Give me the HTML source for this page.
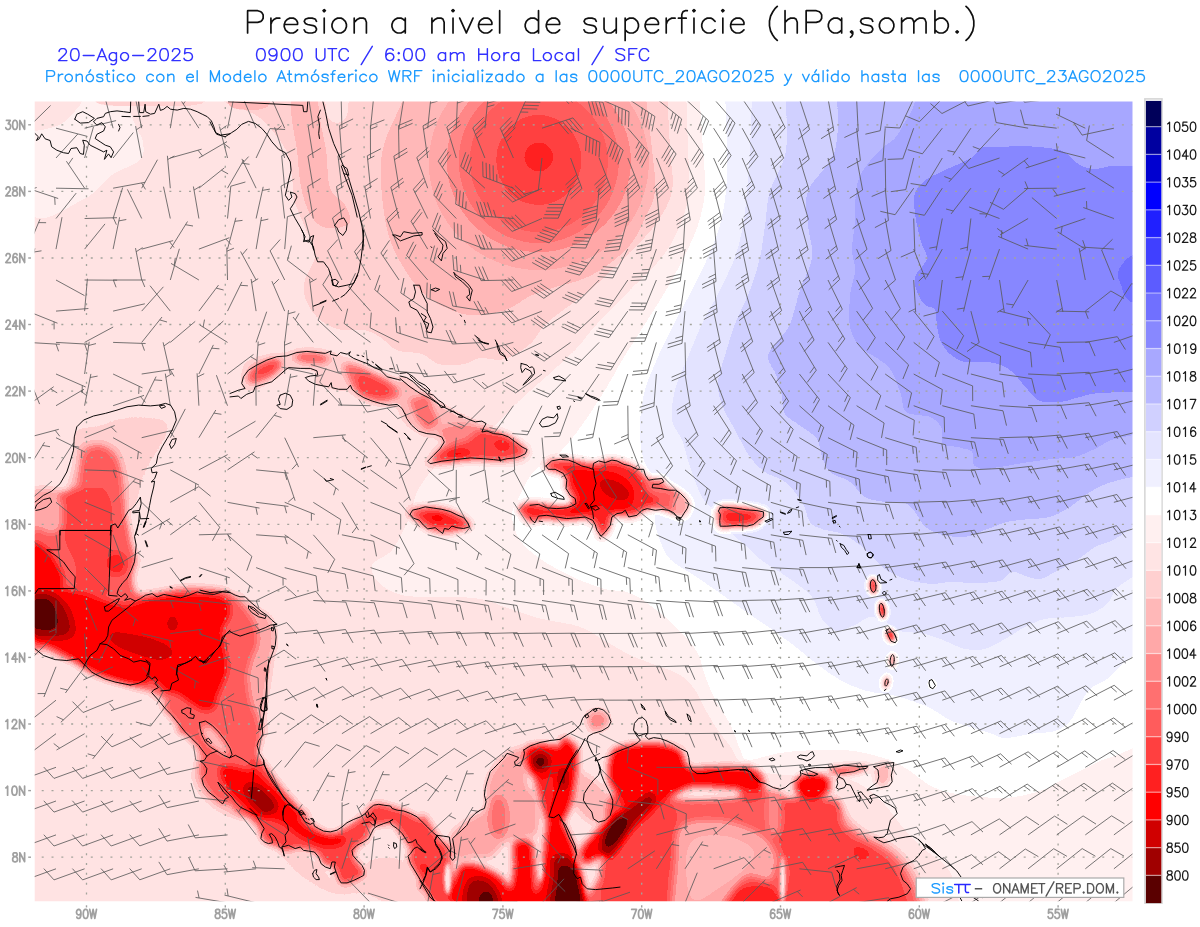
<!DOCTYPE html><html><head><meta charset="utf-8"><title>Presion a nivel de superficie</title><style>html,body{margin:0;padding:0;background:#fff;font-family:"Liberation Sans",sans-serif}svg{display:block}</style></head><body><svg width="1200" height="927" viewBox="0 0 1200 927"><defs><clipPath id="mapclip"><rect x="34.7" y="101.5" width="1097.8" height="799.7"/></clipPath><filter id="b3" color-interpolation-filters="sRGB" x="-20%" y="-20%" width="140%" height="140%"><feGaussianBlur stdDeviation="3"/></filter><filter id="b18" color-interpolation-filters="sRGB" x="-20%" y="-20%" width="140%" height="140%"><feGaussianBlur stdDeviation="1.8"/></filter><filter id="cmap" x="0" y="0" width="100%" height="100%" filterUnits="objectBoundingBox" color-interpolation-filters="sRGB"><feComponentTransfer><feFuncR type="discrete" tableValues="0.3529 0.6275 0.8157 1.0000 1.0000 1.0000 1.0000 1.0000 1.0000 1.0000 1.0000 1.0000 1.0000 1.0000 1.0000 0.9412 0.8941 0.8157 0.7216 0.6588 0.5333 0.4392 0.3608 0.2510 0.1255 0.0000 0.0000 0.0000 0.0000"/><feFuncG type="discrete" tableValues="0.0000 0.0000 0.0000 0.0000 0.1255 0.2510 0.3608 0.4392 0.5333 0.6588 0.7216 0.8157 0.8941 0.9412 1.0000 0.9412 0.8941 0.8157 0.7216 0.6588 0.5333 0.4392 0.3608 0.2510 0.1255 0.0000 0.0000 0.0000 0.0000"/><feFuncB type="discrete" tableValues="0.0000 0.0000 0.0000 0.0000 0.1255 0.2510 0.3608 0.4392 0.5333 0.6588 0.7216 0.8157 0.8941 0.9412 1.0000 1.0000 1.0000 1.0000 1.0000 1.0000 1.0000 1.0000 1.0000 1.0000 1.0000 1.0000 0.8157 0.6275 0.3529"/></feComponentTransfer></filter></defs><rect width="1200" height="927" fill="#fff"/><g clip-path="url(#mapclip)"><g filter="url(#cmap)"><rect x="32.7" y="99.5" width="1101.8" height="803.7" fill="#6e6e6e"/><path d="M686.0,90.0C686.3,100.0 687.5,133.2 688.0,150.0C688.5,166.8 690.3,178.5 689.0,191.0C687.7,203.5 684.5,214.0 680.0,225.0C675.5,236.0 670.3,246.2 662.0,257.0C653.7,267.8 640.8,278.8 630.0,290.0C619.2,301.2 606.2,314.0 597.0,324.0C587.8,334.0 583.2,341.5 575.0,350.0C566.8,358.5 557.2,366.7 548.0,375.0C538.8,383.3 528.8,391.7 520.0,400.0C511.2,408.3 503.3,417.5 495.0,425.0C486.7,432.5 479.2,438.8 470.0,445.0C460.8,451.2 448.7,454.5 440.0,462.0C431.3,469.5 423.3,480.3 418.0,490.0C412.7,499.7 412.3,510.0 408.0,520.0C403.7,530.0 398.0,542.5 392.0,550.0C386.0,557.5 374.0,559.3 372.0,565.0C370.0,570.7 374.5,578.8 380.0,584.0C385.5,589.2 394.7,593.8 405.0,596.0C415.3,598.2 429.5,596.5 442.0,597.0C454.5,597.5 468.7,597.0 480.0,599.0C491.3,601.0 499.7,605.7 510.0,609.0C520.3,612.3 530.3,616.0 542.0,619.0C553.7,622.0 569.5,623.3 580.0,627.0C590.5,630.7 596.7,636.3 605.0,641.0C613.3,645.7 621.7,651.0 630.0,655.0C638.3,659.0 646.7,661.7 655.0,665.0C663.3,668.3 673.3,670.8 680.0,675.0C686.7,679.2 690.8,684.3 695.0,690.0C699.2,695.7 701.3,702.5 705.0,709.0C708.7,715.5 712.8,722.8 717.0,729.0C721.2,735.2 726.2,740.5 730.0,746.0C733.8,751.5 735.0,757.7 740.0,762.0C745.0,766.3 750.0,769.7 760.0,772.0C770.0,774.3 785.0,774.7 800.0,776.0C815.0,777.3 836.7,776.0 850.0,780.0C863.3,784.0 870.8,791.7 880.0,800.0C889.2,808.3 897.5,821.7 905.0,830.0C912.5,838.3 917.5,843.0 925.0,850.0C932.5,857.0 943.8,860.8 950.0,872.0C956.2,883.2 960.0,909.5 962.0,917.0L1155.0,917.0 L1155.0,80.0 L686.0,80.0 Z" fill="#777777"/><path d="M699.0,90.0C699.7,100.0 702.0,133.2 703.0,150.0C704.0,166.8 705.8,178.5 705.0,191.0C704.2,203.5 701.5,214.0 698.0,225.0C694.5,236.0 689.3,246.2 684.0,257.0C678.7,267.8 672.5,278.8 666.0,290.0C659.5,301.2 652.0,312.8 645.0,324.0C638.0,335.2 630.7,346.0 624.0,357.0C617.3,368.0 612.0,378.7 605.0,390.0C598.0,401.3 589.5,414.7 582.0,425.0C574.5,435.3 567.8,444.5 560.0,452.0C552.2,459.5 541.7,462.8 535.0,470.0C528.3,477.2 523.8,487.5 520.0,495.0C516.2,502.5 512.0,507.5 512.0,515.0C512.0,522.5 515.0,532.5 520.0,540.0C525.0,547.5 532.8,553.7 542.0,560.0C551.2,566.3 564.5,573.2 575.0,578.0C585.5,582.8 595.8,586.5 605.0,589.0C614.2,591.5 621.7,589.7 630.0,593.0C638.3,596.3 646.7,602.7 655.0,609.0C663.3,615.3 673.0,623.8 680.0,631.0C687.0,638.2 692.8,644.5 697.0,652.0C701.2,659.5 702.0,668.2 705.0,676.0C708.0,683.8 710.8,691.0 715.0,699.0C719.2,707.0 725.8,715.7 730.0,724.0C734.2,732.3 737.0,743.0 740.0,749.0C743.0,755.0 741.3,759.3 748.0,760.0C754.7,760.7 768.0,754.7 780.0,753.0C792.0,751.3 806.7,750.2 820.0,750.0C833.3,749.8 846.7,749.5 860.0,752.0C873.3,754.5 886.7,758.7 900.0,765.0C913.3,771.3 923.3,784.5 940.0,790.0C956.7,795.5 983.3,797.8 1000.0,798.0C1016.7,798.2 1030.0,793.8 1040.0,791.0C1050.0,788.2 1053.3,784.3 1060.0,781.0C1066.7,777.7 1073.3,774.3 1080.0,771.0C1086.7,767.7 1093.3,763.8 1100.0,761.0C1106.7,758.2 1112.5,757.2 1120.0,754.0C1127.5,750.8 1140.8,744.0 1145.0,742.0L1155.0,742.0 L1155.0,80.0 L699.0,80.0 Z" fill="#808080"/><path d="M725.0,90.0C725.3,100.0 726.8,133.2 727.0,150.0C727.2,166.8 727.2,178.5 726.0,191.0C724.8,203.5 723.0,214.0 720.0,225.0C717.0,236.0 712.7,246.2 708.0,257.0C703.3,267.8 697.7,278.8 692.0,290.0C686.3,301.2 679.7,312.8 674.0,324.0C668.3,335.2 662.8,346.0 658.0,357.0C653.2,368.0 648.0,378.7 645.0,390.0C642.0,401.3 640.3,413.8 640.0,425.0C639.7,436.2 640.5,447.0 643.0,457.0C645.5,467.0 653.0,474.5 655.0,485.0C657.0,495.5 654.2,510.8 655.0,520.0C655.8,529.2 657.5,533.5 660.0,540.0C662.5,546.5 664.7,553.3 670.0,559.0C675.3,564.7 684.2,568.7 692.0,574.0C699.8,579.3 708.7,585.2 717.0,591.0C725.3,596.8 733.7,603.2 742.0,609.0C750.3,614.8 758.7,620.2 767.0,626.0C775.3,631.8 783.7,637.7 792.0,644.0C800.3,650.3 808.7,657.8 817.0,664.0C825.3,670.2 833.7,676.5 842.0,681.0C850.3,685.5 858.7,688.7 867.0,691.0C875.3,693.3 884.5,693.3 892.0,695.0C899.5,696.7 905.7,698.8 912.0,701.0C918.3,703.2 923.7,704.8 930.0,708.0C936.3,711.2 943.3,716.8 950.0,720.0C956.7,723.2 963.3,724.8 970.0,727.0C976.7,729.2 984.2,731.2 990.0,733.0C995.8,734.8 998.3,737.8 1005.0,738.0C1011.7,738.2 1021.7,735.2 1030.0,734.0C1038.3,732.8 1048.3,733.2 1055.0,731.0C1061.7,728.8 1065.8,725.5 1070.0,721.0C1074.2,716.5 1076.7,709.3 1080.0,704.0C1083.3,698.7 1085.5,693.2 1090.0,689.0C1094.5,684.8 1101.2,683.5 1107.0,679.0C1112.8,674.5 1118.7,667.5 1125.0,662.0C1131.3,656.5 1141.7,648.7 1145.0,646.0L1155.0,646.0 L1155.0,80.0 L725.0,80.0 Z" fill="#888888"/><path d="M752.0,90.0C751.7,100.0 750.8,133.2 750.0,150.0C749.2,166.8 748.2,178.5 747.0,191.0C745.8,203.5 745.0,214.0 743.0,225.0C741.0,236.0 738.8,246.2 735.0,257.0C731.2,267.8 725.5,278.8 720.0,290.0C714.5,301.2 707.3,312.8 702.0,324.0C696.7,335.2 692.5,346.0 688.0,357.0C683.5,368.0 677.7,379.5 675.0,390.0C672.3,400.5 670.8,411.7 672.0,420.0C673.2,428.3 679.0,432.2 682.0,440.0C685.0,447.8 686.7,457.5 690.0,467.0C693.3,476.5 697.8,489.5 702.0,497.0C706.2,504.5 710.3,506.2 715.0,512.0C719.7,517.8 725.0,526.5 730.0,532.0C735.0,537.5 740.0,540.5 745.0,545.0C750.0,549.5 752.5,553.3 760.0,559.0C767.5,564.7 781.3,572.7 790.0,579.0C798.7,585.3 806.7,590.3 812.0,597.0C817.3,603.7 817.8,613.3 822.0,619.0C826.2,624.7 831.5,630.0 837.0,631.0C842.5,632.0 849.5,627.3 855.0,625.0C860.5,622.7 865.0,617.5 870.0,617.0C875.0,616.5 880.0,619.7 885.0,622.0C890.0,624.3 893.3,629.0 900.0,631.0C906.7,633.0 917.5,632.3 925.0,634.0C932.5,635.7 938.3,638.5 945.0,641.0C951.7,643.5 958.3,647.7 965.0,649.0C971.7,650.3 978.3,650.7 985.0,649.0C991.7,647.3 998.3,642.7 1005.0,639.0C1011.7,635.3 1018.3,630.3 1025.0,627.0C1031.7,623.7 1037.5,620.7 1045.0,619.0C1052.5,617.3 1062.5,617.8 1070.0,617.0C1077.5,616.2 1083.8,616.2 1090.0,614.0C1096.2,611.8 1102.3,608.5 1107.0,604.0C1111.7,599.5 1111.7,592.7 1118.0,587.0C1124.3,581.3 1140.5,572.8 1145.0,570.0L1155.0,570.0 L1155.0,80.0 L752.0,80.0 Z" fill="#919191"/><path d="M785.0,90.0C785.2,100.0 788.5,133.2 786.0,150.0C783.5,166.8 773.5,178.5 770.0,191.0C766.5,203.5 766.7,214.0 765.0,225.0C763.3,236.0 762.5,246.2 760.0,257.0C757.5,267.8 754.2,278.8 750.0,290.0C745.8,301.2 739.0,313.7 735.0,324.0C731.0,334.3 728.8,342.3 726.0,352.0C723.2,361.7 718.7,373.2 718.0,382.0C717.3,390.8 719.2,397.0 722.0,405.0C724.8,413.0 730.3,421.3 735.0,430.0C739.7,438.7 745.0,450.0 750.0,457.0C755.0,464.0 759.2,467.8 765.0,472.0C770.8,476.2 778.8,477.0 785.0,482.0C791.2,487.0 797.8,495.3 802.0,502.0C806.2,508.7 806.7,517.5 810.0,522.0C813.3,526.5 816.7,527.0 822.0,529.0C827.3,531.0 835.7,531.3 842.0,534.0C848.3,536.7 854.5,540.8 860.0,545.0C865.5,549.2 870.8,555.0 875.0,559.0C879.2,563.0 880.0,565.7 885.0,569.0C890.0,572.3 897.5,576.5 905.0,579.0C912.5,581.5 922.5,583.5 930.0,584.0C937.5,584.5 942.5,582.2 950.0,582.0C957.5,581.8 966.7,583.2 975.0,583.0C983.3,582.8 993.8,582.8 1000.0,581.0C1006.2,579.2 1007.8,572.8 1012.0,572.0C1016.2,571.2 1020.3,574.8 1025.0,576.0C1029.7,577.2 1035.0,579.7 1040.0,579.0C1045.0,578.3 1050.0,574.5 1055.0,572.0C1060.0,569.5 1065.8,566.3 1070.0,564.0C1074.2,561.7 1075.8,560.8 1080.0,558.0C1084.2,555.2 1089.2,550.2 1095.0,547.0C1100.8,543.8 1106.7,543.8 1115.0,539.0C1123.3,534.2 1140.0,521.5 1145.0,518.0L1155.0,518.0 L1155.0,80.0 L785.0,80.0 Z" fill="#9a9a9a"/><path d="M837.0,90.0C836.7,100.0 839.8,133.2 835.0,150.0C830.2,166.8 812.5,178.5 808.0,191.0C803.5,203.5 807.3,214.0 808.0,225.0C808.7,236.0 813.3,246.2 812.0,257.0C810.7,267.8 803.7,278.8 800.0,290.0C796.3,301.2 793.8,315.3 790.0,324.0C786.2,332.7 780.7,336.5 777.0,342.0C773.3,347.5 768.0,351.2 768.0,357.0C768.0,362.8 774.7,370.3 777.0,377.0C779.3,383.7 780.7,390.8 782.0,397.0C783.3,403.2 781.7,409.0 785.0,414.0C788.3,419.0 796.7,422.8 802.0,427.0C807.3,431.2 813.7,434.0 817.0,439.0C820.3,444.0 819.8,451.5 822.0,457.0C824.2,462.5 825.3,467.8 830.0,472.0C834.7,476.2 844.2,477.8 850.0,482.0C855.8,486.2 859.2,493.7 865.0,497.0C870.8,500.3 878.3,501.0 885.0,502.0C891.7,503.0 900.0,501.3 905.0,503.0C910.0,504.7 912.2,508.7 915.0,512.0C917.8,515.3 919.5,520.0 922.0,523.0C924.5,526.0 926.5,528.0 930.0,530.0C933.5,532.0 937.2,533.8 943.0,535.0C948.8,536.2 958.0,537.8 965.0,537.0C972.0,536.2 978.0,532.5 985.0,530.0C992.0,527.5 999.5,523.8 1007.0,522.0C1014.5,520.2 1022.8,519.8 1030.0,519.0C1037.2,518.2 1043.3,519.0 1050.0,517.0C1056.7,515.0 1063.3,511.2 1070.0,507.0C1076.7,502.8 1083.0,496.2 1090.0,492.0C1097.0,487.8 1102.8,485.0 1112.0,482.0C1121.2,479.0 1139.5,475.3 1145.0,474.0L1155.0,474.0 L1155.0,80.0 L837.0,80.0 Z" fill="#a3a3a3"/><path d="M918.0,90.0C917.0,93.3 914.5,104.2 912.0,110.0C909.5,115.8 905.8,120.3 903.0,125.0C900.2,129.7 898.8,133.8 895.0,138.0C891.2,142.2 885.5,144.3 880.0,150.0C874.5,155.7 866.0,165.2 862.0,172.0C858.0,178.8 857.2,183.0 856.0,191.0C854.8,199.0 855.7,210.2 855.0,220.0C854.3,229.8 852.0,241.7 852.0,250.0C852.0,258.3 855.3,262.5 855.0,270.0C854.7,277.5 850.8,285.5 850.0,295.0C849.2,304.5 848.3,318.3 850.0,327.0C851.7,335.7 855.8,342.0 860.0,347.0C864.2,352.0 870.0,353.3 875.0,357.0C880.0,360.7 885.8,363.2 890.0,369.0C894.2,374.8 897.5,385.0 900.0,392.0C902.5,399.0 902.2,407.2 905.0,411.0C907.8,414.8 912.8,414.0 917.0,415.0C921.2,416.0 926.0,415.0 930.0,417.0C934.0,419.0 938.8,422.5 941.0,427.0C943.2,431.5 940.3,440.7 943.0,444.0C945.7,447.3 952.2,445.7 957.0,447.0C961.8,448.3 969.3,449.2 972.0,452.0C974.7,454.8 971.2,461.2 973.0,464.0C974.8,466.8 978.5,468.5 983.0,469.0C987.5,469.5 992.2,468.2 1000.0,467.0C1007.8,465.8 1020.8,463.3 1030.0,462.0C1039.2,460.7 1047.5,459.8 1055.0,459.0C1062.5,458.2 1068.3,458.7 1075.0,457.0C1081.7,455.3 1088.8,451.8 1095.0,449.0C1101.2,446.2 1103.7,442.7 1112.0,440.0C1120.3,437.3 1139.5,434.2 1145.0,433.0L1155.0,433.0 L1155.0,80.0 L918.0,80.0 Z" fill="#ababab"/><path d="M1145.0,166.0C1139.5,166.0 1120.3,165.5 1112.0,166.0C1103.7,166.5 1100.3,169.2 1095.0,169.0C1089.7,168.8 1084.7,167.5 1080.0,165.0C1075.3,162.5 1071.2,156.7 1067.0,154.0C1062.8,151.3 1062.0,150.3 1055.0,149.0C1048.0,147.7 1034.2,146.3 1025.0,146.0C1015.8,145.7 1007.2,146.8 1000.0,147.0C992.8,147.2 986.2,146.2 982.0,147.5C977.8,148.8 977.8,152.8 975.0,155.0C972.2,157.2 970.0,158.5 965.0,161.0C960.0,163.5 951.3,167.0 945.0,170.0C938.7,173.0 931.7,175.8 927.0,179.0C922.3,182.2 919.2,185.5 917.0,189.0C914.8,192.5 914.2,194.8 914.0,200.0C913.8,205.2 914.8,213.0 916.0,220.0C917.2,227.0 919.2,235.8 921.0,242.0C922.8,248.2 926.8,252.8 927.0,257.0C927.2,261.2 924.0,263.7 922.0,267.0C920.0,270.3 915.8,272.8 915.0,277.0C914.2,281.2 915.3,287.3 917.0,292.0C918.7,296.7 922.0,302.0 925.0,305.0C928.0,308.0 933.0,306.3 935.0,310.0C937.0,313.7 936.0,321.7 937.0,327.0C938.0,332.3 938.8,337.5 941.0,342.0C943.2,346.5 946.0,350.7 950.0,354.0C954.0,357.3 958.8,360.7 965.0,362.0C971.2,363.3 980.3,361.2 987.0,362.0C993.7,362.8 1000.0,364.5 1005.0,367.0C1010.0,369.5 1013.3,373.3 1017.0,377.0C1020.7,380.7 1023.2,385.0 1027.0,389.0C1030.8,393.0 1034.5,398.8 1040.0,401.0C1045.5,403.2 1053.3,402.7 1060.0,402.0C1066.7,401.3 1073.3,398.5 1080.0,397.0C1086.7,395.5 1089.2,393.8 1100.0,393.0C1110.8,392.2 1137.5,392.2 1145.0,392.0L1155.0,392.0 L1155.0,166.0 Z" fill="#b4b4b4"/><path d="M1145.0,248.0C1142.2,249.7 1132.5,254.0 1128.0,258.0C1123.5,262.0 1119.2,267.5 1118.0,272.0C1116.8,276.5 1119.3,280.3 1121.0,285.0C1122.7,289.7 1124.0,296.5 1128.0,300.0C1132.0,303.5 1142.2,305.0 1145.0,306.0L1155.0,306.0 L1155.0,248.0 Z" fill="#bdbdbd"/><path d="M30.0,212.0C39.0,230.2 70.3,205.2 84.0,199.0C97.7,192.8 102.7,181.5 112.0,175.0C121.3,168.5 134.8,165.5 140.0,160.0C145.2,154.5 143.7,147.5 143.0,142.0C142.3,136.5 138.2,132.3 136.0,127.0C133.8,121.7 131.8,116.2 130.0,110.0C128.2,103.8 141.7,93.3 125.0,90.0C108.3,86.7 45.8,69.7 30.0,90.0C14.2,110.3 21.0,193.8 30.0,212.0Z" fill="#777777"/><path d="M667.0,90.0C667.5,100.0 669.2,133.2 670.0,150.0C670.8,166.8 674.5,178.5 672.0,191.0C669.5,203.5 662.8,214.0 655.0,225.0C647.2,236.0 635.8,246.2 625.0,257.0C614.2,267.8 602.8,279.2 590.0,290.0C577.2,300.8 558.0,313.0 548.0,322.0C538.0,331.0 537.2,337.8 530.0,344.0C522.8,350.2 513.3,356.7 505.0,359.0C496.7,361.3 486.8,357.2 480.0,358.0C473.2,358.8 470.8,363.0 464.0,364.0C457.2,365.0 446.0,365.7 439.0,364.0C432.0,362.3 429.0,356.3 422.0,354.0C415.0,351.7 404.0,352.8 397.0,350.0C390.0,347.2 385.5,340.3 380.0,337.0C374.5,333.7 371.0,331.3 364.0,330.0C357.0,328.7 345.8,331.2 338.0,329.0C330.2,326.8 322.5,322.3 317.0,317.0C311.5,311.7 307.0,303.2 305.0,297.0C303.0,290.8 303.3,287.0 305.0,280.0C306.7,273.0 315.0,263.8 315.0,255.0C315.0,246.2 308.3,235.8 305.0,227.0C301.7,218.2 297.2,210.3 295.0,202.0C292.8,193.7 293.3,185.3 292.0,177.0C290.7,168.7 291.5,161.2 287.0,152.0C282.5,142.8 272.0,129.0 265.0,122.0C258.0,115.0 251.7,113.3 245.0,110.0C238.3,106.7 228.8,105.3 225.0,102.0C221.2,98.7 222.5,92.0 222.0,90.0Z" fill="#656565"/><path d="M645.0,90.0C646.2,100.0 650.3,133.2 652.0,150.0C653.7,166.8 656.2,179.7 655.0,191.0C653.8,202.3 649.2,209.0 645.0,218.0C640.8,227.0 636.7,236.8 630.0,245.0C623.3,253.2 613.3,261.2 605.0,267.0C596.7,272.8 588.3,276.7 580.0,280.0C571.7,283.3 563.3,284.3 555.0,287.0C546.7,289.7 538.3,292.2 530.0,296.0C521.7,299.8 515.0,306.8 505.0,310.0C495.0,313.2 481.7,316.3 470.0,315.0C458.3,313.7 444.7,307.8 435.0,302.0C425.3,296.2 419.2,289.5 412.0,280.0C404.8,270.5 396.7,256.3 392.0,245.0C387.3,233.7 385.8,223.3 384.0,212.0C382.2,200.7 381.0,188.2 381.0,177.0C381.0,165.8 380.5,157.5 384.0,145.0C387.5,132.5 398.5,111.2 402.0,102.0C405.5,92.8 404.5,92.0 405.0,90.0Z" fill="#5c5c5c"/><path d="M290.0,90.0C290.3,95.0 290.8,110.0 292.0,120.0C293.2,130.0 295.7,140.0 297.0,150.0C298.3,160.0 298.5,170.8 300.0,180.0C301.5,189.2 303.0,197.7 306.0,205.0C309.0,212.3 313.2,220.2 318.0,224.0C322.8,227.8 329.7,228.3 335.0,228.0C340.3,227.7 348.3,225.8 350.0,222.0C351.7,218.2 348.3,210.7 345.0,205.0C341.7,199.3 333.2,197.2 330.0,188.0C326.8,178.8 327.7,161.3 326.0,150.0C324.3,138.7 321.5,130.0 320.0,120.0C318.5,110.0 317.5,95.0 317.0,90.0Z" fill="#5c5c5c"/><path d="M325.0,90.0C325.3,94.2 325.0,109.5 327.0,115.0C329.0,120.5 333.7,123.0 337.0,123.0C340.3,123.0 345.0,120.5 347.0,115.0C349.0,109.5 348.7,94.2 349.0,90.0Z" fill="#6e6e6e"/><path d="M228.0,90.0C228.3,92.7 226.3,102.7 230.0,106.0C233.7,109.3 243.7,110.0 250.0,110.0C256.3,110.0 264.7,109.3 268.0,106.0C271.3,102.7 269.7,92.7 270.0,90.0Z" fill="#5c5c5c"/><path d="M92.0,90.0C93.3,92.3 90.3,101.3 100.0,104.0C109.7,106.7 133.3,106.0 150.0,106.0C166.7,106.0 190.5,106.7 200.0,104.0C209.5,101.3 205.8,92.3 207.0,90.0Z" fill="#656565"/><path d="M30.0,90.0C39.0,90.0 78.3,84.7 84.0,90.0C89.7,95.3 73.0,115.0 64.0,122.0C55.0,129.0 35.7,130.3 30.0,132.0Z" fill="#6e6e6e"/><ellipse cx="538.8" cy="163.0" rx="110.0" ry="107.0" fill="#545454" transform="rotate(0.0 538.8 163.0)"/><ellipse cx="538.8" cy="161.0" rx="92.0" ry="91.0" fill="#4b4b4b" transform="rotate(0.0 538.8 161.0)"/><ellipse cx="538.8" cy="161.0" rx="80.0" ry="82.0" fill="#424242" transform="rotate(0.0 538.8 161.0)"/><ellipse cx="538.8" cy="161.0" rx="69.0" ry="71.0" fill="#393939" transform="rotate(0.0 538.8 161.0)"/><ellipse cx="538.8" cy="160.0" rx="42.5" ry="45.0" fill="#303030" transform="rotate(0.0 538.8 160.0)"/><ellipse cx="538.8" cy="157.0" rx="14.3" ry="14.3" fill="#282828" transform="rotate(0.0 538.8 157.0)"/><g filter="url(#b3)"><path d="M76.8,430.2C80.4,426.8 90.2,428.5 96.9,426.8C103.6,425.2 110.3,421.7 117.0,420.1C123.6,418.6 130.3,417.8 137.0,417.6C143.7,417.5 152.1,418.3 157.1,419.3C162.1,420.3 165.7,420.8 167.1,423.5C168.5,426.1 167.1,430.7 165.5,435.2C163.8,439.6 160.2,444.9 157.1,450.2C154.0,455.5 149.8,461.4 147.1,467.0C144.3,472.5 142.0,478.1 140.4,483.7C138.7,489.3 138.7,495.9 137.0,500.4C135.4,504.9 132.6,507.4 130.3,510.4C128.1,513.5 125.9,514.3 123.6,518.8C121.4,523.3 128.4,534.1 117.0,537.2C105.5,540.3 64.6,541.1 55.1,537.2C45.6,533.3 58.4,520.5 60.1,513.8C61.8,507.1 63.4,502.6 65.1,497.1C66.8,491.5 68.7,485.9 70.1,480.3C71.5,474.8 72.6,469.2 73.5,463.6C74.3,458.0 74.6,452.5 75.2,446.9C75.7,441.3 73.2,433.5 76.8,430.2Z" fill="#656565"/><path d="M246.7,361.7C253.1,357.6 270.1,355.3 280.2,353.4C290.2,351.4 298.6,350.3 306.9,350.0C315.3,349.8 323.6,350.3 330.3,351.7C337.0,353.1 340.9,355.9 347.1,358.4C353.2,360.9 360.2,364.0 367.1,366.8C374.1,369.5 382.5,372.3 388.9,375.1C395.3,377.9 398.7,379.9 405.6,383.5C412.4,387.1 425.9,388.5 430.0,396.9C434.1,405.2 432.7,428.1 430.0,433.6C427.3,439.2 418.3,432.5 413.9,430.3C409.6,428.1 406.7,424.2 403.9,420.3C401.1,416.4 401.1,409.4 397.2,406.9C393.3,404.4 386.1,406.3 380.5,405.2C374.9,404.1 368.8,402.4 363.8,400.2C358.8,398.0 354.9,393.5 350.4,391.8C345.9,390.2 341.5,391.0 337.0,390.2C332.6,389.3 327.5,387.9 323.6,386.8C319.7,385.7 314.7,385.7 313.6,383.5C312.5,381.2 317.5,375.8 317.0,373.4C316.4,371.1 315.0,370.1 310.3,369.3C305.5,368.4 294.1,367.2 288.5,368.4C283.0,369.7 281.0,374.0 276.8,376.8C272.6,379.6 267.3,382.9 263.4,385.2C259.5,387.4 256.8,389.6 253.4,390.2C250.1,390.7 245.3,390.4 243.4,388.5C241.4,386.5 241.1,382.9 241.7,378.5C242.3,374.0 240.3,365.9 246.7,361.7Z" fill="#656565"/><path d="M280.1,850.3C281.5,848.1 293.5,850.9 300.2,853.6C306.9,856.4 314.1,862.0 320.2,867.0C326.4,872.0 329.7,881.5 337.0,883.7C344.2,886.0 358.1,884.3 363.7,880.4C369.3,876.5 364.3,863.7 370.4,860.3C376.5,857.0 393.8,857.5 400.5,860.3C407.2,863.1 406.4,871.5 410.5,877.1C414.7,882.6 421.7,888.2 425.6,893.8C429.5,899.4 438.1,907.7 433.9,910.5C429.8,913.3 411.6,913.3 400.5,910.5C389.4,907.7 377.6,896.6 367.1,893.8C356.5,891.0 345.9,895.5 337.0,893.8C328.0,892.1 321.1,888.2 313.5,883.7C306.0,879.3 297.4,872.6 291.8,867.0C286.2,861.4 278.7,852.5 280.1,850.3Z" fill="#656565"/><path d="M400.0,378.5C402.8,375.4 409.8,384.0 416.7,388.5C423.7,393.0 433.4,400.2 441.8,405.2C450.2,410.2 459.4,415.0 466.9,418.6C474.4,422.2 480.3,424.4 487.0,427.0C493.6,429.5 500.1,430.0 507.0,433.6C514.0,437.3 526.0,444.2 528.8,448.7C531.5,453.2 528.5,457.9 523.7,460.4C519.0,462.9 509.8,463.5 500.3,463.7C490.9,464.0 476.6,461.8 466.9,462.1C457.1,462.4 448.8,465.1 441.8,465.4C434.8,465.7 425.6,466.5 425.1,463.7C424.5,461.0 435.7,452.9 438.5,448.7C441.2,444.5 444.0,441.2 441.8,438.7C439.6,436.2 430.4,436.2 425.1,433.6C419.8,431.1 414.2,428.1 410.0,423.6C405.9,419.2 401.7,414.4 400.0,406.9C398.3,399.4 397.2,381.5 400.0,378.5Z" fill="#5c5c5c"/><path d="M201.9,725.2C203.7,724.4 208.3,724.4 211.9,726.9C215.6,729.4 220.6,736.1 223.6,740.3C226.7,744.4 229.8,749.3 230.3,752.0C230.9,754.6 229.8,756.7 227.0,756.2C224.2,755.6 217.2,751.3 213.6,748.6C210.0,746.0 207.3,743.1 205.3,740.3C203.2,737.5 201.6,734.4 201.1,731.9C200.5,729.4 200.1,726.1 201.9,725.2Z" fill="#5c5c5c"/><path d="M570.5,775.1C573.3,771.5 580.3,770.9 587.2,775.1C594.2,779.3 608.1,792.6 612.3,800.2C616.5,807.7 615.4,816.3 612.3,820.2C609.2,824.1 599.2,824.7 593.9,823.6C588.6,822.5 584.4,818.0 580.5,813.5C576.6,809.1 572.2,803.2 570.5,796.8C568.8,790.4 567.7,778.7 570.5,775.1Z" fill="#5c5c5c"/><path d="M875.5,766.7C877.7,763.2 888.3,761.4 890.5,764.2C892.7,767.0 891.1,780.0 888.8,783.4C886.6,786.9 879.4,787.9 877.1,785.1C874.9,782.3 873.2,770.2 875.5,766.7Z" fill="#5c5c5c"/><path d="M150.1,690.1C150.9,690.4 158.4,698.2 163.4,703.5C168.5,708.8 174.6,715.7 180.2,721.9C185.7,728.0 194.1,733.9 196.9,740.3C199.7,746.7 197.4,754.2 196.9,760.3C196.3,766.5 193.0,771.8 193.5,777.1C194.1,782.4 196.9,787.4 200.2,792.1C203.6,796.8 208.6,801.7 213.6,805.5C218.6,809.3 224.8,813.1 230.3,815.0C235.9,817.0 246.5,819.1 247.1,817.2C247.6,815.3 238.1,807.7 233.7,803.8C229.2,799.9 224.8,797.7 220.3,793.8C215.8,789.9 209.7,785.4 206.9,780.4C204.1,775.4 204.1,768.1 203.6,763.7C203.0,759.2 206.6,758.7 203.6,753.6C200.5,748.6 191.0,740.0 185.2,733.6C179.3,727.2 172.9,720.5 168.5,715.2C164.0,709.9 161.5,706.0 158.4,701.8C155.4,697.6 149.2,689.8 150.1,690.1Z" fill="#5c5c5c"/><path d="M235.0,592.5C236.2,591.7 249.0,602.9 255.0,607.5C261.0,612.1 267.9,614.6 271.2,620.0C274.6,625.4 275.0,633.3 275.0,640.0C275.0,646.7 272.7,653.3 271.2,660.0C269.8,666.7 267.9,673.3 266.2,680.0C264.6,686.7 261.7,693.3 261.2,700.0C260.8,706.7 263.3,714.2 263.8,720.0C264.2,725.8 266.5,732.5 263.8,735.0C261.0,737.5 250.6,741.7 247.5,735.0C244.4,728.3 245.8,705.0 245.0,695.0C244.2,685.0 241.7,680.8 242.5,675.0C243.3,669.2 247.5,665.4 250.0,660.0C252.5,654.6 256.7,648.3 257.5,642.5C258.3,636.7 256.7,630.0 255.0,625.0C253.3,620.0 250.8,617.9 247.5,612.5C244.2,607.1 233.8,593.3 235.0,592.5Z" fill="#545454"/><path d="M30.0,492.5C35.4,485.0 56.7,489.6 62.5,492.5C68.3,495.4 65.4,503.8 65.0,510.0C64.6,516.2 62.5,526.0 60.0,530.0C57.5,534.0 55.0,532.5 50.0,533.8C45.0,535.0 33.3,544.4 30.0,537.5C26.7,530.6 24.6,500.0 30.0,492.5Z" fill="#545454"/><path d="M80.2,446.9C84.1,442.7 94.1,441.3 100.2,441.9C106.4,442.4 113.1,446.1 117.0,450.2C120.9,454.4 122.0,460.5 123.6,467.0C125.3,473.4 126.7,481.4 127.0,488.7C127.3,495.9 126.4,502.4 125.3,510.4C124.2,518.5 131.4,532.7 120.3,537.2C109.2,541.6 67.9,541.6 58.4,537.2C49.0,532.7 61.5,518.5 63.4,510.4C65.4,502.4 67.9,495.9 70.1,488.7C72.4,481.4 75.2,473.9 76.8,467.0C78.5,460.0 76.3,451.1 80.2,446.9Z" fill="#545454"/><path d="M237.0,656.7C240.1,656.7 264.1,649.7 268.8,656.7C273.5,663.6 266.6,686.8 265.5,698.5C264.3,710.2 263.2,719.9 262.1,726.9C261.0,733.9 259.6,735.8 258.8,740.3C257.9,744.7 258.5,760.1 257.1,753.6C255.7,747.2 252.1,714.6 250.4,701.8C248.7,689.0 247.1,684.2 247.1,676.7C247.1,669.2 252.1,660.0 250.4,656.7C248.7,653.3 234.0,656.7 237.0,656.7Z" fill="#545454"/><path d="M450.1,837.0C452.3,830.0 464.3,823.3 470.2,818.6C476.0,813.8 482.4,814.4 485.2,808.5C488.0,802.7 485.5,790.1 486.9,783.4C488.3,776.8 490.2,773.4 493.6,768.4C496.9,763.4 501.9,756.4 507.0,753.3C512.0,750.3 520.3,745.0 523.7,750.0C527.0,755.0 524.8,775.1 527.0,783.4C529.3,791.8 535.4,791.8 537.1,800.2C538.7,808.5 539.8,827.5 537.1,833.6C534.3,839.7 525.9,835.3 520.3,837.0C514.8,838.6 508.6,840.3 503.6,843.6C498.6,847.0 495.8,854.8 490.2,857.0C484.7,859.3 475.7,856.5 470.2,857.0C464.6,857.6 460.1,863.7 456.8,860.4C453.4,857.0 447.9,843.9 450.1,837.0Z" fill="#545454"/><path d="M836.7,796.7C837.8,796.1 845.0,813.9 850.0,820.0C855.0,826.1 860.6,829.4 866.7,833.3C872.8,837.2 880.6,839.4 886.7,843.3C892.8,847.2 898.3,851.1 903.3,856.7C908.3,862.2 912.8,868.3 916.7,876.7C920.6,885.0 925.0,898.3 926.7,906.7C928.3,915.0 927.8,923.3 926.7,926.7C925.6,930.0 921.4,930.0 920.0,926.7C918.6,923.3 920.0,914.4 918.3,906.7C916.7,898.9 913.6,887.8 910.0,880.0C906.4,872.2 901.7,865.6 896.7,860.0C891.7,854.4 886.1,850.6 880.0,846.7C873.9,842.8 866.1,840.6 860.0,836.7C853.9,832.8 847.2,830.0 843.3,823.3C839.4,816.7 835.6,797.2 836.7,796.7Z" fill="#545454"/><path d="M441.8,427.0C446.5,424.4 463.8,423.1 470.2,423.6C476.6,424.2 480.8,427.5 480.3,430.3C479.7,433.1 471.9,437.8 466.9,440.3C461.9,442.8 454.3,445.6 450.2,445.4C446.0,445.1 443.2,441.7 441.8,438.7C440.4,435.6 437.1,429.5 441.8,427.0Z" fill="#4b4b4b"/><path d="M588.4,713.4C590.7,710.6 600.1,710.3 603.5,711.7C606.8,713.1 609.1,718.7 608.5,721.7C607.9,724.8 603.2,729.0 600.1,730.1C597.1,731.2 592.1,731.2 590.1,728.4C588.1,725.6 586.2,716.2 588.4,713.4Z" fill="#4b4b4b"/><path d="M293.5,355.9C294.1,354.3 299.7,352.5 303.6,352.0C307.5,351.6 312.8,352.3 317.0,353.0C321.1,353.8 327.0,355.1 328.7,356.7C330.3,358.3 329.5,361.5 327.0,362.6C324.5,363.7 318.1,363.6 313.6,363.4C309.2,363.3 303.6,363.0 300.2,361.7C296.9,360.5 293.0,357.5 293.5,355.9Z" fill="#424242"/><path d="M343.7,365.1C345.4,363.1 352.1,363.7 357.1,365.1C362.1,366.5 368.2,370.7 373.8,373.4C379.4,376.2 386.4,379.0 390.5,381.8C394.7,384.6 397.8,387.4 398.9,390.2C400.0,393.0 400.3,396.6 397.2,398.5C394.2,400.5 386.1,402.2 380.5,401.9C374.9,401.6 368.2,399.1 363.8,396.9C359.3,394.6 356.5,391.8 353.7,388.5C351.0,385.2 348.7,380.7 347.1,376.8C345.4,372.9 342.0,367.0 343.7,365.1Z" fill="#424242"/><path d="M413.9,400.2C416.6,397.7 427.3,391.8 430.0,396.9C432.7,401.9 431.6,425.8 430.0,430.3C428.4,434.8 423.3,426.7 420.6,423.6C418.0,420.5 415.1,415.8 413.9,411.9C412.8,408.0 411.3,402.7 413.9,400.2Z" fill="#424242"/><path d="M410.0,398.5C411.7,397.4 417.8,398.2 421.7,400.2C425.6,402.2 430.7,406.3 433.4,410.2C436.2,414.1 439.0,420.8 438.5,423.6C437.9,426.4 433.4,427.8 430.1,427.0C426.8,426.1 421.5,421.9 418.4,418.6C415.3,415.3 413.1,410.2 411.7,406.9C410.3,403.5 408.4,399.6 410.0,398.5Z" fill="#424242"/><path d="M543.4,466.0C543.7,463.7 547.0,459.7 551.7,458.4C556.5,457.2 564.8,457.9 571.8,458.4C578.8,459.0 586.6,461.8 593.5,461.8C600.5,461.8 606.4,457.6 613.6,458.4C620.9,459.3 631.4,463.7 637.0,466.8C642.6,469.9 642.6,474.9 647.1,476.8C651.5,478.8 660.7,477.4 663.8,478.5C666.8,479.6 662.7,481.3 665.5,483.5C668.2,485.7 676.3,488.5 680.5,491.9C684.7,495.2 690.0,499.4 690.5,503.6C691.1,507.8 686.6,515.0 683.8,517.0C681.1,518.9 677.7,516.4 673.8,515.3C669.9,514.2 664.9,511.1 660.4,510.3C656.0,509.4 651.0,509.2 647.1,510.3C643.2,511.4 640.1,515.6 637.0,517.0C634.0,518.4 632.6,518.6 628.7,518.6C624.8,518.6 616.7,515.3 613.6,517.0C610.5,518.6 612.4,525.0 610.3,528.7C608.2,532.3 603.6,539.0 601.1,538.7C598.6,538.4 597.9,530.1 595.2,527.0C592.6,523.9 590.5,521.1 585.2,520.3C579.9,519.5 571.0,522.0 563.4,522.0C555.9,522.0 545.6,520.0 540.0,520.3C534.5,520.6 532.8,524.2 530.0,523.6C527.2,523.1 524.4,520.3 523.3,517.0C522.2,513.6 520.5,506.1 523.3,503.6C526.1,501.1 533.3,501.6 540.0,501.9C546.7,502.2 558.1,505.3 563.4,505.3C568.7,505.3 571.5,504.7 571.8,501.9C572.1,499.1 566.5,493.0 565.1,488.5C563.7,484.1 566.0,477.9 563.4,475.2C560.9,472.4 553.4,473.3 550.1,471.8C546.7,470.3 543.1,468.2 543.4,466.0Z" fill="#424242"/><path d="M717.6,506.1C721.5,502.3 733.9,504.6 741.8,505.3C749.7,505.9 761.5,508.0 765.2,510.3C769.0,512.5 766.1,515.8 764.4,518.6C762.7,521.4 760.3,525.3 755.2,527.0C750.0,528.7 739.6,528.5 733.4,528.7C727.3,528.8 721.0,531.6 718.4,527.8C715.7,524.1 713.7,509.8 717.6,506.1Z" fill="#424242"/><path d="M408.4,514.3C407.6,511.7 409.3,509.0 413.4,507.6C417.6,506.2 426.8,505.4 433.5,506.0C440.2,506.5 447.7,508.6 453.6,511.0C459.4,513.3 465.7,517.4 468.6,520.2C471.6,523.0 472.5,525.9 471.1,527.7C469.7,529.5 464.6,529.9 460.3,531.0C455.9,532.2 450.2,534.4 445.2,534.4C440.2,534.4 434.6,532.8 430.2,531.0C425.7,529.2 422.1,526.3 418.5,523.5C414.8,520.7 409.3,517.0 408.4,514.3Z" fill="#424242"/><path d="M507.8,816.9C507.8,819.6 507.5,822.4 507.1,824.9C506.6,827.4 505.9,829.8 505.1,831.7C504.3,833.6 503.2,835.2 502.1,836.2C501.0,837.2 499.8,837.8 498.6,837.8C497.4,837.8 496.2,837.2 495.1,836.2C494.0,835.2 492.9,833.6 492.1,831.7C491.3,829.8 490.5,827.4 490.1,824.9C489.6,822.4 489.4,819.6 489.4,816.9C489.4,814.2 489.6,811.4 490.1,808.9C490.5,806.4 491.3,804.0 492.1,802.1C492.9,800.2 494.0,798.6 495.1,797.6C496.2,796.6 497.4,796.0 498.6,796.0C499.8,796.0 501.0,796.6 502.1,797.6C503.2,798.6 504.3,800.2 505.1,802.1C505.9,804.0 506.6,806.4 507.1,808.9C507.5,811.4 507.8,814.2 507.8,816.9Z" fill="#424242"/><path d="M30.0,537.5C33.3,519.6 45.0,535.0 50.0,533.8C55.0,532.5 57.5,534.0 60.0,530.0C62.5,526.0 64.8,516.2 65.0,510.0C65.2,503.8 52.7,495.4 61.2,492.5C69.8,489.6 105.4,488.3 116.2,492.5C127.1,496.7 123.8,509.2 126.2,517.5C128.8,525.8 129.6,535.4 131.2,542.5C132.9,549.6 136.0,554.2 136.2,560.0C136.5,565.8 132.3,571.9 132.5,577.5C132.7,583.1 132.9,591.3 137.5,593.8C142.1,596.2 152.9,592.9 160.0,592.0C167.1,591.1 172.5,588.9 180.0,588.2C187.5,587.6 197.5,587.8 205.0,588.2C212.5,588.7 219.6,588.8 225.0,590.8C230.4,592.7 233.8,596.4 237.5,600.0C241.2,603.6 244.6,608.3 247.5,612.5C250.4,616.7 253.3,620.0 255.0,625.0C256.7,630.0 258.3,636.7 257.5,642.5C256.7,648.3 252.5,654.6 250.0,660.0C247.5,665.4 243.3,669.2 242.5,675.0C241.7,680.8 243.3,688.3 245.0,695.0C246.7,701.7 250.8,708.3 252.5,715.0C254.2,721.7 266.2,731.7 255.0,735.0C243.8,738.3 197.9,737.9 185.0,735.0C172.1,732.1 180.8,723.3 177.5,717.5C174.2,711.7 169.6,704.4 165.0,700.0C160.4,695.6 155.0,693.3 150.0,691.2C145.0,689.2 140.4,689.0 135.0,687.5C129.6,686.0 123.3,684.1 117.5,682.0C111.7,679.9 106.2,677.8 100.0,675.0C93.8,672.2 86.7,668.1 80.0,665.0C73.3,661.9 65.8,659.0 60.0,656.2C54.2,653.5 50.0,651.2 45.0,648.8C40.0,646.2 32.5,659.8 30.0,641.2C27.5,622.7 26.7,555.4 30.0,537.5Z" fill="#393939"/><path d="M85.2,451.9C88.5,447.4 95.5,446.3 100.2,446.9C105.0,447.4 110.3,450.8 113.6,455.3C117.0,459.7 118.9,466.7 120.3,473.6C121.7,480.6 122.0,489.0 122.0,497.1C122.0,505.1 121.1,515.5 120.3,522.1C119.5,528.8 126.4,534.7 117.0,537.2C107.5,539.7 71.5,541.1 63.4,537.2C55.4,533.3 66.0,520.5 68.5,513.8C71.0,507.1 76.5,503.7 78.5,497.1C80.4,490.4 79.1,481.2 80.2,473.6C81.3,466.1 81.8,456.4 85.2,451.9Z" fill="#393939"/><path d="M248.4,373.4C249.9,370.9 253.4,367.3 256.8,365.1C260.1,362.9 264.8,361.0 268.5,360.1C272.1,359.1 276.3,358.4 278.5,359.2C280.7,360.1 282.4,362.7 281.8,365.1C281.3,367.5 278.2,370.9 275.2,373.4C272.1,376.0 267.1,378.5 263.4,380.1C259.8,381.8 256.1,383.5 253.4,383.5C250.8,383.5 248.4,381.8 247.6,380.1C246.7,378.5 246.9,376.0 248.4,373.4Z" fill="#393939"/><path d="M301.9,355.9C305.0,355.2 317.2,355.1 320.3,355.9C323.4,356.7 323.4,360.2 320.3,360.9C317.2,361.6 305.0,360.9 301.9,360.1C298.8,359.2 298.8,356.6 301.9,355.9Z" fill="#393939"/><path d="M196.9,701.8C202.2,699.3 211.4,697.6 217.0,693.4C222.5,689.3 227.0,682.9 230.3,676.7C233.7,670.6 233.7,660.0 237.0,656.7C240.4,653.3 248.7,653.3 250.4,656.7C252.1,660.0 247.1,669.2 247.1,676.7C247.1,684.2 248.7,694.8 250.4,701.8C252.1,708.8 255.4,712.1 257.1,718.5C258.8,724.9 260.4,734.4 260.4,740.3C260.4,746.1 256.5,749.7 257.1,753.6C257.6,757.5 261.0,759.8 263.8,763.7C266.6,767.6 269.9,772.0 273.8,777.1C277.7,782.1 283.0,788.8 287.2,793.8C291.4,798.8 295.8,803.3 298.9,807.2C302.0,811.1 314.2,815.5 305.6,817.2C296.9,818.9 259.6,819.4 247.1,817.2C234.5,815.0 235.4,807.7 230.3,803.8C225.3,799.9 221.1,797.7 217.0,793.8C212.8,789.9 207.8,784.6 205.3,780.4C202.7,776.2 202.2,772.0 201.9,768.7C201.6,765.4 204.4,764.0 203.6,760.3C202.7,756.7 200.0,751.4 196.9,747.0C193.8,742.5 189.4,738.6 185.2,733.6C181.0,728.6 175.4,721.3 171.8,716.9C168.2,712.4 163.4,709.1 163.4,706.8C163.4,704.6 168.2,703.2 171.8,703.5C175.4,703.8 181.0,708.8 185.2,708.5C189.4,708.2 191.6,704.3 196.9,701.8Z" fill="#393939"/><path d="M420.0,816.9C422.8,807.7 433.1,828.0 436.7,833.6C440.3,839.2 441.5,844.8 441.7,850.3C442.0,855.9 440.9,862.9 438.4,867.1C435.9,871.2 429.8,871.8 426.7,875.4C423.6,879.0 421.1,898.6 420.0,888.8C418.9,879.0 417.2,826.1 420.0,816.9Z" fill="#393939"/><path d="M830.3,767.6C835.9,766.0 861.2,765.5 867.1,765.9C872.9,766.3 869.3,768.5 865.4,770.1C861.5,771.6 849.0,774.2 843.7,775.1C838.4,775.9 835.9,776.3 833.6,775.1C831.4,773.8 824.7,769.1 830.3,767.6Z" fill="#393939"/><path d="M657.1,493.5C659.3,491.7 666.6,493.3 670.5,494.4C674.4,495.5 679.1,497.9 680.5,500.2C681.9,502.6 681.1,507.1 678.8,508.6C676.6,510.1 670.7,510.0 667.1,509.4C663.5,508.9 658.8,507.9 657.1,505.3C655.4,502.6 654.9,495.4 657.1,493.5Z" fill="#393939"/><path d="M200.2,760.3C201.6,759.2 204.7,763.1 208.6,767.0C212.5,770.9 220.0,778.7 223.6,783.7C227.3,788.8 230.3,793.8 230.3,797.1C230.3,800.5 226.4,803.8 223.6,803.8C220.9,803.8 217.0,800.5 213.6,797.1C210.3,793.8 205.8,787.6 203.6,783.7C201.3,779.8 200.8,777.6 200.2,773.7C199.7,769.8 198.8,761.4 200.2,760.3Z" fill="#393939"/><path d="M613.3,795.0C627.2,788.3 671.1,799.7 693.3,800.0C715.6,800.3 733.3,798.3 746.7,796.7C760.0,795.0 765.6,789.4 773.3,790.0C781.1,790.6 782.8,798.3 793.3,800.0C803.9,801.7 828.3,796.1 836.7,800.0C845.0,803.9 839.4,817.2 843.3,823.3C847.2,829.4 853.9,832.8 860.0,836.7C866.1,840.6 873.9,842.8 880.0,846.7C886.1,850.6 891.7,854.4 896.7,860.0C901.7,865.6 906.4,872.2 910.0,880.0C913.6,887.8 916.7,898.9 918.3,906.7C920.0,914.4 971.4,923.3 920.0,926.7C868.6,930.0 663.3,935.6 610.0,926.7C556.7,917.8 600.0,887.8 600.0,873.3C600.0,858.9 607.8,853.1 610.0,840.0C612.2,826.9 599.4,801.7 613.3,795.0Z" fill="#393939"/><path d="M67.5,492.5C74.4,485.0 99.0,487.1 106.2,492.5C113.5,497.9 110.8,515.4 111.2,525.0C111.7,534.6 109.6,541.7 108.8,550.0C107.9,558.3 106.2,567.9 106.2,575.0C106.2,582.1 113.1,589.6 108.8,592.5C104.4,595.4 85.6,597.5 80.0,592.5C74.4,587.5 77.5,571.7 75.0,562.5C72.5,553.3 66.2,549.2 65.0,537.5C63.8,525.8 60.6,500.0 67.5,492.5Z" fill="#303030"/><path d="M95.2,490.4C96.9,488.1 99.7,485.9 101.9,487.0C104.1,488.1 106.9,492.6 108.6,497.1C110.3,501.5 111.7,507.1 111.9,513.8C112.2,520.5 114.7,533.3 110.3,537.2C105.8,541.1 88.8,541.1 85.2,537.2C81.6,533.3 87.4,519.9 88.5,513.8C89.6,507.6 90.8,504.3 91.9,500.4C93.0,496.5 93.5,492.6 95.2,490.4Z" fill="#303030"/><path d="M255.1,371.8C255.6,369.7 263.0,364.9 266.8,363.4C270.6,361.9 276.3,361.6 277.7,362.6C279.1,363.6 277.5,367.0 275.2,369.3C272.8,371.5 266.8,375.5 263.4,376.0C260.1,376.4 254.5,373.9 255.1,371.8Z" fill="#303030"/><path d="M357.1,373.4C359.6,371.9 366.8,374.0 372.1,376.0C377.4,377.9 385.5,382.2 388.9,385.2C392.2,388.1 393.6,391.3 392.2,393.5C390.8,395.7 385.2,398.4 380.5,398.5C375.8,398.7 367.7,396.6 363.8,394.3C359.9,392.1 358.2,388.6 357.1,385.2C356.0,381.7 354.6,375.0 357.1,373.4Z" fill="#303030"/><path d="M438.5,450.4C441.2,447.9 445.4,447.0 450.2,445.4C454.9,443.7 461.9,442.8 466.9,440.3C471.9,437.8 475.8,431.7 480.3,430.3C484.7,428.9 489.2,431.1 493.6,432.0C498.1,432.8 502.6,433.1 507.0,435.3C511.5,437.5 517.3,442.8 520.4,445.4C523.5,447.9 526.0,448.4 525.4,450.4C524.9,452.3 521.2,455.4 517.1,457.1C512.9,458.7 506.5,460.0 500.3,460.4C494.2,460.8 487.2,459.4 480.3,459.6C473.3,459.7 464.9,460.7 458.5,461.2C452.1,461.8 446.0,463.0 441.8,462.9C437.6,462.8 434.0,462.5 433.4,460.4C432.9,458.3 435.7,452.9 438.5,450.4Z" fill="#303030"/><path d="M250.0,760.0C252.2,751.6 259.2,759.7 263.4,763.3C267.6,767.0 270.9,775.3 275.1,781.7C279.3,788.1 284.3,796.5 288.5,801.8C292.6,807.1 296.0,809.6 300.2,813.5C304.3,817.4 308.5,821.9 313.5,825.2C318.6,828.6 325.3,833.0 330.3,833.6C335.3,834.1 339.2,830.8 343.6,828.6C348.1,826.3 353.1,822.7 357.0,820.2C360.9,817.7 364.8,812.4 367.1,813.5C369.3,814.6 370.4,822.7 370.4,826.9C370.4,831.1 369.3,835.3 367.1,838.6C364.8,841.9 359.3,843.9 357.0,847.0C354.8,850.0 352.6,853.1 353.7,857.0C354.8,860.9 362.3,867.0 363.7,870.4C365.1,873.7 364.8,874.8 362.0,877.1C359.3,879.3 350.9,883.2 347.0,883.7C343.1,884.3 340.9,883.2 338.6,880.4C336.4,877.6 336.1,869.8 333.6,867.0C331.1,864.2 326.4,865.9 323.6,863.7C320.8,861.4 320.8,856.2 316.9,853.6C313.0,851.1 305.7,849.2 300.2,848.6C294.6,848.1 286.8,851.1 283.4,850.3C280.1,849.5 282.3,846.4 280.1,843.6C277.9,840.8 273.4,836.4 270.1,833.6C266.7,830.8 263.4,830.2 260.0,826.9C256.7,823.5 251.7,824.7 250.0,813.5C248.3,802.4 247.8,768.4 250.0,760.0Z" fill="#303030"/><path d="M367.1,810.2C368.2,806.8 372.9,804.0 377.1,803.5C381.3,802.9 386.6,805.2 392.1,806.8C397.7,808.5 405.0,810.4 410.5,813.5C416.1,816.6 420.8,821.0 425.6,825.2C430.3,829.4 434.9,834.1 439.0,838.6C443.0,843.1 448.2,841.1 450.0,852.0C451.8,862.8 452.7,895.2 450.0,903.8C447.3,912.5 438.9,907.7 433.9,903.8C429.0,899.9 424.7,887.6 420.6,880.4C416.4,873.2 410.5,865.4 408.9,860.3C407.2,855.3 411.9,854.8 410.5,850.3C409.1,845.8 403.6,838.0 400.5,833.6C397.4,829.1 396.0,824.9 392.1,823.5C388.2,822.2 380.7,825.2 377.1,825.2C373.5,825.2 372.1,826.1 370.4,823.5C368.7,821.0 365.9,813.5 367.1,810.2Z" fill="#303030"/><path d="M256.7,815.2C258.1,812.4 265.6,817.7 270.1,820.2C274.5,822.7 280.9,825.2 283.4,830.2C286.0,835.3 286.0,847.5 285.1,850.3C284.3,853.1 281.2,848.1 278.4,847.0C275.6,845.8 271.2,845.3 268.4,843.6C265.6,841.9 263.7,841.7 261.7,836.9C259.8,832.2 255.3,818.0 256.7,815.2Z" fill="#303030"/><path d="M786.7,800.0C796.1,795.0 824.4,798.9 833.3,803.3C842.2,807.8 836.1,820.3 840.0,826.7C843.9,833.1 850.6,837.5 856.7,841.7C862.8,845.8 870.6,847.5 876.7,851.7C882.8,855.8 888.3,858.6 893.3,866.7C898.3,874.7 903.9,890.0 906.7,900.0C909.4,910.0 931.1,922.2 910.0,926.7C888.9,931.1 800.0,935.6 780.0,926.7C760.0,917.8 790.6,888.9 790.0,873.3C789.4,857.8 777.2,845.6 776.7,833.3C776.1,821.1 777.2,805.0 786.7,800.0Z" fill="#303030"/><path d="M616.7,800.0C627.8,789.4 660.0,797.8 670.0,803.3C680.0,808.9 676.7,821.7 676.7,833.3C676.7,845.0 672.8,857.8 670.0,873.3C667.2,888.9 670.6,917.8 660.0,926.7C649.4,935.6 616.1,936.7 606.7,926.7C597.2,916.7 601.7,887.8 603.3,866.7C605.0,845.6 605.6,810.6 616.7,800.0Z" fill="#303030"/><path d="M741.7,766.7C744.7,761.9 756.1,768.3 760.0,771.7C763.9,775.0 765.0,781.9 765.0,786.7C765.0,791.4 763.9,797.8 760.0,800.0C756.1,802.2 744.7,805.6 741.7,800.0C738.6,794.4 738.6,771.4 741.7,766.7Z" fill="#303030"/><path d="M126.8,563.8C126.8,565.3 126.5,566.9 126.0,568.3C125.4,569.8 124.6,571.2 123.7,572.2C122.7,573.3 121.5,574.3 120.3,574.8C119.0,575.4 117.6,575.8 116.2,575.8C114.9,575.8 113.5,575.4 112.2,574.8C111.0,574.3 109.8,573.3 108.8,572.2C107.9,571.2 107.1,569.8 106.5,568.3C106.0,566.9 105.8,565.3 105.8,563.8C105.8,562.2 106.0,560.6 106.5,559.2C107.1,557.7 107.9,556.3 108.8,555.3C109.8,554.2 111.0,553.2 112.2,552.7C113.5,552.1 114.9,551.8 116.2,551.8C117.6,551.8 119.0,552.1 120.3,552.7C121.5,553.2 122.7,554.2 123.7,555.3C124.6,556.3 125.4,557.7 126.0,559.2C126.5,560.6 126.8,562.2 126.8,563.8Z" fill="#282828"/><path d="M358.8,386.8C359.5,385.6 364.1,385.2 365.5,386.0C366.8,386.8 367.8,390.6 367.1,391.8C366.4,393.1 362.7,394.3 361.3,393.5C359.9,392.7 358.1,388.1 358.8,386.8Z" fill="#282828"/><path d="M446.8,452.0C448.8,450.5 454.6,449.0 458.5,448.7C462.4,448.4 468.0,449.3 470.2,450.4C472.5,451.5 473.9,454.0 471.9,455.4C470.0,456.8 462.7,458.3 458.5,458.7C454.3,459.1 448.8,459.0 446.8,457.9C444.9,456.8 444.9,453.6 446.8,452.0Z" fill="#282828"/><path d="M493.6,440.3C495.6,438.9 504.0,439.2 507.0,440.3C510.1,441.4 512.6,445.1 512.0,447.0C511.5,449.0 506.5,451.8 503.7,452.0C500.9,452.3 497.0,450.6 495.3,448.7C493.6,446.7 491.7,441.7 493.6,440.3Z" fill="#282828"/><path d="M548.4,465.1C549.1,462.9 562.6,461.6 570.1,461.8C577.7,461.9 586.3,466.0 593.5,466.0C600.8,466.0 606.9,461.4 613.6,461.8C620.3,462.2 628.7,465.7 633.7,468.5C638.7,471.2 641.5,474.9 643.7,478.5C645.9,482.1 645.4,487.6 647.1,490.2C648.7,492.8 651.8,492.6 653.7,494.4C655.7,496.2 659.0,499.0 658.8,501.1C658.5,503.2 654.0,505.9 652.1,506.9C650.1,508.0 649.8,506.1 647.1,507.3C644.3,508.4 639.3,512.6 635.4,513.6C631.4,514.7 627.5,513.3 623.6,513.6C619.7,513.9 614.4,513.1 611.9,515.3C609.4,517.5 610.4,523.6 608.6,527.0C606.8,530.3 603.0,535.6 601.1,535.4C599.1,535.1 599.0,528.4 596.9,525.3C594.8,522.3 592.7,518.4 588.5,517.0C584.3,515.6 578.8,517.5 571.8,517.0C564.8,516.4 553.7,514.2 546.7,513.6C539.8,513.1 532.8,514.7 530.0,513.6C527.2,512.5 526.7,508.0 530.0,506.9C533.3,505.8 543.1,507.3 550.1,506.9C557.0,506.5 567.6,505.8 571.8,504.4C576.0,503.0 575.8,501.5 575.2,498.6C574.5,495.6 569.2,490.8 567.6,486.9C566.1,483.0 569.2,478.8 566.0,475.2C562.7,471.5 547.7,467.3 548.4,465.1Z" fill="#282828"/><path d="M723.4,510.3C726.2,508.0 736.2,509.4 741.8,509.9C747.4,510.5 754.6,511.9 756.9,513.6C759.1,515.3 757.4,518.5 755.2,520.3C753.0,522.1 748.5,523.9 743.5,524.5C738.5,525.0 728.4,526.0 725.1,523.6C721.7,521.3 720.6,512.6 723.4,510.3Z" fill="#282828"/><path d="M416.8,513.5C418.2,511.2 427.7,510.0 433.5,510.1C439.4,510.3 446.6,512.4 451.9,514.3C457.2,516.3 463.3,519.7 465.3,521.8C467.2,523.9 466.7,525.9 463.6,526.9C460.5,527.8 451.6,527.7 446.9,527.7C442.2,527.7 438.8,527.6 435.2,526.9C431.6,526.2 428.2,525.7 425.2,523.5C422.1,521.3 415.4,515.7 416.8,513.5Z" fill="#282828"/><path d="M518.8,506.0C520.5,504.3 525.8,503.2 530.5,503.4C535.2,503.7 541.6,506.2 547.2,507.6C552.8,509.0 558.5,511.4 563.9,511.8C569.4,512.2 577.3,509.0 580.0,510.1C582.7,511.2 582.7,517.0 580.0,518.5C577.3,520.0 569.4,519.6 563.9,519.3C558.5,519.1 551.7,516.7 547.2,516.8C542.8,517.0 540.5,520.2 537.2,520.2C533.8,520.2 529.9,517.9 527.2,516.8C524.4,515.7 521.9,515.3 520.5,513.5C519.1,511.7 517.1,507.6 518.8,506.0Z" fill="#282828"/><path d="M418.9,863.7C420.0,861.7 425.6,862.0 427.3,863.7C428.9,865.4 430.0,871.8 428.9,873.7C427.8,875.7 422.2,877.1 420.6,875.4C418.9,873.7 417.8,865.6 418.9,863.7Z" fill="#282828"/><path d="M535.4,776.8C537.6,771.2 550.4,760.0 553.8,766.7C557.1,773.4 556.6,807.7 555.5,816.9C554.3,826.1 549.6,824.7 547.1,821.9C544.6,819.1 542.4,807.7 540.4,800.2C538.5,792.6 533.2,782.3 535.4,776.8Z" fill="#282828"/><path d="M853.3,846.7C855.0,844.4 863.9,845.0 866.7,846.7C869.4,848.3 871.7,854.4 870.0,856.7C868.3,858.9 859.4,861.7 856.7,860.0C853.9,858.3 851.7,848.9 853.3,846.7Z" fill="#282828"/><path d="M733.3,890.0C741.1,883.3 765.6,880.6 773.3,886.7C781.1,892.8 787.8,920.0 780.0,926.7C772.2,933.3 734.4,932.8 726.7,926.7C718.9,920.6 725.6,896.7 733.3,890.0Z" fill="#282828"/><path d="M30.0,545.0C32.5,537.3 40.8,545.0 45.0,547.5C49.2,550.0 52.1,555.4 55.0,560.0C57.9,564.6 61.7,570.4 62.5,575.0C63.3,579.6 65.4,584.4 60.0,587.5C54.6,590.6 35.0,600.8 30.0,593.8C25.0,586.7 27.5,552.7 30.0,545.0Z" fill="#1f1f1f"/><path d="M30.0,592.5C34.2,584.4 46.7,587.5 55.0,587.5C63.3,587.5 71.7,590.4 80.0,592.5C88.3,594.6 97.5,597.9 105.0,600.0C112.5,602.1 118.8,605.0 125.0,605.0C131.2,605.0 136.7,601.5 142.5,600.0C148.3,598.5 152.9,597.2 160.0,596.2C167.1,595.3 176.7,594.8 185.0,594.5C193.3,594.2 202.9,593.6 210.0,594.5C217.1,595.4 224.2,596.6 227.5,600.0C230.8,603.4 230.8,610.0 230.0,615.0C229.2,620.0 223.3,624.2 222.5,630.0C221.7,635.8 224.2,643.3 225.0,650.0C225.8,656.7 228.3,663.3 227.5,670.0C226.7,676.7 222.9,683.8 220.0,690.0C217.1,696.2 215.0,705.8 210.0,707.5C205.0,709.2 196.7,702.9 190.0,700.0C183.3,697.1 175.8,693.5 170.0,690.0C164.2,686.5 158.8,680.0 155.0,678.8C151.2,677.5 150.8,681.5 147.5,682.5C144.2,683.5 140.8,684.8 135.0,684.5C129.2,684.2 120.4,682.8 112.5,680.5C104.6,678.2 95.0,674.5 87.5,670.5C80.0,666.5 73.8,660.3 67.5,656.2C61.2,652.2 56.2,649.6 50.0,646.2C43.8,642.9 33.3,645.2 30.0,636.2C26.7,627.3 25.8,600.6 30.0,592.5Z" fill="#1f1f1f"/><path d="M450.2,452.0C451.8,451.0 460.8,450.1 463.5,450.7C466.3,451.3 468.6,454.3 466.9,455.4C465.2,456.4 456.3,457.6 453.5,457.1C450.7,456.5 448.5,453.1 450.2,452.0Z" fill="#1f1f1f"/><path d="M571.8,470.1C575.4,468.5 586.0,469.6 593.5,470.1C601.1,470.7 610.8,471.2 617.0,473.5C623.1,475.7 627.5,479.6 630.3,483.5C633.1,487.4 634.0,492.7 633.7,496.9C633.4,501.1 631.4,506.1 628.7,508.6C625.9,511.1 620.6,511.7 617.0,511.9C613.3,512.2 609.7,511.7 606.9,510.3C604.1,508.9 602.5,503.6 600.2,503.6C598.0,503.6 596.1,508.6 593.5,510.3C591.0,511.9 588.8,513.1 585.2,513.6C581.6,514.2 577.1,514.2 571.8,513.6C566.5,513.1 558.7,511.1 553.4,510.3C548.1,509.4 539.8,508.9 540.0,508.6C540.3,508.3 549.0,509.4 555.1,508.6C561.2,507.8 572.9,506.1 576.8,503.6C580.7,501.1 579.3,497.4 578.5,493.5C577.7,489.6 572.9,484.1 571.8,480.2C570.7,476.3 568.2,471.8 571.8,470.1Z" fill="#1f1f1f"/><path d="M430.2,514.3C431.6,513.0 439.5,512.8 441.9,513.8C444.2,514.8 445.8,518.8 444.4,520.2C443.0,521.5 435.9,522.8 433.5,521.8C431.1,520.9 428.8,515.7 430.2,514.3Z" fill="#1f1f1f"/><path d="M130.0,656.7C144.5,652.5 203.0,653.3 217.0,656.7C230.9,660.0 213.6,670.6 213.6,676.7C213.6,682.9 217.0,688.1 217.0,693.4C217.0,698.7 216.1,705.7 213.6,708.5C211.1,711.3 206.1,711.3 201.9,710.2C197.7,709.1 192.7,704.6 188.5,701.8C184.3,699.0 180.4,695.1 176.8,693.4C173.2,691.8 170.4,693.7 166.8,691.8C163.2,689.8 159.5,684.2 155.1,681.7C150.6,679.2 144.2,676.7 140.0,676.7C135.9,676.7 131.7,685.1 130.0,681.7C128.3,678.4 115.5,660.8 130.0,656.7Z" fill="#1f1f1f"/><path d="M220.3,767.0C222.8,764.8 230.9,765.6 237.0,767.0C243.2,768.4 250.4,771.5 257.1,775.4C263.8,779.3 271.0,785.1 277.2,790.4C283.3,795.7 290.0,802.7 293.9,807.2C297.8,811.6 306.7,815.5 300.6,817.2C294.4,818.9 266.6,818.9 257.1,817.2C247.6,815.5 248.2,811.1 243.7,807.2C239.3,803.3 234.0,798.2 230.3,793.8C226.7,789.3 223.6,784.9 222.0,780.4C220.3,775.9 217.8,769.3 220.3,767.0Z" fill="#1f1f1f"/><path d="M250.0,770.0C251.7,765.0 256.4,771.7 260.0,775.1C263.7,778.4 267.8,785.6 271.7,790.1C275.6,794.6 279.8,797.6 283.4,801.8C287.1,806.0 289.9,811.0 293.5,815.2C297.1,819.4 300.7,823.8 305.2,826.9C309.6,830.0 314.9,832.2 320.2,833.6C325.5,835.0 332.8,834.4 337.0,835.3C341.1,836.1 344.8,836.9 345.3,838.6C345.9,840.3 343.9,843.9 340.3,845.3C336.7,846.7 329.2,847.8 323.6,847.0C318.0,846.1 311.9,842.8 306.9,840.3C301.8,837.8 297.4,834.7 293.5,831.9C289.6,829.1 287.3,825.8 283.4,823.5C279.5,821.3 274.5,820.8 270.1,818.5C265.6,816.3 260.0,812.4 256.7,810.2C253.3,807.9 251.1,811.8 250.0,805.2C248.9,798.5 248.3,775.1 250.0,770.0Z" fill="#1f1f1f"/><path d="M527.0,746.7C532.0,743.3 552.7,743.3 557.1,746.7C561.6,750.0 555.5,761.4 553.8,766.7C552.1,772.0 550.2,776.5 547.1,778.4C544.0,780.4 538.7,780.4 535.4,778.4C532.0,776.5 528.4,772.0 527.0,766.7C525.6,761.4 522.0,750.0 527.0,746.7Z" fill="#1f1f1f"/><path d="M557.1,746.7C561.0,743.3 575.0,743.3 577.2,746.7C579.4,750.0 572.7,759.2 570.5,766.7C568.3,774.2 565.5,784.0 563.8,791.8C562.1,799.6 559.9,807.1 560.5,813.5C561.0,820.0 564.6,824.1 567.2,830.3C569.7,836.4 574.1,844.2 575.5,850.3C576.9,856.5 574.7,857.6 575.5,867.1C576.4,876.5 586.9,900.5 580.5,907.2C574.1,913.9 543.7,912.2 537.1,907.2C530.4,902.2 539.3,886.6 540.4,877.1C541.5,867.6 542.6,859.8 543.7,850.3C544.9,840.9 545.4,830.0 547.1,820.2C548.8,810.5 552.7,800.7 553.8,791.8C554.9,782.9 553.2,774.2 553.8,766.7C554.3,759.2 553.2,750.0 557.1,746.7Z" fill="#1f1f1f"/><path d="M513.6,843.6C515.9,839.2 523.7,839.2 527.0,840.3C530.4,841.4 532.6,839.2 533.7,850.3C534.8,861.5 537.6,897.7 533.7,907.2C529.8,916.7 513.6,913.9 510.3,907.2C507.0,900.5 513.1,877.6 513.6,867.1C514.2,856.5 511.4,848.1 513.6,843.6Z" fill="#1f1f1f"/><path d="M456.8,870.4C459.6,863.2 464.6,863.7 470.2,863.7C475.7,863.7 484.1,867.1 490.2,870.4C496.4,873.7 503.6,877.6 507.0,883.8C510.3,889.9 519.2,903.3 510.3,907.2C501.4,911.1 462.4,913.3 453.4,907.2C444.5,901.1 454.0,877.6 456.8,870.4Z" fill="#1f1f1f"/><path d="M620.0,813.5C617.3,810.2 608.9,819.7 603.9,823.6C599.0,827.5 594.5,832.5 590.6,837.0C586.7,841.4 581.6,845.9 580.5,850.3C579.4,854.8 580.5,862.6 583.9,863.7C587.2,864.8 594.6,860.4 600.6,857.0C606.6,853.7 616.8,850.9 620.0,843.6C623.2,836.4 622.7,816.9 620.0,813.5Z" fill="#1f1f1f"/><path d="M560.0,743.5C562.2,731.2 570.3,741.0 573.4,743.5C576.4,746.0 578.1,751.8 578.4,758.5C578.7,765.2 576.4,775.3 575.1,783.6C573.7,792.0 572.5,803.1 570.0,808.7C567.5,814.3 561.7,827.9 560.0,817.1C558.3,806.2 557.8,755.7 560.0,743.5Z" fill="#1f1f1f"/><path d="M615.2,748.5C620.5,745.2 632.7,744.3 640.3,743.5C647.8,742.6 653.6,742.4 660.3,743.5C667.0,744.6 675.7,746.3 680.4,750.2C685.1,754.1 683.7,764.1 688.8,766.9C693.8,769.7 702.7,766.9 710.5,766.9C718.3,766.9 728.6,766.1 735.6,766.9C742.6,767.7 748.2,770.0 752.3,771.9C756.4,773.9 758.7,775.5 760.0,778.6C761.3,781.7 765.5,788.6 760.0,790.3C754.5,792.0 738.3,789.2 727.2,788.6C716.2,788.1 702.1,786.1 693.8,787.0C685.4,787.8 682.6,790.9 677.1,793.6C671.5,796.4 665.4,799.8 660.3,803.7C655.3,807.6 651.7,812.6 647.0,817.1C642.2,821.5 637.2,825.4 631.9,830.4C626.6,835.5 620.8,842.7 615.2,847.2C609.6,851.6 602.1,857.2 598.5,857.2C594.8,857.2 592.1,851.1 593.4,847.2C594.8,843.3 602.4,838.8 606.8,833.8C611.3,828.8 617.4,822.1 620.2,817.1C623.0,812.0 624.4,807.6 623.5,803.7C622.7,799.8 617.7,797.5 615.2,793.6C612.7,789.7 609.6,785.3 608.5,780.3C607.4,775.3 607.4,768.8 608.5,763.5C609.6,758.2 609.9,751.8 615.2,748.5Z" fill="#1f1f1f"/><path d="M796.9,778.4C799.4,775.6 805.2,773.7 810.2,773.4C815.3,773.1 823.6,774.2 827.0,776.8C830.3,779.3 831.4,784.8 830.3,788.5C829.2,792.1 824.7,796.8 820.3,798.5C815.8,800.2 807.7,799.9 803.5,798.5C799.4,797.1 796.3,793.5 795.2,790.1C794.1,786.8 794.3,781.2 796.9,778.4Z" fill="#1f1f1f"/><path d="M30.0,595.0C33.3,587.9 43.8,590.8 50.0,592.5C56.2,594.2 63.3,599.6 67.5,605.0C71.7,610.4 74.2,619.6 75.0,625.0C75.8,630.4 75.8,635.0 72.5,637.5C69.2,640.0 62.1,640.4 55.0,640.0C47.9,639.6 34.2,642.5 30.0,635.0C25.8,627.5 26.7,602.1 30.0,595.0Z" fill="#161616"/><path d="M112.5,632.5C116.7,631.7 127.9,633.8 135.0,635.0C142.1,636.2 149.2,637.9 155.0,640.0C160.8,642.1 167.1,645.0 170.0,647.5C172.9,650.0 174.2,652.9 172.5,655.0C170.8,657.1 165.4,660.0 160.0,660.0C154.6,660.0 146.7,657.1 140.0,655.0C133.3,652.9 125.0,650.0 120.0,647.5C115.0,645.0 111.2,642.5 110.0,640.0C108.8,637.5 108.3,633.3 112.5,632.5Z" fill="#161616"/><path d="M178.0,623.8C178.0,624.8 177.8,625.9 177.6,626.8C177.3,627.8 176.9,628.7 176.4,629.4C175.9,630.1 175.3,630.8 174.6,631.1C174.0,631.5 173.2,631.8 172.5,631.8C171.8,631.8 171.0,631.5 170.4,631.1C169.7,630.8 169.1,630.1 168.6,629.4C168.1,628.7 167.7,627.8 167.4,626.8C167.2,625.9 167.0,624.8 167.0,623.8C167.0,622.7 167.2,621.6 167.4,620.7C167.7,619.7 168.1,618.8 168.6,618.1C169.1,617.4 169.7,616.7 170.4,616.4C171.0,616.0 171.8,615.8 172.5,615.8C173.2,615.8 174.0,616.0 174.6,616.4C175.3,616.7 175.9,617.4 176.4,618.1C176.9,618.8 177.3,619.7 177.6,620.7C177.8,621.6 178.0,622.7 178.0,623.8Z" fill="#161616"/><path d="M600.2,480.2C602.5,479.1 609.2,478.8 613.6,480.2C618.1,481.6 624.2,485.7 627.0,488.5C629.8,491.3 631.4,494.9 630.3,496.9C629.2,498.8 624.2,500.5 620.3,500.2C616.4,500.0 610.3,497.4 606.9,495.2C603.6,493.0 601.3,489.4 600.2,486.9C599.1,484.3 598.0,481.3 600.2,480.2Z" fill="#161616"/><path d="M30.0,597.5C33.8,591.2 46.7,592.9 52.5,595.0C58.3,597.1 62.1,604.2 65.0,610.0C67.9,615.8 71.2,625.6 70.0,630.0C68.8,634.4 64.2,635.8 57.5,636.2C50.8,636.7 34.6,639.0 30.0,632.5C25.4,626.0 26.2,603.8 30.0,597.5Z" fill="#0d0d0d"/><path d="M245.4,785.4C247.1,783.7 252.9,783.7 257.1,785.4C261.3,787.1 267.1,791.8 270.5,795.5C273.8,799.1 277.2,804.4 277.2,807.2C277.2,809.9 273.8,812.5 270.5,812.2C267.1,811.9 261.0,808.3 257.1,805.5C253.2,802.7 249.0,798.8 247.1,795.5C245.1,792.1 243.7,787.1 245.4,785.4Z" fill="#0d0d0d"/><path d="M250.0,785.1C251.7,782.9 256.7,784.8 260.0,786.8C263.4,788.7 268.1,792.9 270.1,796.8C272.0,800.7 272.6,807.1 271.7,810.2C270.9,813.2 267.8,815.7 265.1,815.2C262.3,814.6 257.5,809.3 255.0,806.8C252.5,804.3 250.8,803.8 250.0,800.1C249.2,796.5 248.3,787.3 250.0,785.1Z" fill="#0d0d0d"/><path d="M549.6,761.7C549.6,762.9 549.3,764.1 548.9,765.2C548.4,766.3 547.7,767.4 546.9,768.2C546.1,769.0 545.0,769.8 543.9,770.2C542.8,770.7 541.6,770.9 540.4,770.9C539.2,770.9 538.0,770.7 536.9,770.2C535.8,769.8 534.7,769.0 533.9,768.2C533.1,767.4 532.4,766.3 531.9,765.2C531.5,764.1 531.2,762.9 531.2,761.7C531.2,760.5 531.5,759.3 531.9,758.2C532.4,757.1 533.1,756.0 533.9,755.2C534.7,754.4 535.8,753.7 536.9,753.2C538.0,752.8 539.2,752.5 540.4,752.5C541.6,752.5 542.8,752.8 543.9,753.2C545.0,753.7 546.1,754.4 546.9,755.2C547.7,756.0 548.4,757.1 548.9,758.2C549.3,759.3 549.6,760.5 549.6,761.7Z" fill="#0d0d0d"/><path d="M553.8,857.0C557.4,854.0 569.1,855.4 573.8,858.7C578.6,862.0 580.5,869.0 582.2,877.1C583.9,885.2 589.2,902.2 583.9,907.2C578.6,912.2 555.7,912.2 550.4,907.2C545.1,902.2 551.5,885.5 552.1,877.1C552.7,868.7 550.2,860.1 553.8,857.0Z" fill="#0d0d0d"/><path d="M468.5,882.1C471.3,877.4 479.1,877.6 483.5,878.8C488.0,879.9 492.7,884.1 495.3,888.8C497.8,893.5 503.3,904.1 498.6,907.2C493.9,910.3 471.8,911.4 466.8,907.2C461.8,903.0 465.7,886.8 468.5,882.1Z" fill="#0d0d0d"/><path d="M560.0,770.2C561.1,767.4 565.6,769.1 566.7,771.9C567.8,774.7 567.8,784.2 566.7,787.0C565.6,789.7 561.1,791.4 560.0,788.6C558.9,785.8 558.9,773.0 560.0,770.2Z" fill="#0d0d0d"/><path d="M600.1,850.5C600.1,844.4 605.2,827.6 610.2,820.4C615.2,813.2 623.5,811.5 630.2,807.0C636.9,802.6 646.4,794.2 650.3,793.6C654.2,793.1 655.9,799.2 653.6,803.7C651.4,808.1 641.9,814.3 636.9,820.4C631.9,826.5 628.0,834.3 623.5,840.5C619.1,846.6 614.1,855.5 610.2,857.2C606.3,858.9 600.1,856.6 600.1,850.5Z" fill="#0d0d0d"/><path d="M30.0,602.5C32.9,598.1 43.3,597.5 47.5,598.8C51.7,600.0 53.3,605.6 55.0,610.0C56.7,614.4 58.8,621.7 57.5,625.0C56.2,628.3 52.1,630.0 47.5,630.0C42.9,630.0 32.9,629.6 30.0,625.0C27.1,620.4 27.1,606.9 30.0,602.5Z" fill="#040404"/><path d="M546.8,761.7C546.8,762.5 546.6,763.4 546.3,764.1C546.0,764.9 545.5,765.6 544.9,766.2C544.3,766.8 543.6,767.3 542.8,767.6C542.1,767.9 541.2,768.1 540.4,768.1C539.6,768.1 538.7,767.9 538.0,767.6C537.2,767.3 536.5,766.8 535.9,766.2C535.3,765.6 534.8,764.9 534.5,764.1C534.2,763.4 534.0,762.5 534.0,761.7C534.0,760.9 534.2,760.0 534.5,759.3C534.8,758.5 535.3,757.8 535.9,757.2C536.5,756.6 537.2,756.1 538.0,755.8C538.7,755.5 539.6,755.4 540.4,755.4C541.2,755.4 542.1,755.5 542.8,755.8C543.6,756.1 544.3,756.6 544.9,757.2C545.5,757.8 546.0,758.5 546.3,759.3C546.6,760.0 546.8,760.9 546.8,761.7Z" fill="#040404"/><path d="M558.8,867.1C561.0,864.3 567.2,864.8 570.5,867.1C573.8,869.3 577.2,873.7 578.9,880.4C580.5,887.1 584.2,902.7 580.5,907.2C576.9,911.6 561.0,911.1 557.1,907.2C553.2,903.3 556.8,890.5 557.1,883.8C557.4,877.1 556.6,869.8 558.8,867.1Z" fill="#040404"/><path d="M480.2,893.8C481.9,891.3 488.0,889.9 490.2,892.1C492.5,894.4 495.3,904.7 493.6,907.2C491.9,909.7 482.4,909.4 480.2,907.2C478.0,905.0 478.5,896.3 480.2,893.8Z" fill="#040404"/><path d="M620.0,823.6C618.2,822.2 611.9,825.8 609.0,828.6C606.0,831.4 602.6,837.2 602.3,840.3C602.0,843.4 604.3,847.5 607.3,847.0C610.2,846.4 617.9,840.9 620.0,837.0C622.1,833.1 621.8,825.0 620.0,823.6Z" fill="#040404"/><path d="M605.2,830.4C606.8,826.0 611.6,822.6 615.2,820.4C618.8,818.2 624.9,815.9 626.9,817.1C628.8,818.2 628.6,822.9 626.9,827.1C625.2,831.3 620.5,838.8 616.9,842.1C613.2,845.5 607.1,849.1 605.2,847.2C603.2,845.2 603.5,834.9 605.2,830.4Z" fill="#040404"/><path d="M202.7,726.1C204.4,725.2 208.6,724.9 211.9,727.2C215.3,729.6 219.9,736.2 222.8,740.3C225.7,744.3 228.9,749.1 229.5,751.6C230.1,754.1 229.3,755.9 226.7,755.3C224.0,754.8 217.0,750.7 213.6,748.3C210.2,745.8 208.0,743.3 206.1,740.6C204.1,737.9 202.5,734.7 201.9,732.2C201.3,729.8 201.1,726.9 202.7,726.1Z" fill="#5c5c5c"/><path d="M680.0,826.7C687.5,818.9 706.7,818.9 720.0,820.0C733.3,821.1 750.6,827.2 760.0,833.3C769.4,839.4 775.0,848.9 776.7,856.7C778.3,864.4 775.0,876.7 770.0,880.0C765.0,883.3 753.9,873.3 746.7,876.7C739.4,880.0 733.9,891.7 726.7,900.0C719.4,908.3 712.2,922.2 703.3,926.7C694.4,931.1 678.1,936.7 673.3,926.7C668.6,916.7 673.9,883.3 675.0,866.7C676.1,850.0 672.5,834.4 680.0,826.7Z" fill="#545454"/><path d="M693.3,840.0C700.0,835.0 716.7,835.0 726.7,836.7C736.7,838.3 750.0,845.0 753.3,850.0C756.7,855.0 752.2,860.6 746.7,866.7C741.1,872.8 728.9,881.1 720.0,886.7C711.1,892.2 698.9,903.3 693.3,900.0C687.8,896.7 686.7,876.7 686.7,866.7C686.7,856.7 686.7,845.0 693.3,840.0Z" fill="#5c5c5c"/><path d="M767.3,795.0C769.1,788.6 777.1,789.2 779.3,795.0C781.6,800.8 782.4,823.6 780.7,830.0C778.9,836.4 770.9,839.2 768.7,833.3C766.4,827.5 765.6,801.4 767.3,795.0Z" fill="#4b4b4b"/><path d="M675.5,496.1C678.0,495.4 684.8,497.4 687.2,499.4C689.6,501.3 690.5,505.0 689.7,507.8C688.9,510.5 684.7,515.4 682.2,516.1C679.7,516.8 676.3,514.0 674.6,511.9C673.0,509.8 672.0,506.2 672.1,503.6C672.3,500.9 673.0,496.8 675.5,496.1Z" fill="#545454"/></g><g filter="url(#b18)"><path d="M880.6,585.3C880.8,586.7 880.7,588.3 880.4,589.6C880.2,590.9 879.7,592.2 879.1,593.3C878.5,594.3 877.7,595.3 876.9,595.9C876.1,596.5 875.1,596.9 874.1,597.0C873.1,597.1 872.1,596.9 871.2,596.4C870.2,595.9 869.3,595.2 868.5,594.2C867.8,593.3 867.1,592.1 866.6,590.8C866.1,589.5 865.8,588.0 865.6,586.6C865.5,585.2 865.6,583.7 865.8,582.4C866.1,581.1 866.6,579.7 867.2,578.7C867.8,577.6 868.5,576.7 869.4,576.1C870.2,575.5 871.2,575.1 872.2,575.0C873.1,574.9 874.2,575.1 875.1,575.6C876.1,576.0 877.0,576.8 877.8,577.7C878.5,578.7 879.2,579.9 879.7,581.2C880.2,582.4 880.5,583.9 880.6,585.3Z" fill="#777777"/><path d="M878.6,585.5C878.7,586.7 878.7,587.9 878.5,589.0C878.3,590.1 878.0,591.2 877.6,592.0C877.2,592.9 876.6,593.6 876.0,594.1C875.4,594.6 874.6,594.9 873.9,595.0C873.2,595.0 872.5,594.9 871.8,594.5C871.1,594.1 870.4,593.5 869.8,592.7C869.2,591.9 868.7,590.9 868.4,589.9C868.0,588.8 867.7,587.6 867.6,586.5C867.5,585.3 867.6,584.1 867.8,583.0C867.9,581.9 868.3,580.8 868.7,580.0C869.1,579.1 869.7,578.4 870.3,577.9C870.9,577.4 871.7,577.1 872.4,577.0C873.1,576.9 873.8,577.1 874.5,577.5C875.2,577.9 875.9,578.5 876.5,579.3C877.0,580.1 877.6,581.1 877.9,582.1C878.3,583.1 878.5,584.4 878.6,585.5Z" fill="#656565"/><path d="M877.0,585.7C877.1,586.6 877.0,587.6 876.9,588.4C876.8,589.3 876.6,590.1 876.3,590.8C876.0,591.5 875.6,592.1 875.2,592.5C874.8,592.9 874.3,593.1 873.8,593.1C873.3,593.2 872.7,593.0 872.3,592.7C871.8,592.4 871.3,591.9 870.9,591.3C870.5,590.7 870.1,589.9 869.8,589.0C869.6,588.2 869.4,587.2 869.3,586.3C869.2,585.4 869.3,584.4 869.4,583.6C869.5,582.7 869.7,581.8 870.0,581.2C870.3,580.5 870.7,579.9 871.1,579.5C871.5,579.1 872.0,578.9 872.5,578.8C873.0,578.8 873.5,578.9 874.0,579.2C874.5,579.6 875.0,580.1 875.4,580.7C875.8,581.3 876.2,582.1 876.4,582.9C876.7,583.8 876.9,584.7 877.0,585.7Z" fill="#545454"/><path d="M875.6,585.8C875.7,586.5 875.7,587.3 875.6,588.0C875.6,588.6 875.4,589.3 875.3,589.8C875.1,590.4 874.8,590.8 874.6,591.1C874.3,591.4 874.0,591.6 873.6,591.7C873.3,591.7 873.0,591.6 872.6,591.3C872.3,591.1 872.0,590.6 871.7,590.1C871.5,589.7 871.2,589.0 871.0,588.4C870.8,587.7 870.7,586.9 870.6,586.2C870.6,585.5 870.6,584.7 870.6,584.0C870.7,583.3 870.8,582.7 871.0,582.1C871.2,581.6 871.5,581.1 871.7,580.8C872.0,580.5 872.3,580.4 872.6,580.3C873.0,580.3 873.3,580.4 873.6,580.7C874.0,580.9 874.3,581.3 874.6,581.8C874.8,582.3 875.1,583.0 875.3,583.6C875.4,584.3 875.6,585.0 875.6,585.8Z" fill="#303030"/><path d="M889.1,609.3C889.3,610.7 889.4,612.3 889.2,613.6C889.1,615.0 888.7,616.4 888.2,617.5C887.7,618.6 887.0,619.6 886.3,620.3C885.6,620.9 884.6,621.4 883.8,621.5C882.9,621.6 881.9,621.4 881.0,621.0C880.1,620.6 879.1,619.8 878.4,618.9C877.6,618.0 876.9,616.7 876.4,615.4C875.8,614.2 875.4,612.6 875.2,611.2C875.0,609.8 875.0,608.2 875.1,606.8C875.3,605.5 875.7,604.1 876.1,603.0C876.6,601.9 877.3,600.9 878.1,600.2C878.8,599.5 879.7,599.1 880.6,599.0C881.5,598.8 882.5,599.0 883.4,599.5C884.3,599.9 885.2,600.7 886.0,601.6C886.7,602.5 887.5,603.7 888.0,605.0C888.5,606.3 888.9,607.8 889.1,609.3Z" fill="#777777"/><path d="M887.1,609.5C887.3,610.7 887.4,612.0 887.3,613.1C887.2,614.3 886.9,615.4 886.6,616.3C886.3,617.2 885.8,618.0 885.3,618.5C884.8,619.1 884.1,619.4 883.5,619.5C882.8,619.6 882.1,619.4 881.5,619.1C880.8,618.7 880.1,618.1 879.6,617.3C879.0,616.5 878.5,615.5 878.1,614.4C877.7,613.4 877.4,612.1 877.2,610.9C877.0,609.7 877.0,608.5 877.1,607.3C877.2,606.2 877.4,605.1 877.7,604.2C878.1,603.3 878.5,602.5 879.1,601.9C879.6,601.4 880.2,601.0 880.9,601.0C881.5,600.9 882.2,601.0 882.9,601.4C883.5,601.8 884.2,602.4 884.8,603.2C885.3,604.0 885.9,605.0 886.3,606.0C886.7,607.1 887.0,608.4 887.1,609.5Z" fill="#656565"/><path d="M885.5,609.8C885.6,610.7 885.7,611.8 885.6,612.7C885.6,613.6 885.5,614.5 885.3,615.2C885.1,615.9 884.7,616.5 884.4,616.9C884.1,617.4 883.6,617.6 883.2,617.7C882.8,617.7 882.3,617.6 881.9,617.3C881.4,617.0 881.0,616.5 880.6,615.8C880.2,615.2 879.8,614.4 879.5,613.5C879.2,612.7 879.0,611.7 878.9,610.7C878.7,609.7 878.7,608.7 878.7,607.8C878.8,606.9 878.9,606.0 879.1,605.3C879.3,604.6 879.6,603.9 879.9,603.5C880.3,603.1 880.7,602.8 881.1,602.8C881.5,602.7 882.0,602.9 882.5,603.2C882.9,603.5 883.4,604.0 883.8,604.6C884.2,605.3 884.5,606.1 884.8,607.0C885.1,607.8 885.4,608.8 885.5,609.8Z" fill="#545454"/><path d="M884.2,610.0C884.3,610.7 884.3,611.5 884.3,612.3C884.3,613.0 884.3,613.7 884.2,614.3C884.1,614.8 883.9,615.3 883.7,615.6C883.5,616.0 883.3,616.2 883.0,616.2C882.8,616.2 882.5,616.1 882.2,615.8C881.9,615.6 881.6,615.2 881.4,614.6C881.1,614.1 880.9,613.5 880.7,612.8C880.5,612.1 880.3,611.3 880.2,610.5C880.1,609.8 880.0,608.9 880.0,608.2C880.0,607.5 880.1,606.8 880.2,606.2C880.3,605.7 880.4,605.2 880.6,604.8C880.8,604.5 881.1,604.3 881.3,604.3C881.6,604.2 881.9,604.4 882.2,604.6C882.4,604.9 882.7,605.3 883.0,605.8C883.2,606.3 883.5,607.0 883.7,607.7C883.9,608.4 884.1,609.2 884.2,610.0Z" fill="#282828"/><path d="M897.6,632.7C898.0,633.9 898.3,635.2 898.3,636.4C898.4,637.6 898.2,638.9 897.9,639.9C897.5,641.0 897.0,642.0 896.3,642.8C895.6,643.5 894.8,644.1 893.9,644.4C893.0,644.8 891.9,644.9 890.9,644.7C889.9,644.6 888.8,644.2 887.9,643.6C886.9,643.0 886.0,642.1 885.3,641.2C884.5,640.2 883.9,639.1 883.5,637.9C883.0,636.7 882.8,635.4 882.7,634.2C882.7,633.0 882.9,631.7 883.2,630.7C883.5,629.6 884.1,628.6 884.8,627.9C885.4,627.1 886.3,626.5 887.2,626.2C888.1,625.9 889.2,625.8 890.2,625.9C891.2,626.1 892.3,626.5 893.2,627.1C894.1,627.6 895.1,628.5 895.8,629.5C896.5,630.4 897.2,631.6 897.6,632.7Z" fill="#777777"/><path d="M895.7,633.4C896.1,634.4 896.3,635.4 896.3,636.3C896.4,637.3 896.3,638.3 896.1,639.1C895.8,639.9 895.4,640.7 895.0,641.3C894.5,641.8 893.8,642.3 893.2,642.5C892.5,642.8 891.7,642.8 891.0,642.7C890.2,642.6 889.4,642.2 888.7,641.8C888.0,641.3 887.3,640.6 886.8,639.8C886.2,639.1 885.7,638.1 885.3,637.2C885.0,636.3 884.8,635.2 884.7,634.3C884.7,633.4 884.8,632.4 885.0,631.5C885.2,630.7 885.6,629.9 886.1,629.4C886.6,628.8 887.2,628.3 887.9,628.1C888.6,627.8 889.3,627.8 890.1,627.9C890.8,628.0 891.6,628.4 892.3,628.9C893.0,629.4 893.8,630.0 894.3,630.8C894.9,631.6 895.4,632.5 895.7,633.4Z" fill="#656565"/><path d="M894.1,634.0C894.4,634.7 894.6,635.5 894.6,636.2C894.7,636.9 894.7,637.7 894.5,638.3C894.4,638.9 894.1,639.5 893.8,639.9C893.4,640.3 893.0,640.6 892.5,640.8C892.1,641.0 891.5,641.0 891.0,640.9C890.5,640.8 889.9,640.5 889.4,640.1C888.9,639.8 888.4,639.2 888.0,638.6C887.5,638.1 887.2,637.3 886.9,636.6C886.7,635.9 886.5,635.1 886.4,634.4C886.4,633.7 886.4,633.0 886.6,632.4C886.7,631.7 887.0,631.2 887.3,630.7C887.6,630.3 888.1,630.0 888.5,629.8C889.0,629.7 889.5,629.6 890.1,629.7C890.6,629.8 891.2,630.1 891.7,630.5C892.2,630.9 892.7,631.4 893.1,632.0C893.5,632.6 893.9,633.3 894.1,634.0Z" fill="#545454"/><path d="M892.9,634.5C893.1,635.0 893.2,635.6 893.3,636.1C893.3,636.6 893.3,637.2 893.3,637.6C893.2,638.0 893.0,638.5 892.8,638.8C892.6,639.1 892.3,639.3 892.0,639.4C891.7,639.5 891.4,639.5 891.0,639.4C890.7,639.3 890.3,639.1 889.9,638.8C889.6,638.5 889.2,638.1 888.9,637.7C888.6,637.2 888.4,636.7 888.2,636.2C888.0,635.7 887.8,635.1 887.8,634.5C887.7,634.0 887.7,633.5 887.8,633.0C887.9,632.6 888.1,632.2 888.3,631.9C888.5,631.6 888.7,631.3 889.0,631.2C889.3,631.1 889.7,631.1 890.1,631.2C890.4,631.3 890.8,631.5 891.2,631.8C891.5,632.1 891.9,632.5 892.1,633.0C892.4,633.4 892.7,633.9 892.9,634.5Z" fill="#282828"/><path d="M898.2,660.4C898.2,661.5 898.1,662.7 897.8,663.7C897.5,664.8 897.0,665.8 896.5,666.6C895.9,667.3 895.2,668.0 894.5,668.4C893.8,668.9 893.0,669.1 892.2,669.1C891.4,669.1 890.6,668.9 889.9,668.4C889.2,668.0 888.5,667.3 888.0,666.6C887.4,665.8 886.9,664.8 886.6,663.7C886.4,662.7 886.2,661.5 886.2,660.4C886.2,659.3 886.4,658.1 886.6,657.1C886.9,656.0 887.4,655.0 888.0,654.3C888.5,653.5 889.2,652.8 889.9,652.4C890.6,651.9 891.4,651.7 892.2,651.7C893.0,651.7 893.8,651.9 894.5,652.4C895.2,652.8 895.9,653.5 896.5,654.3C897.0,655.0 897.5,656.0 897.8,657.1C898.1,658.1 898.2,659.3 898.2,660.4Z" fill="#777777"/><path d="M895.2,660.4C895.2,661.2 895.1,662.0 895.0,662.7C894.8,663.4 894.6,664.1 894.3,664.7C894.1,665.2 893.7,665.7 893.4,666.0C893.0,666.3 892.6,666.4 892.2,666.4C891.8,666.4 891.4,666.3 891.1,666.0C890.7,665.7 890.4,665.2 890.1,664.7C889.8,664.1 889.6,663.4 889.4,662.7C889.3,662.0 889.2,661.2 889.2,660.4C889.2,659.6 889.3,658.8 889.4,658.1C889.6,657.4 889.8,656.7 890.1,656.1C890.4,655.6 890.7,655.1 891.1,654.8C891.4,654.5 891.8,654.4 892.2,654.4C892.6,654.4 893.0,654.5 893.4,654.8C893.7,655.1 894.1,655.6 894.3,656.1C894.6,656.7 894.8,657.4 895.0,658.1C895.1,658.8 895.2,659.6 895.2,660.4Z" fill="#5c5c5c"/><path d="M892.4,683.6C892.2,684.7 891.9,685.9 891.4,687.0C890.9,688.0 890.2,688.9 889.5,689.7C888.8,690.4 887.9,691.0 887.1,691.3C886.3,691.6 885.4,691.7 884.6,691.5C883.8,691.4 883.0,691.0 882.3,690.4C881.7,689.8 881.1,689.0 880.6,688.1C880.2,687.2 879.9,686.0 879.8,684.9C879.7,683.8 879.7,682.5 879.9,681.4C880.1,680.2 880.5,679.0 881.0,678.0C881.5,677.0 882.2,676.0 882.9,675.3C883.6,674.6 884.5,674.0 885.3,673.7C886.1,673.4 887.0,673.3 887.8,673.4C888.6,673.6 889.4,674.0 890.1,674.5C890.7,675.1 891.3,675.9 891.7,676.9C892.2,677.8 892.5,678.9 892.6,680.0C892.7,681.1 892.6,682.4 892.4,683.6Z" fill="#777777"/><path d="M889.2,683.0C889.0,683.7 888.8,684.4 888.6,685.0C888.3,685.6 888.0,686.1 887.6,686.6C887.3,687.0 886.9,687.3 886.5,687.5C886.1,687.7 885.6,687.8 885.3,687.7C884.9,687.7 884.5,687.5 884.2,687.1C883.9,686.8 883.6,686.4 883.4,685.8C883.3,685.3 883.1,684.7 883.1,684.0C883.1,683.4 883.1,682.6 883.2,682.0C883.3,681.3 883.6,680.6 883.8,680.0C884.1,679.4 884.4,678.8 884.7,678.4C885.1,678.0 885.5,677.6 885.9,677.4C886.3,677.2 886.7,677.1 887.1,677.2C887.5,677.3 887.9,677.5 888.2,677.8C888.5,678.1 888.8,678.6 888.9,679.1C889.1,679.6 889.2,680.3 889.3,680.9C889.3,681.6 889.3,682.3 889.2,683.0Z" fill="#545454"/><path d="M937.0,684.1C937.0,684.9 936.9,685.7 936.6,686.5C936.4,687.2 936.0,687.9 935.6,688.4C935.1,688.9 934.5,689.4 933.9,689.7C933.3,690.0 932.6,690.2 932.0,690.2C931.4,690.2 930.7,690.0 930.1,689.7C929.5,689.4 928.9,688.9 928.5,688.4C928.0,687.9 927.6,687.2 927.4,686.5C927.1,685.7 927.0,684.9 927.0,684.1C927.0,683.4 927.1,682.6 927.4,681.8C927.6,681.1 928.0,680.4 928.5,679.9C928.9,679.3 929.5,678.9 930.1,678.6C930.7,678.3 931.4,678.1 932.0,678.1C932.6,678.1 933.3,678.3 933.9,678.6C934.5,678.9 935.1,679.3 935.6,679.9C936.0,680.4 936.4,681.1 936.6,681.8C936.9,682.6 937.0,683.4 937.0,684.1Z" fill="#808080"/><path d="M451.2,878.5C451.2,880.5 451.1,882.7 450.9,884.6C450.8,886.5 450.5,888.4 450.2,889.8C449.9,891.3 449.5,892.5 449.0,893.3C448.6,894.1 448.1,894.5 447.7,894.5C447.3,894.5 446.8,894.1 446.4,893.3C445.9,892.5 445.5,891.3 445.2,889.8C444.9,888.4 444.6,886.5 444.5,884.6C444.3,882.7 444.2,880.5 444.2,878.5C444.2,876.5 444.3,874.3 444.5,872.4C444.6,870.5 444.9,868.6 445.2,867.2C445.5,865.7 445.9,864.5 446.4,863.7C446.8,862.9 447.3,862.5 447.7,862.5C448.1,862.5 448.6,862.9 449.0,863.7C449.5,864.5 449.9,865.7 450.2,867.2C450.5,868.6 450.8,870.5 450.9,872.4C451.1,874.3 451.2,876.5 451.2,878.5Z" fill="#656565"/><path d="M449.5,878.5C449.5,880.0 449.5,881.7 449.4,883.1C449.3,884.5 449.1,885.9 449.0,887.0C448.8,888.1 448.6,889.0 448.4,889.6C448.2,890.2 447.9,890.5 447.7,890.5C447.5,890.5 447.2,890.2 447.0,889.6C446.8,889.0 446.6,888.1 446.4,887.0C446.3,885.9 446.1,884.5 446.0,883.1C445.9,881.7 445.9,880.0 445.9,878.5C445.9,877.0 445.9,875.3 446.0,873.9C446.1,872.5 446.3,871.1 446.4,870.0C446.6,868.9 446.8,868.0 447.0,867.4C447.2,866.8 447.5,866.5 447.7,866.5C447.9,866.5 448.2,866.8 448.4,867.4C448.6,868.0 448.8,868.9 449.0,870.0C449.1,871.1 449.3,872.5 449.4,873.9C449.5,875.3 449.5,877.0 449.5,878.5Z" fill="#777777"/><path d="M543.0,869.4C543.0,870.9 542.9,872.6 542.8,874.0C542.7,875.4 542.5,876.8 542.2,877.9C542.0,879.0 541.7,879.9 541.4,880.5C541.1,881.1 540.7,881.4 540.4,881.4C540.1,881.4 539.7,881.1 539.4,880.5C539.1,879.9 538.8,879.0 538.6,877.9C538.3,876.8 538.1,875.4 538.0,874.0C537.9,872.6 537.8,870.9 537.8,869.4C537.8,867.9 537.9,866.2 538.0,864.8C538.1,863.4 538.3,862.0 538.6,860.9C538.8,859.8 539.1,858.9 539.4,858.3C539.7,857.7 540.1,857.4 540.4,857.4C540.7,857.4 541.1,857.7 541.4,858.3C541.7,858.9 542.0,859.8 542.2,860.9C542.5,862.0 542.7,863.4 542.8,864.8C542.9,866.2 543.0,867.9 543.0,869.4Z" fill="#5c5c5c"/><path d="M541.6,869.4C541.6,870.4 541.6,871.5 541.5,872.5C541.5,873.4 541.4,874.3 541.2,875.1C541.1,875.8 541.0,876.4 540.9,876.8C540.7,877.2 540.6,877.4 540.4,877.4C540.2,877.4 540.1,877.2 539.9,876.8C539.8,876.4 539.7,875.8 539.6,875.1C539.4,874.3 539.3,873.4 539.3,872.5C539.2,871.5 539.2,870.4 539.2,869.4C539.2,868.4 539.2,867.3 539.3,866.3C539.3,865.4 539.4,864.5 539.6,863.7C539.7,863.0 539.8,862.4 539.9,862.0C540.1,861.6 540.2,861.4 540.4,861.4C540.6,861.4 540.7,861.6 540.9,862.0C541.0,862.4 541.1,863.0 541.2,863.7C541.4,864.5 541.5,865.4 541.5,866.3C541.6,867.3 541.6,868.4 541.6,869.4Z" fill="#777777"/><path d="M785.8,880.0C785.8,883.1 785.7,886.4 785.6,889.2C785.4,892.0 785.2,894.8 784.9,897.0C784.6,899.1 784.2,901.0 783.8,902.2C783.4,903.3 783.0,904.0 782.6,904.0C782.2,904.0 781.8,903.3 781.4,902.2C781.0,901.0 780.6,899.1 780.3,897.0C780.0,894.8 779.8,892.0 779.6,889.2C779.5,886.4 779.4,883.1 779.4,880.0C779.4,876.9 779.5,873.6 779.6,870.8C779.8,868.0 780.0,865.2 780.3,863.0C780.6,860.9 781.0,859.0 781.4,857.8C781.8,856.7 782.2,856.0 782.6,856.0C783.0,856.0 783.4,856.7 783.8,857.8C784.2,859.0 784.6,860.9 784.9,863.0C785.2,865.2 785.4,868.0 785.6,870.8C785.7,873.6 785.8,876.9 785.8,880.0Z" fill="#5c5c5c"/><path d="M784.2,882.0C784.2,884.3 784.2,886.8 784.1,888.9C784.0,891.0 783.9,893.1 783.7,894.7C783.6,896.4 783.4,897.8 783.2,898.6C783.0,899.5 782.8,900.0 782.6,900.0C782.4,900.0 782.2,899.5 782.0,898.6C781.8,897.8 781.6,896.4 781.5,894.7C781.3,893.1 781.2,891.0 781.1,888.9C781.0,886.8 781.0,884.3 781.0,882.0C781.0,879.7 781.0,877.2 781.1,875.1C781.2,873.0 781.3,870.9 781.5,869.3C781.6,867.6 781.8,866.2 782.0,865.4C782.2,864.5 782.4,864.0 782.6,864.0C782.8,864.0 783.0,864.5 783.2,865.4C783.4,866.2 783.6,867.6 783.7,869.3C783.9,870.9 784.0,873.0 784.1,875.1C784.2,877.2 784.2,879.7 784.2,882.0Z" fill="#777777"/></g></g><g stroke="#a4a49c" stroke-width="1.3" stroke-dasharray="2 7.82" fill="none"><line x1="41.7" y1="857.2" x2="1132.5" y2="857.2"/><line x1="41.7" y1="790.6" x2="1132.5" y2="790.6"/><line x1="41.7" y1="724.0" x2="1132.5" y2="724.0"/><line x1="41.7" y1="657.4" x2="1132.5" y2="657.4"/><line x1="41.7" y1="590.9" x2="1132.5" y2="590.9"/><line x1="41.7" y1="524.3" x2="1132.5" y2="524.3"/><line x1="41.7" y1="457.7" x2="1132.5" y2="457.7"/><line x1="41.7" y1="391.1" x2="1132.5" y2="391.1"/><line x1="41.7" y1="324.5" x2="1132.5" y2="324.5"/><line x1="41.7" y1="258.0" x2="1132.5" y2="258.0"/><line x1="41.7" y1="191.4" x2="1132.5" y2="191.4"/><line x1="41.7" y1="124.8" x2="1132.5" y2="124.8"/><line x1="86.5" y1="106.9" x2="86.5" y2="901.2"/><line x1="225.3" y1="106.9" x2="225.3" y2="901.2"/><line x1="364.1" y1="106.9" x2="364.1" y2="901.2"/><line x1="502.9" y1="106.9" x2="502.9" y2="901.2"/><line x1="641.7" y1="106.9" x2="641.7" y2="901.2"/><line x1="780.5" y1="106.9" x2="780.5" y2="901.2"/><line x1="919.3" y1="106.9" x2="919.3" y2="901.2"/><line x1="1058.1" y1="106.9" x2="1058.1" y2="901.2"/></g><path d="M27.4,902.8 L-3.2,913.9M-3.2,913.9 L-13.3,902.6M56.0,902.8 L25.4,913.9M25.4,913.9 L15.3,902.6M84.6,902.8 L54.0,913.9M54.0,913.9 L43.8,902.6M113.1,902.8 L82.6,913.9M82.6,913.9 L72.4,902.6M141.7,902.8 L111.2,913.9M111.2,913.9 L101.0,902.6M170.3,902.8 L139.8,913.8M139.8,913.8 L129.6,902.5M198.9,902.8 L168.5,914.3M172.0,913.0 L166.8,907.4M227.5,902.8 L195.5,897.4M199.1,898.0 L197.5,890.6M256.1,902.8 L224.5,895.1M228.1,896.0 L227.0,888.5M284.7,902.8 L259.8,923.6M262.6,921.3 L255.9,917.7M313.3,902.8 L286.1,920.5M289.2,918.5 L282.9,914.1M341.9,902.8 L310.8,912.3M370.5,902.8 L347.9,879.5M350.4,882.1 L353.5,875.2M399.1,902.8 L368.0,893.1M427.7,902.8 L433.5,870.8M432.8,874.5 L440.3,872.9M456.3,902.8 L464.3,871.3M484.9,902.8 L517.3,901.7M513.4,902.8 L544.8,911.4M542.0,902.8 L564.0,878.8M570.6,902.8 L603.1,900.8M599.4,901.1 L602.6,907.9M599.2,902.8 L630.0,892.2M627.8,902.8 L654.4,921.4M656.4,902.8 L688.3,909.2M685.0,902.8 L697.3,872.7M713.6,902.8 L745.7,907.9M742.0,907.3 L743.8,914.7M742.2,902.8 L765.3,879.9M762.6,882.5 L769.6,885.5M770.8,902.8 L800.6,890.0M797.2,891.4 L802.6,896.8M799.4,902.8 L831.8,904.5M828.1,904.3 L830.6,911.5M828.0,902.8 L856.7,887.6M853.4,889.3 L859.2,894.2M856.6,902.8 L888.7,897.7M888.7,897.7 L896.5,910.7M885.2,902.8 L917.7,902.4M914.0,902.4 L916.9,909.4M913.7,902.8 L945.9,907.4M942.3,906.9 L944.1,914.2M942.3,902.8 L971.3,888.0M971.3,888.0 L982.8,898.0M970.9,902.8 L998.1,885.0M998.1,885.0 L1010.6,893.6M999.5,902.8 L1024.7,882.2M1024.7,882.2 L1038.0,889.5M1028.1,902.8 L1053.0,881.9M1053.0,881.9 L1066.4,889.0M1056.7,902.8 L1081.6,881.9M1081.6,881.9 L1095.0,889.0M1085.3,902.8 L1110.2,881.9M1110.2,881.9 L1123.6,889.0M1113.9,902.8 L1138.8,881.9M1138.8,881.9 L1152.2,889.0M27.4,868.8 L-3.2,879.9M-3.2,879.9 L-13.3,868.6M56.0,868.8 L25.4,879.9M25.4,879.9 L15.3,868.6M84.6,868.8 L54.0,879.9M54.0,879.9 L43.8,868.6M113.1,868.8 L82.6,879.9M82.6,879.9 L72.4,868.6M141.7,868.8 L111.2,879.9M111.2,879.9 L101.0,868.6M170.3,868.8 L139.8,879.8M139.8,879.8 L129.6,868.5M198.9,868.8 L167.0,874.7M167.0,874.7 L158.8,861.9M227.5,868.8 L195.1,870.8M195.1,870.8 L188.5,857.1M256.1,868.8 L223.8,872.1M227.5,871.7 L223.9,865.0M284.7,868.8 L252.2,867.7M255.9,867.8 L253.3,860.7M313.3,868.8 L307.7,836.8M308.3,840.4 L314.8,836.4M341.9,868.8 L352.1,837.9M350.9,841.4 L358.5,840.9M370.5,868.8 L374.0,836.5M373.6,840.2 L380.9,838.1M399.1,868.8 L400.6,836.3M400.4,840.0 L407.6,837.5M427.7,868.8 L452.6,847.9M449.7,850.3 L456.4,853.8M456.3,868.8 L461.4,836.7M460.8,840.4 L468.3,838.7M484.9,868.8 L468.6,840.6M470.5,843.8 L475.2,837.8M513.4,868.8 L545.5,863.7M541.9,864.3 L545.8,870.8M542.0,868.8 L565.2,891.6M570.6,868.8 L603.1,870.2M599.4,870.0 L601.9,877.2M599.2,868.8 L622.1,845.7M627.8,868.8 L654.9,850.8M656.4,868.8 L673.7,841.3M671.7,844.4 L679.2,845.7M685.0,868.8 L702.7,841.5M700.7,844.6 L708.2,846.1M713.6,868.8 L744.1,857.6M744.1,857.6 L754.3,868.9M742.2,868.8 L766.7,847.4M763.9,849.9 L770.7,853.3M770.8,868.8 L802.6,862.3M802.6,862.3 L811.0,874.9M799.4,868.8 L831.7,872.2M831.7,872.2 L835.9,886.8M828.0,868.8 L857.4,855.0M854.1,856.6 L859.6,861.8M856.6,868.8 L888.5,862.9M888.5,862.9 L896.7,875.8M885.2,868.8 L916.7,860.8M916.7,860.8 L925.6,873.1M913.7,868.8 L944.3,857.7M944.3,857.7 L954.5,869.0M942.3,868.8 L971.6,854.6M971.6,854.6 L982.9,864.8M970.9,868.8 L998.6,851.7M998.6,851.7 L1010.8,860.7M999.5,868.8 L1025.3,849.0M1025.3,849.0 L1038.4,856.7M1028.1,868.8 L1053.7,848.7M1053.7,848.7 L1066.9,856.3M1056.7,868.8 L1082.2,848.6M1082.2,848.6 L1095.4,856.2M1085.3,868.8 L1110.8,848.6M1110.8,848.6 L1124.0,856.1M1113.9,868.8 L1139.3,848.5M1139.3,848.5 L1152.5,856.0M27.4,834.9 L-3.2,846.0M-3.2,846.0 L-13.3,834.7M56.0,834.9 L25.4,846.0M25.4,846.0 L15.3,834.7M84.6,834.9 L54.0,846.0M54.0,846.0 L43.8,834.7M113.1,834.9 L82.6,846.0M82.6,846.0 L72.4,834.7M141.7,834.9 L111.2,846.0M111.2,846.0 L101.0,834.7M170.3,834.9 L139.8,845.9M139.8,845.9 L129.6,834.6M198.9,834.9 L167.0,841.1M167.0,841.1 L158.7,828.4M227.5,834.9 L195.2,837.9M195.2,837.9 L188.2,824.5M256.1,834.9 L236.3,809.1M238.6,812.0 L242.4,805.5M284.7,834.9 L257.4,817.3M260.5,819.3 L261.9,811.8M313.3,834.9 L295.9,807.4M297.9,810.5 L302.3,804.3M341.9,834.9 L342.1,802.4M342.1,806.1 L349.2,803.3M370.5,834.9 L356.9,805.3M358.5,808.7 L363.7,803.2M399.1,834.9 L402.3,802.5M402.0,806.2 L409.3,804.1M427.7,834.9 L451.7,813.0M449.0,815.5 L455.8,818.8M456.3,834.9 L473.0,807.0M471.1,810.2 L478.6,811.4M484.9,834.9 L515.5,824.0M513.4,834.9 L540.9,852.2M537.8,850.2 L536.5,857.7M542.0,834.9 L563.6,859.1M561.2,856.4 L557.8,863.2M570.6,834.9 L603.1,832.7M599.2,834.9 L623.9,813.7M621.1,816.1 L627.8,819.6M627.8,834.9 L647.6,809.1M656.4,834.9 L687.8,826.5M684.2,827.5 L688.8,833.6M685.0,834.9 L716.7,827.5M713.1,828.3 L717.4,834.6M713.6,834.9 L738.7,814.2M735.9,816.6 L742.5,820.2M742.2,834.9 L774.0,828.4M774.0,828.4 L782.4,841.1M770.8,834.9 L802.7,828.6M802.7,828.6 L811.0,841.3M799.4,834.9 L831.3,828.8M831.3,828.8 L839.5,841.6M828.0,834.9 L859.9,829.0M859.9,829.0 L868.1,841.8M856.6,834.9 L888.6,829.2M888.6,829.2 L896.6,842.0M885.2,834.9 L916.7,827.1M916.7,827.1 L925.6,839.5M913.7,834.9 L944.5,824.3M944.5,824.3 L954.4,835.8M942.3,834.9 L972.0,821.6M972.0,821.6 L983.0,832.1M970.9,834.9 L999.3,818.9M999.3,818.9 L1011.1,828.4M999.5,834.9 L1026.3,816.5M1026.3,816.5 L1039.0,824.9M1028.1,834.9 L1054.6,816.1M1054.6,816.1 L1067.4,824.3M1056.7,834.9 L1083.1,815.9M1083.1,815.9 L1096.0,824.1M1085.3,834.9 L1111.6,815.8M1111.6,815.8 L1124.5,823.8M1113.9,834.9 L1140.1,815.6M1140.1,815.6 L1153.0,823.6M27.4,801.0 L-3.2,812.1M-3.2,812.1 L-13.3,800.8M56.0,801.0 L25.4,812.1M25.4,812.1 L15.3,800.8M84.6,801.0 L54.0,812.1M54.0,812.1 L43.8,800.8M113.1,801.0 L82.6,812.1M82.6,812.1 L72.4,800.8M141.7,801.0 L111.2,812.1M111.2,812.1 L101.0,800.8M170.3,801.0 L139.8,812.1M139.8,812.1 L129.6,800.8M198.9,801.0 L167.1,807.7M167.1,807.7 L158.7,795.0M227.5,801.0 L195.2,797.6M195.2,797.6 L191.0,783.0M256.1,801.0 L226.6,787.4M230.0,788.9 L230.3,781.4M284.7,801.0 L271.2,771.5M271.2,771.5 L281.6,760.4M313.3,801.0 L329.0,772.6M327.2,775.8 L334.8,776.7M341.9,801.0 L348.8,769.3M348.0,772.9 L355.5,771.6M370.5,801.0 L383.5,771.2M382.0,774.6 L389.6,774.8M399.1,801.0 L426.2,783.1M426.2,783.1 L438.7,791.8M427.7,801.0 L447.3,775.1M445.0,778.0 L452.4,780.0M456.3,801.0 L467.3,770.5M466.1,773.9 L473.7,773.7M484.9,801.0 L508.9,779.2M506.2,781.7 L513.0,785.0M513.4,801.0 L545.9,801.1M542.2,801.1 L545.1,808.2M542.0,801.0 L551.3,769.9M550.2,773.4 L557.8,772.7M570.6,801.0 L602.8,805.8M599.2,801.0 L630.7,809.0M627.8,801.0 L660.1,804.7M660.1,804.7 L664.2,819.4M656.4,801.0 L686.3,813.8M686.3,813.8 L685.9,829.0M685.0,801.0 L717.5,799.9M717.5,799.9 L723.7,813.8M713.6,801.0 L746.0,798.1M746.0,798.1 L752.9,811.6M742.2,801.0 L774.5,797.1M774.5,797.1 L781.8,810.4M770.8,801.0 L803.0,796.7M803.0,796.7 L810.5,809.9M799.4,801.0 L831.5,796.3M831.5,796.3 L839.2,809.4M828.0,801.0 L860.1,795.9M860.1,795.9 L867.9,808.9M856.6,801.0 L888.6,795.5M888.6,795.5 L896.6,808.4M884.9,796.1 L888.9,802.6M885.2,801.0 L916.8,793.5M916.8,793.5 L925.6,805.9M913.2,794.4 L917.6,800.6M913.7,801.0 L944.7,791.1M944.7,791.1 L954.4,802.7M941.2,792.2 L946.0,798.0M942.3,801.0 L972.4,788.6M972.4,788.6 L983.0,799.5M969.0,790.0 L974.3,795.5M970.9,801.0 L999.9,786.3M999.9,786.3 L1011.4,796.3M996.6,788.0 L1002.3,793.0M999.5,801.0 L1027.2,784.1M1027.2,784.1 L1039.5,793.1M1024.1,786.0 L1030.2,790.5M1028.1,801.0 L1055.6,783.6M1055.6,783.6 L1067.9,792.4M1052.4,785.6 L1058.6,790.0M1056.7,801.0 L1084.0,783.3M1084.0,783.3 L1096.4,792.1M1080.9,785.3 L1087.1,789.7M1085.3,801.0 L1112.4,783.1M1112.4,783.1 L1124.9,791.7M1109.3,785.1 L1115.6,789.4M1113.9,801.0 L1140.8,782.8M1140.8,782.8 L1153.4,791.3M1137.7,784.9 L1144.1,789.1M27.4,767.3 L-3.2,778.4M-3.2,778.4 L-13.3,767.1M56.0,767.3 L25.4,778.4M25.4,778.4 L15.3,767.1M84.6,767.3 L54.0,778.4M54.0,778.4 L43.8,767.1M113.1,767.3 L82.6,778.4M82.6,778.4 L72.4,767.1M141.7,767.3 L111.2,778.4M111.2,778.4 L101.0,767.1M170.3,767.3 L139.8,778.4M139.8,778.4 L129.6,767.0M198.9,767.3 L167.2,774.5M167.2,774.5 L158.6,762.0M227.5,767.3 L195.8,760.2M195.8,760.2 L193.4,745.2M256.1,767.3 L261.6,735.3M261.6,735.3 L276.5,732.0M284.7,767.3 L305.0,741.9M305.0,741.9 L319.6,746.3M313.3,767.3 L336.6,744.7M336.6,744.7 L350.5,750.8M341.9,767.3 L366.1,745.6M366.1,745.6 L379.8,752.3M370.5,767.3 L395.5,746.6M395.5,746.6 L408.9,753.8M399.1,767.3 L424.9,747.6M424.9,747.6 L438.0,755.3M427.7,767.3 L454.2,748.5M454.2,748.5 L467.0,756.7M456.3,767.3 L483.9,750.2M483.9,750.2 L496.2,759.3M484.9,767.3 L510.3,747.1M507.4,749.4 L514.0,753.1M513.4,767.3 L539.6,748.0M539.6,748.0 L552.5,755.9M542.0,767.3 L574.3,763.4M570.6,763.8 L574.3,770.5M570.6,767.3 L600.0,753.3M599.2,767.3 L622.0,790.4M622.0,790.4 L616.0,804.4M627.8,767.3 L657.9,779.6M657.9,779.6 L657.8,794.8M656.4,767.3 L688.9,767.5M688.9,767.5 L694.5,781.6M685.0,767.3 L717.5,767.0M717.5,767.0 L723.3,781.1M713.6,767.3 L746.1,766.6M746.1,766.6 L752.1,780.6M742.4,766.7 L745.4,773.7M742.2,767.3 L774.7,765.9M774.7,765.9 L781.0,779.7M771.0,766.0 L774.1,772.9M770.8,767.3 L803.2,764.9M803.2,764.9 L809.9,778.5M799.5,765.1 L802.9,771.9M799.4,767.3 L831.7,763.9M831.7,763.9 L838.8,777.3M828.0,764.3 L831.6,771.0M828.0,767.3 L860.2,762.9M860.2,762.9 L867.7,776.1M856.5,763.4 L860.3,770.0M856.6,767.3 L888.6,761.9M888.6,761.9 L896.6,774.8M885.0,762.5 L888.9,769.0M885.2,767.3 L916.8,760.0M916.8,760.0 L925.5,772.5M913.2,760.9 L917.6,767.1M913.7,767.3 L944.9,757.9M944.9,757.9 L954.4,769.8M941.3,759.0 L946.1,764.9M942.3,767.3 L972.7,755.8M972.7,755.8 L983.1,767.0M969.3,757.1 L974.4,762.7M970.9,767.3 L1000.5,753.8M1000.5,753.8 L1011.5,764.2M997.1,755.3 L1002.6,760.5M999.5,767.3 L1028.1,751.8M1028.1,751.8 L1039.8,761.5M1024.8,753.6 L1030.7,758.4M1028.1,767.3 L1056.4,751.2M1056.4,751.2 L1068.3,760.7M1053.2,753.1 L1059.1,757.8M1056.7,767.3 L1084.8,750.9M1084.8,750.9 L1096.8,760.2M1081.6,752.7 L1087.6,757.4M1085.3,767.3 L1113.1,750.5M1113.1,750.5 L1125.3,759.6M1110.0,752.4 L1116.0,757.0M1113.9,767.3 L1141.5,750.1M1141.5,750.1 L1153.8,759.1M1138.4,752.1 L1144.5,756.6M27.4,733.7 L-5.1,734.2M-5.1,734.2 L-11.0,720.2M56.0,733.7 L30.0,753.3M30.0,753.3 L17.0,745.4M84.6,733.7 L56.5,750.0M59.7,748.2 L53.7,743.5M113.1,733.7 L92.7,758.9M95.0,756.0 L87.7,753.8M141.7,733.7 L112.0,746.8M112.0,746.8 L101.1,736.2M170.3,733.7 L140.9,747.5M140.9,747.5 L129.8,737.2M198.9,733.7 L168.3,744.6M168.3,744.6 L158.2,733.3M227.5,733.7 L221.4,701.8M221.4,701.8 L234.1,693.5M256.1,733.7 L281.0,712.8M281.0,712.8 L294.4,719.9M284.7,733.7 L311.2,714.8M311.2,714.8 L324.0,723.0M313.3,733.7 L340.3,715.6M340.3,715.6 L352.9,724.2M341.9,733.7 L369.5,716.6M369.5,716.6 L381.8,725.5M370.5,733.7 L398.7,717.5M398.7,717.5 L410.6,726.9M399.1,733.7 L427.8,718.4M427.8,718.4 L439.4,728.2M427.7,733.7 L456.9,719.4M456.9,719.4 L468.2,729.5M456.3,733.7 L486.1,720.8M486.1,720.8 L496.9,731.6M484.9,733.7 L515.8,723.6M515.8,723.6 L525.5,735.2M513.4,733.7 L545.1,726.4M545.1,726.4 L553.8,738.9M542.0,733.7 L572.1,721.4M572.1,721.4 L582.7,732.3M570.6,733.7 L600.2,747.3M596.8,745.7 L596.4,753.3M599.2,733.7 L628.4,748.0M628.4,748.0 L627.3,763.1M627.8,733.7 L660.3,733.5M660.3,733.5 L666.1,747.6M656.4,733.7 L688.9,733.4M688.9,733.4 L694.7,747.5M685.0,733.7 L717.5,733.3M717.5,733.3 L723.4,747.3M713.8,733.3 L716.7,740.4M713.6,733.7 L746.1,733.2M746.1,733.2 L752.0,747.2M742.4,733.3 L745.3,740.3M742.2,733.7 L774.7,732.5M774.7,732.5 L780.9,746.3M771.0,732.6 L774.1,739.5M770.8,733.7 L803.2,731.3M803.2,731.3 L809.9,744.9M799.5,731.6 L802.9,738.4M799.4,733.7 L831.7,730.1M831.7,730.1 L838.9,743.5M828.0,730.5 L831.6,737.2M828.0,733.7 L860.1,729.0M860.1,729.0 L867.8,742.1M856.5,729.5 L860.3,736.1M856.6,733.7 L888.5,727.8M888.5,727.8 L896.7,740.7M884.9,728.5 L889.0,734.9M885.2,733.7 L916.8,726.2M916.8,726.2 L925.6,738.6M913.2,727.0 L917.6,733.3M913.7,733.7 L944.9,724.4M944.9,724.4 L954.4,736.3M941.4,725.5 L946.1,731.4M942.3,733.7 L972.9,722.7M972.9,722.7 L983.1,734.0M969.4,723.9 L974.5,729.6M970.9,733.7 L1000.8,721.0M1000.8,721.0 L1011.6,731.7M997.4,722.4 L1002.8,727.8M999.5,733.7 L1028.7,719.3M1028.7,719.3 L1040.0,729.4M1025.4,720.9 L1031.0,726.0M1028.1,733.7 L1057.0,718.7M1057.0,718.7 L1068.5,728.6M1053.7,720.4 L1059.5,725.4M1056.7,733.7 L1085.4,718.3M1085.4,718.3 L1097.0,728.0M1082.1,720.1 L1087.9,724.9M1085.3,733.7 L1113.7,717.9M1113.7,717.9 L1125.5,727.4M1110.5,719.7 L1116.4,724.4M1113.9,733.7 L1142.1,717.4M1142.1,717.4 L1154.0,726.8M1138.9,719.3 L1144.8,724.0M27.4,700.2 L-4.9,696.0M-1.2,696.5 L-3.1,689.2M56.0,700.2 L30.5,720.4M33.4,718.1 L26.8,714.4M84.6,700.2 L60.8,722.3M63.5,719.8 L56.6,716.6M113.1,700.2 L83.1,712.5M83.1,712.5 L72.5,701.6M141.7,700.2 L111.0,710.6M114.5,709.5 L109.5,703.7M170.3,700.2 L150.6,726.0M150.6,726.0 L135.9,722.0M198.9,700.2 L230.9,706.2M230.9,706.2 L233.8,721.1M227.5,700.2 L259.0,708.2M259.0,708.2 L261.1,723.2M256.1,700.2 L286.7,689.2M286.7,689.2 L296.8,700.6M284.7,700.2 L314.5,687.3M314.5,687.3 L325.4,698.0M313.3,700.2 L342.8,686.5M342.8,686.5 L353.9,696.9M341.9,700.2 L371.8,687.4M371.8,687.4 L382.6,698.1M370.5,700.2 L400.7,688.2M400.7,688.2 L411.2,699.3M399.1,700.2 L429.6,689.1M429.6,689.1 L439.8,700.4M427.7,700.2 L458.5,690.0M458.5,690.0 L468.4,701.6M456.3,700.2 L487.5,691.2M487.5,691.2 L496.9,703.1M484.9,700.2 L516.6,693.2M516.6,693.2 L525.2,705.7M513.4,700.2 L545.6,695.2M545.6,695.2 L553.4,708.2M542.0,700.2 L574.4,697.2M574.4,697.2 L581.4,710.7M570.6,700.2 L603.1,699.1M603.1,699.1 L609.3,713.0M599.2,700.2 L631.7,700.1M631.7,700.1 L637.5,714.1M627.8,700.2 L660.3,699.8M660.3,699.8 L666.2,713.8M656.6,699.8 L659.5,706.9M656.4,700.2 L688.9,699.6M688.9,699.6 L694.9,713.5M685.2,699.6 L688.2,706.6M685.0,700.2 L717.5,699.3M717.5,699.3 L723.6,713.2M713.8,699.4 L716.8,706.4M713.6,700.2 L746.1,699.1M746.1,699.1 L752.3,712.9M742.4,699.2 L745.5,706.1M742.2,700.2 L774.6,698.3M774.6,698.3 L781.1,712.0M770.9,698.5 L774.2,705.3M770.8,700.2 L803.1,697.1M803.1,697.1 L810.1,710.6M799.5,697.4 L803.0,704.2M799.4,700.2 L831.6,695.9M831.6,695.9 L839.1,709.2M827.9,696.4 L831.7,703.0M828.0,700.2 L860.0,694.8M860.0,694.8 L868.0,707.7M856.4,695.4 L860.3,701.9M856.6,700.2 L888.4,693.6M888.4,693.6 L896.8,706.3M884.8,694.4 L889.0,700.7M885.2,700.2 L916.7,692.3M916.7,692.3 L925.6,704.6M913.1,693.2 L917.6,699.3M913.7,700.2 L944.9,690.9M944.9,690.9 L954.4,702.8M941.3,691.9 L946.1,697.9M942.3,700.2 L973.0,689.5M973.0,689.5 L983.0,700.9M969.5,690.7 L974.5,696.4M970.9,700.2 L1001.1,688.1M1001.1,688.1 L1011.6,699.1M997.7,689.5 L1002.9,695.0M999.5,700.2 L1029.1,686.8M1029.1,686.8 L1040.1,697.3M1025.8,688.3 L1031.3,693.6M1028.1,700.2 L1057.5,686.2M1057.5,686.2 L1068.7,696.5M1054.1,687.8 L1059.7,693.0M1056.7,700.2 L1085.8,685.8M1085.8,685.8 L1097.2,695.9M1082.5,687.4 L1088.2,692.5M1085.3,700.2 L1114.2,685.3M1114.2,685.3 L1125.7,695.2M1110.9,687.0 L1116.7,692.0M1113.9,700.2 L1142.6,684.8M1142.6,684.8 L1154.2,694.6M1139.3,686.6 L1145.1,691.5M27.4,666.8 L-4.0,658.4M-0.4,659.3 L-1.4,651.8M56.0,666.8 L43.9,697.0M45.2,693.5 L37.6,693.6M84.6,666.8 L65.4,693.0M67.5,690.0 L60.2,688.2M113.1,666.8 L83.4,679.9M86.8,678.4 L81.3,673.1M141.7,666.8 L163.3,691.1M163.3,691.1 L156.6,704.7M170.3,666.8 L198.7,682.7M195.4,680.9 L194.5,688.4M198.9,666.8 L229.7,656.3M226.2,657.5 L231.2,663.3M227.5,666.8 L258.1,677.9M258.1,677.9 L258.6,693.1M256.1,666.8 L284.0,650.1M284.0,650.1 L296.1,659.2M284.7,666.8 L316.3,659.2M316.3,659.2 L325.1,671.5M313.3,666.8 L344.6,657.9M344.6,657.9 L353.9,670.0M341.9,666.8 L373.4,658.7M373.4,658.7 L382.4,670.9M370.5,666.8 L402.1,659.4M402.1,659.4 L410.9,671.9M399.1,666.8 L430.9,660.2M430.9,660.2 L439.3,672.8M427.7,666.8 L459.6,660.9M459.6,660.9 L467.8,673.8M456.0,661.6 L460.1,668.0M456.3,666.8 L488.4,661.8M488.4,661.8 L496.2,674.8M484.7,662.4 L488.6,668.9M484.9,666.8 L517.1,662.9M517.1,662.9 L524.5,676.2M513.4,663.3 L517.1,670.0M513.4,666.8 L545.8,664.0M545.8,664.0 L552.7,677.6M542.1,664.3 L545.6,671.1M542.0,666.8 L574.5,665.1M574.5,665.1 L580.9,678.9M570.8,665.3 L574.0,672.2M570.6,666.8 L603.1,666.2M603.1,666.2 L609.1,680.2M599.4,666.3 L602.4,673.3M599.2,666.8 L631.7,666.6M631.7,666.6 L637.5,680.7M628.0,666.6 L630.9,673.7M627.8,666.8 L660.3,666.2M660.3,666.2 L666.3,680.2M656.6,666.3 L659.6,673.3M656.4,666.8 L688.9,665.8M688.9,665.8 L695.0,679.7M685.2,665.9 L688.3,672.9M685.0,666.8 L717.5,665.4M717.5,665.4 L723.8,679.3M713.8,665.6 L716.9,672.5M713.6,666.8 L746.1,665.0M746.1,665.0 L752.5,678.8M742.4,665.2 L748.8,679.0M742.2,666.8 L774.6,664.2M774.6,664.2 L781.4,677.8M770.9,664.5 L777.7,678.1M770.8,666.8 L803.1,663.0M803.1,663.0 L810.4,676.3M799.4,663.4 L803.0,670.1M799.4,666.8 L831.5,661.9M831.5,661.9 L839.3,674.9M827.8,662.4 L831.7,668.9M828.0,666.8 L859.9,660.7M859.9,660.7 L868.1,673.5M856.3,661.4 L860.4,667.8M856.6,666.8 L888.2,659.6M888.2,659.6 L896.9,672.0M884.6,660.4 L889.0,666.6M885.2,666.8 L916.6,658.5M916.6,658.5 L925.7,670.7M913.0,659.4 L917.6,665.5M913.7,666.8 L944.9,657.5M944.9,657.5 L954.4,669.3M941.3,658.5 L946.1,664.5M942.3,666.8 L973.1,656.4M973.1,656.4 L983.0,668.0M969.6,657.6 L974.6,663.4M970.9,666.8 L1001.4,655.4M1001.4,655.4 L1011.6,666.6M997.9,656.7 L1003.0,662.3M999.5,666.8 L1029.6,654.4M1029.6,654.4 L1040.2,665.3M1026.2,655.8 L1031.5,661.3M1028.1,666.8 L1057.9,653.9M1057.9,653.9 L1068.8,664.6M1054.5,655.4 L1060.0,660.7M1056.7,666.8 L1086.3,653.4M1086.3,653.4 L1097.3,663.9M1082.9,654.9 L1088.4,660.2M1085.3,666.8 L1114.7,652.9M1114.7,652.9 L1125.9,663.2M1111.3,654.5 L1116.9,659.6M1113.9,666.8 L1143.0,652.4M1143.0,652.4 L1154.4,662.5M1139.7,654.0 L1145.4,659.1M27.4,633.6 L5.3,609.7M7.8,612.4 L11.1,605.6M56.0,633.6 L33.3,656.9M35.9,654.2 L28.8,651.3M84.6,633.6 L86.6,666.0M113.1,633.6 L98.7,662.7M100.4,659.4 L92.8,658.8M141.7,633.6 L173.3,641.3M169.7,640.4 L170.8,648.0M170.3,633.6 L202.5,629.2M198.9,629.7 L202.6,636.3M198.9,633.6 L229.6,644.2M226.1,643.0 L226.5,650.6M227.5,633.6 L258.5,623.9M255.0,625.0 L259.8,630.9M256.1,633.6 L286.7,622.6M286.7,622.6 L296.8,633.9M284.7,633.6 L317.0,630.2M317.0,630.2 L324.2,643.6M313.3,633.6 L345.5,629.5M345.5,629.5 L353.0,642.8M341.9,633.6 L374.2,630.1M374.2,630.1 L381.4,643.5M370.5,633.6 L402.9,630.8M402.9,630.8 L409.8,644.3M399.1,633.6 L431.5,631.4M431.5,631.4 L438.1,645.0M427.8,631.6 L431.1,638.5M427.7,633.6 L460.1,632.0M460.1,632.0 L466.5,645.8M456.4,632.2 L459.6,639.1M456.3,633.6 L488.7,632.5M488.7,632.5 L494.9,646.4M485.0,632.6 L488.1,639.6M484.9,633.6 L517.3,632.7M517.3,632.7 L523.4,646.7M513.6,632.8 L516.7,639.8M513.4,633.6 L545.9,633.0M545.9,633.0 L551.9,647.0M542.2,633.0 L545.2,640.0M542.0,633.6 L574.5,633.2M574.5,633.2 L580.4,647.2M570.8,633.2 L576.7,647.3M570.6,633.6 L603.1,633.4M603.1,633.4 L608.9,647.5M599.4,633.5 L605.2,647.5M599.2,633.6 L631.7,633.3M631.7,633.3 L637.5,647.4M628.0,633.4 L633.8,647.4M627.8,633.6 L660.3,632.8M660.3,632.8 L666.3,646.7M656.6,632.9 L662.6,646.8M656.4,633.6 L688.9,632.2M688.9,632.2 L695.2,646.1M685.2,632.4 L691.5,646.2M685.0,633.6 L717.5,631.7M717.5,631.7 L723.9,645.4M713.8,631.9 L720.3,645.7M713.6,633.6 L746.0,631.2M746.0,631.2 L752.7,644.8M742.3,631.4 L749.0,645.1M742.2,633.6 L774.5,630.2M774.5,630.2 L781.6,643.7M770.8,630.6 L777.9,644.1M770.8,633.6 L803.0,629.1M803.0,629.1 L810.6,642.3M799.3,629.6 L806.9,642.8M799.4,633.6 L831.4,627.9M831.4,627.9 L839.4,640.8M827.7,628.6 L831.8,635.0M828.0,633.6 L859.8,626.8M859.8,626.8 L868.3,639.4M856.1,627.6 L860.4,633.8M856.6,633.6 L888.1,625.6M888.1,625.6 L897.0,637.9M884.5,626.5 L889.0,632.7M885.2,633.6 L916.5,624.9M916.5,624.9 L925.7,636.9M912.9,625.9 L917.5,631.9M913.7,633.6 L944.9,624.2M944.9,624.2 L954.4,636.0M941.3,625.3 L946.1,631.2M942.3,633.6 L973.3,623.5M973.3,623.5 L983.0,635.2M969.7,624.7 L974.6,630.5M970.9,633.6 L1001.6,622.9M1001.6,622.9 L1011.6,634.3M998.1,624.1 L1003.1,629.8M999.5,633.6 L1030.0,622.2M1030.0,622.2 L1040.2,633.4M1026.5,623.5 L1031.6,629.1M1028.1,633.6 L1058.4,621.7M1058.4,621.7 L1068.8,632.7M1054.9,623.0 L1060.1,628.5M1056.7,633.6 L1086.7,621.1M1086.7,621.1 L1097.4,632.0M1083.3,622.6 L1088.6,628.0M1085.3,633.6 L1115.1,620.6M1115.1,620.6 L1126.0,631.3M1111.7,622.1 L1117.1,627.4M1113.9,633.6 L1143.5,620.1M1143.5,620.1 L1154.5,630.5M1140.1,621.6 L1145.6,626.9M27.4,600.5 L10.6,628.4M56.0,600.5 L56.0,633.0M56.0,629.3 L49.0,632.2M84.6,600.5 L97.1,630.5M113.1,600.5 L138.2,621.2M135.3,618.9 L133.0,626.1M141.7,600.5 L174.2,601.0M170.5,600.9 L173.3,608.0M170.3,600.5 L202.6,604.0M199.0,603.6 L201.0,610.9M198.9,600.5 L231.2,604.3M227.5,600.5 L260.0,601.1M256.3,601.0 L259.0,608.1M256.1,600.5 L285.4,586.3M285.4,586.3 L296.6,596.5M284.7,600.5 L315.9,591.3M315.9,591.3 L325.3,603.2M313.3,600.5 L345.8,602.1M345.8,602.1 L350.8,616.4M341.9,600.5 L374.3,602.8M374.3,602.8 L379.0,617.3M370.5,600.5 L402.8,603.5M402.8,603.5 L407.2,618.1M399.1,600.5 L431.4,604.3M431.4,604.3 L435.4,618.9M427.7,600.5 L459.9,605.0M459.9,605.0 L463.5,619.8M456.2,604.5 L458.0,611.9M456.3,600.5 L488.4,605.5M488.4,605.5 L491.8,620.3M484.7,605.0 L486.4,612.4M484.9,600.5 L517.0,605.5M517.0,605.5 L520.5,620.2M513.3,604.9 L515.1,612.3M513.4,600.5 L545.6,605.4M545.6,605.4 L549.1,620.2M541.9,604.8 L543.7,612.2M542.0,600.5 L574.2,605.3M574.2,605.3 L577.7,620.1M570.5,604.7 L572.3,612.1M570.6,600.5 L602.8,605.2M602.8,605.2 L606.4,620.0M599.1,604.7 L602.7,619.4M599.2,600.5 L631.5,604.7M631.5,604.7 L635.3,619.4M627.8,604.3 L631.6,619.0M627.8,600.5 L660.2,603.8M660.2,603.8 L664.4,618.4M656.5,603.4 L660.7,618.0M656.4,600.5 L688.8,602.8M688.8,602.8 L693.5,617.3M685.1,602.6 L689.8,617.0M685.0,600.5 L717.5,601.9M717.5,601.9 L722.6,616.2M713.8,601.7 L718.9,616.1M713.6,600.5 L746.1,601.0M746.1,601.0 L751.6,615.2M742.4,600.9 L747.9,615.1M742.2,600.5 L774.7,599.8M774.7,599.8 L780.7,613.8M771.0,599.9 L777.0,613.8M770.8,600.5 L803.2,598.4M803.2,598.4 L809.8,612.1M799.5,598.7 L806.1,612.4M799.4,600.5 L831.7,597.0M831.7,597.0 L838.9,610.5M828.0,597.4 L831.6,604.1M828.0,600.5 L860.1,595.7M860.1,595.7 L867.8,608.8M856.5,596.2 L860.3,602.8M856.6,600.5 L888.5,594.4M888.5,594.4 L896.7,607.1M884.8,595.1 L889.0,601.4M885.2,600.5 L916.9,593.5M916.9,593.5 L925.5,606.0M913.3,594.3 L917.6,600.5M913.7,600.5 L945.3,592.7M945.3,592.7 L954.2,605.0M941.7,593.6 L946.2,599.7M942.3,600.5 L973.7,591.9M973.7,591.9 L982.9,604.0M970.1,592.9 L974.7,598.9M970.9,600.5 L1002.1,591.2M1002.1,591.2 L1011.6,603.0M998.5,592.2 L1003.3,598.2M999.5,600.5 L1030.4,590.4M1030.4,590.4 L1040.2,602.0M1026.9,591.6 L1031.8,597.4M1028.1,600.5 L1058.8,589.8M1058.8,589.8 L1068.8,601.3M1055.3,591.1 L1060.3,596.8M1056.7,600.5 L1087.2,589.3M1087.2,589.3 L1097.4,600.6M1083.7,590.6 L1088.8,596.2M1085.3,600.5 L1115.6,588.7M1115.6,588.7 L1126.0,599.8M1112.2,590.1 L1117.4,595.6M1113.9,600.5 L1144.0,588.2M1144.0,588.2 L1154.6,599.1M1140.6,589.6 L1145.9,595.0M27.4,567.6 L-1.3,582.8M1.9,581.1 L-3.9,576.2M56.0,567.6 L78.3,591.2M75.8,588.5 L72.6,595.4M84.6,567.6 L107.6,590.5M105.0,587.9 L102.1,594.9M113.1,567.6 L141.0,550.9M137.9,552.8 L143.9,557.4M141.7,567.6 L172.8,558.1M170.3,567.6 L189.9,593.5M187.7,590.6 L183.8,597.1M198.9,567.6 L229.8,577.8M226.3,576.6 L226.8,584.2M227.5,567.6 L252.7,588.1M249.8,585.8 L247.6,593.0M256.1,567.6 L286.5,579.2M283.0,577.9 L283.1,585.5M284.7,567.6 L316.1,575.9M316.1,575.9 L318.0,591.0M313.3,567.6 L345.2,574.0M345.2,574.0 L348.0,588.9M341.9,567.6 L373.3,575.9M373.3,575.9 L375.2,590.9M370.5,567.6 L401.4,577.6M401.4,577.6 L402.5,592.7M399.1,567.6 L429.7,578.6M429.7,578.6 L430.2,593.8M427.7,567.6 L457.9,579.6M457.9,579.6 L458.0,594.8M456.3,567.6 L486.2,580.2M486.2,580.2 L486.0,595.4M484.9,567.6 L514.9,580.0M514.9,580.0 L514.8,595.2M513.4,567.6 L543.6,579.8M543.6,579.8 L543.6,595.0M540.1,578.4 L540.1,586.0M542.0,567.6 L572.3,579.6M572.3,579.6 L572.4,594.8M568.8,578.2 L568.9,585.8M570.6,567.6 L600.9,579.3M600.9,579.3 L601.1,594.5M597.5,578.0 L597.6,585.6M599.2,567.6 L629.8,578.5M629.8,578.5 L630.4,593.7M626.3,577.3 L626.7,584.9M627.8,567.6 L658.9,577.0M658.9,577.0 L660.3,592.1M655.4,575.9 L656.1,583.5M656.4,567.6 L687.9,575.5M687.9,575.5 L690.0,590.5M684.4,574.6 L685.4,582.1M685.0,567.6 L716.9,574.0M716.9,574.0 L719.7,588.9M713.2,573.3 L714.6,580.7M713.6,567.6 L745.7,572.5M745.7,572.5 L749.2,587.3M742.1,572.0 L745.6,586.7M742.2,567.6 L774.5,570.9M774.5,570.9 L778.7,585.5M770.8,570.6 L775.1,585.2M770.8,567.6 L803.2,569.3M803.2,569.3 L808.2,583.6M799.5,569.1 L802.0,576.3M799.4,567.6 L831.9,567.6M831.9,567.6 L837.6,581.7M828.2,567.6 L831.0,574.6M828.0,567.6 L860.4,565.9M860.4,565.9 L866.8,579.7M856.7,566.1 L859.9,573.0M856.6,567.6 L888.9,564.3M888.9,564.3 L896.0,577.7M885.2,564.7 L888.8,571.4M885.2,567.6 L917.3,563.1M917.3,563.1 L924.9,576.3M913.7,563.6 L917.5,570.2M913.7,567.6 L945.8,562.0M945.8,562.0 L953.8,574.9M942.1,562.7 L946.1,569.1M942.3,567.6 L974.2,561.0M974.2,561.0 L982.6,573.6M970.5,561.7 L974.8,568.0M970.9,567.6 L1002.5,559.9M1002.5,559.9 L1011.4,572.3M998.9,560.8 L1003.3,567.0M999.5,567.6 L1030.8,558.9M1030.8,558.9 L1040.1,570.9M1027.3,559.9 L1031.9,565.9M1028.1,567.6 L1059.3,558.3M1059.3,558.3 L1068.8,570.1M1055.7,559.3 L1060.5,565.3M1056.7,567.6 L1087.7,557.7M1087.7,557.7 L1097.4,569.4M1084.1,558.8 L1089.0,564.7M1085.3,567.6 L1116.1,557.1M1116.1,557.1 L1126.0,568.7M1112.6,558.3 L1117.5,564.1M1113.9,567.6 L1144.5,556.6M1144.5,556.6 L1154.6,567.9M1141.0,557.8 L1146.1,563.5M27.4,534.8 L50.3,557.9M47.7,555.3 L44.7,562.3M56.0,534.8 L60.8,567.0M84.6,534.8 L112.8,550.9M109.6,549.0 L108.6,556.6M113.1,534.8 L124.3,565.4M141.7,534.8 L169.9,518.6M166.7,520.5 L172.7,525.2M170.3,534.8 L196.6,515.7M193.6,517.8 L200.0,521.8M198.9,534.8 L231.4,533.9M227.7,534.1 L230.8,541.0M227.5,534.8 L251.9,556.4M251.9,556.4 L246.8,570.7M256.1,534.8 L288.5,537.2M284.8,536.9 L287.2,544.1M284.7,534.8 L311.4,553.4M308.3,551.3 L306.7,558.7M313.3,534.8 L334.7,559.3M334.7,559.3 L327.8,572.9M341.9,534.8 L373.7,541.3M373.7,541.3 L376.5,556.3M370.5,534.8 L400.0,548.4M396.6,546.9 L396.3,554.5M399.1,534.8 L414.0,563.7M414.0,563.7 L404.1,575.2M427.7,534.8 L459.0,543.5M455.4,542.5 L456.3,550.1M456.3,534.8 L481.8,555.0M478.9,552.7 L476.7,560.0M484.9,534.8 L510.9,554.2M510.9,554.2 L507.1,568.9M513.4,534.8 L539.8,553.9M539.8,553.9 L536.1,568.6M542.0,534.8 L568.6,553.6M568.6,553.6 L565.2,568.4M570.6,534.8 L597.4,553.2M597.4,553.2 L594.2,568.1M594.4,551.1 L592.8,558.6M599.2,534.8 L626.7,552.2M626.7,552.2 L624.0,567.1M623.6,550.2 L622.2,557.7M627.8,534.8 L656.5,550.2M656.5,550.2 L654.8,565.3M653.2,548.5 L652.4,556.0M656.4,534.8 L686.0,548.2M686.0,548.2 L685.4,563.4M682.7,546.7 L682.4,554.3M685.0,534.8 L715.5,546.2M715.5,546.2 L715.9,561.4M712.0,544.9 L712.2,552.5M713.6,534.8 L744.7,544.2M744.7,544.2 L746.1,559.3M741.2,543.1 L741.9,550.7M742.2,534.8 L773.8,542.2M773.8,542.2 L776.2,557.2M770.2,541.4 L771.4,548.9M770.8,534.8 L802.8,540.3M802.8,540.3 L806.1,555.1M799.2,539.7 L800.8,547.1M799.4,534.8 L831.7,538.3M831.7,538.3 L835.8,553.0M828.0,537.9 L830.1,545.2M828.0,534.8 L860.4,536.4M860.4,536.4 L865.5,550.7M856.7,536.2 L859.2,543.4M856.6,534.8 L889.1,534.4M889.1,534.4 L894.9,548.5M885.4,534.5 L888.3,541.5M885.2,534.8 L917.6,532.9M917.6,532.9 L924.1,546.7M913.9,533.2 L917.2,540.0M913.7,534.8 L946.1,531.6M946.1,531.6 L953.2,545.0M942.4,531.9 L945.9,538.7M942.3,534.8 L974.5,530.2M974.5,530.2 L982.2,543.3M970.8,530.7 L974.7,537.3M970.9,534.8 L1002.9,528.8M1002.9,528.8 L1011.1,541.6M999.2,529.5 L1003.3,535.9M999.5,534.8 L1031.2,527.5M1031.2,527.5 L1039.9,540.0M1027.6,528.3 L1031.9,534.6M1028.1,534.8 L1059.6,526.9M1059.6,526.9 L1068.6,539.1M1056.0,527.8 L1060.5,533.9M1056.7,534.8 L1088.1,526.3M1088.1,526.3 L1097.3,538.4M1084.5,527.3 L1089.1,533.3M1085.3,534.8 L1116.5,525.7M1116.5,525.7 L1125.9,537.7M1113.0,526.8 L1117.7,532.7M1113.9,534.8 L1144.9,525.2M1144.9,525.2 L1154.6,536.9M1141.4,526.3 L1146.2,532.2M27.4,502.3 L52.0,481.1M56.0,502.3 L81.2,522.8M84.6,502.3 L114.6,514.6M111.2,513.2 L111.1,520.8M113.1,502.3 L135.6,478.8M133.0,481.4 L140.1,484.2M141.7,502.3 L165.0,525.0M162.3,522.4 L159.5,529.4M170.3,502.3 L198.8,486.6M198.8,486.6 L210.6,496.2M198.9,502.3 L219.7,527.3M219.7,527.3 L212.4,540.7M227.5,502.3 L259.5,508.1M255.9,507.4 L257.4,514.8M256.1,502.3 L288.4,506.4M284.7,505.9 L286.6,513.2M284.7,502.3 L314.8,514.4M311.4,513.0 L311.4,520.6M313.3,502.3 L340.8,519.6M340.8,519.6 L338.1,534.6M341.9,502.3 L358.6,530.1M356.7,527.0 L352.1,533.0M370.5,502.3 L400.7,514.4M400.7,514.4 L400.7,529.6M399.1,502.3 L419.9,527.2M417.6,524.4 L414.0,531.1M427.7,502.3 L459.8,497.4M456.3,502.3 L471.6,530.9M469.8,527.7 L465.0,533.5M484.9,502.3 L514.6,515.5M514.6,515.5 L514.0,530.7M513.4,502.3 L531.3,529.4M531.3,529.4 L522.6,541.9M542.0,502.3 L563.9,526.3M563.9,526.3 L557.3,540.0M570.6,502.3 L592.9,525.9M592.9,525.9 L586.6,539.7M599.2,502.3 L622.6,524.8M622.6,524.8 L616.9,538.9M627.8,502.3 L653.1,522.8M653.1,522.8 L648.6,537.3M656.4,502.3 L683.3,520.5M683.3,520.5 L680.1,535.4M680.3,518.4 L678.7,525.9M685.0,502.3 L713.4,518.1M713.4,518.1 L711.5,533.2M710.1,516.3 L709.2,523.9M713.6,502.3 L743.2,515.7M743.2,515.7 L742.6,530.9M739.8,514.2 L739.5,521.8M742.2,502.3 L772.7,513.5M772.7,513.5 L773.2,528.7M769.2,512.2 L769.5,519.8M770.8,502.3 L802.0,511.3M802.0,511.3 L803.5,526.5M798.4,510.3 L799.2,517.9M799.4,502.3 L831.1,509.2M831.1,509.2 L833.7,524.1M827.5,508.4 L828.8,515.9M828.0,502.3 L860.1,506.9M860.1,506.9 L863.8,521.7M856.5,506.4 L858.3,513.8M856.6,502.3 L889.0,504.7M889.0,504.7 L893.6,519.2M885.3,504.4 L887.6,511.7M885.2,502.3 L917.6,502.9M917.6,502.9 L923.1,517.1M913.9,502.9 L916.7,510.0M913.7,502.3 L946.2,501.3M946.2,501.3 L952.4,515.2M942.5,501.4 L945.6,508.3M942.3,502.3 L974.7,499.6M974.7,499.6 L981.6,513.2M971.0,499.9 L974.5,506.7M970.9,502.3 L1003.1,498.0M1003.1,498.0 L1010.7,511.2M999.5,498.5 L1003.2,505.1M999.5,502.3 L1031.5,496.3M1031.5,496.3 L1039.7,509.1M1027.8,497.0 L1031.9,503.4M1028.1,502.3 L1059.9,495.7M1059.9,495.7 L1068.4,508.3M1056.3,496.4 L1060.5,502.7M1056.7,502.3 L1088.4,495.1M1088.4,495.1 L1097.1,507.6M1084.8,495.9 L1089.1,502.1M1085.3,502.3 L1116.9,494.5M1116.9,494.5 L1125.8,506.8M1113.3,495.4 L1117.7,501.6M1113.9,502.3 L1145.3,493.9M1145.3,493.9 L1154.4,506.1M1141.7,494.9 L1146.3,501.0M27.4,469.9 L44.5,442.3M42.5,445.4 L50.0,446.7M56.0,469.9 L73.7,442.7M71.7,445.8 L79.1,447.2M84.6,469.9 L117.0,471.0M113.3,470.8 L116.0,478.0M113.1,469.9 L143.5,481.4M140.1,480.1 L140.2,487.7M141.7,469.9 L173.3,462.1M170.3,469.9 L199.0,485.2M195.8,483.4 L195.0,491.0M198.9,469.9 L227.6,454.6M224.3,456.3 L230.2,461.2M227.5,469.9 L254.5,451.8M251.5,453.9 L257.7,458.2M256.1,469.9 L288.5,473.1M284.8,472.7 L286.9,480.0M284.7,469.9 L295.1,500.7M293.9,497.2 L288.2,502.1M313.3,469.9 L338.7,490.2M335.8,487.9 L333.6,495.2M341.9,469.9 L368.4,488.7M370.5,469.9 L397.1,488.6M399.1,469.9 L410.4,500.4M409.1,496.9 L403.5,502.0M427.7,469.9 L451.7,491.8M449.0,489.3 L446.4,496.4M456.3,469.9 L456.2,502.4M456.2,498.7 L449.2,501.5M484.9,469.9 L489.2,502.1M488.7,498.4 L482.1,502.2M513.4,469.9 L528.7,498.6M528.7,498.6 L518.9,510.2M542.0,469.9 L557.5,498.5M557.5,498.5 L547.8,510.2M570.6,469.9 L586.5,498.3M586.5,498.3 L576.9,510.1M599.2,469.9 L616.6,497.3M616.6,497.3 L607.8,509.7M627.8,469.9 L648.1,495.3M648.1,495.3 L640.7,508.5M645.8,492.4 L642.1,499.0M656.4,469.9 L679.3,493.0M679.3,493.0 L673.3,506.9M676.7,490.3 L673.7,497.3M685.0,469.9 L710.2,490.5M710.2,490.5 L705.6,505.0M707.3,488.1 L705.0,495.4M713.6,469.9 L740.6,488.0M740.6,488.0 L737.5,502.8M737.5,485.9 L736.0,493.4M742.2,469.9 L770.6,485.7M770.6,485.7 L768.7,500.8M767.3,483.9 L766.4,491.5M770.8,469.9 L800.3,483.6M800.3,483.6 L799.5,498.8M796.9,482.0 L796.5,489.6M799.4,469.9 L829.8,481.3M829.8,481.3 L830.2,496.5M826.3,480.0 L826.5,487.6M828.0,469.9 L859.2,479.0M859.2,479.0 L860.7,494.1M855.6,478.0 L856.4,485.5M856.6,469.9 L888.3,476.7M888.3,476.7 L891.0,491.7M884.7,475.9 L886.0,483.4M885.2,469.9 L917.3,474.6M917.3,474.6 L920.9,489.3M913.7,474.0 L915.5,481.4M913.7,469.9 L946.1,472.5M946.1,472.5 L950.7,487.0M942.5,472.2 L944.7,479.4M942.3,469.9 L974.8,470.3M974.8,470.3 L980.3,484.5M971.1,470.3 L973.9,477.4M970.9,469.9 L1003.4,468.3M1003.4,468.3 L1009.8,482.0M999.7,468.4 L1002.9,475.3M999.5,469.9 L1031.8,466.2M1031.8,466.2 L1039.1,479.6M1028.1,466.6 L1031.8,473.3M1028.1,469.9 L1060.3,465.1M1060.3,465.1 L1068.0,478.2M1056.6,465.6 L1060.5,472.2M1056.7,469.9 L1088.7,464.1M1088.7,464.1 L1096.8,476.9M1085.0,464.7 L1089.1,471.1M1085.3,469.9 L1117.1,463.0M1117.1,463.0 L1125.6,475.6M1113.5,463.8 L1117.7,470.1M1113.9,469.9 L1145.4,462.0M1145.4,462.0 L1154.4,474.3M1141.8,462.9 L1146.3,469.1M27.4,437.7 L58.8,429.3M55.2,430.3 L59.8,436.3M56.0,437.7 L85.1,452.1M81.8,450.5 L81.2,458.0M84.6,437.7 L114.7,425.5M111.2,426.9 L116.5,432.3M113.1,437.7 L141.6,453.4M138.4,451.6 L137.5,459.2M141.7,437.7 L173.3,430.1M169.7,431.0 L174.2,437.2M170.3,437.7 L185.3,408.9M198.9,437.7 L215.8,410.0M213.9,413.1 L221.4,414.3M227.5,437.7 L255.5,421.2M256.1,437.7 L276.5,412.4M274.2,415.3 L281.5,417.5M284.7,437.7 L298.6,467.1M297.0,463.7 L291.9,469.3M313.3,437.7 L345.7,434.8M342.0,435.1 L345.4,441.9M341.9,437.7 L367.5,457.7M364.6,455.4 L362.5,462.7M370.5,437.7 L391.4,462.6M389.0,459.7 L385.5,466.5M399.1,437.7 L410.4,468.2M410.4,468.2 L399.1,478.4M427.7,437.7 L411.0,465.6M411.0,465.6 L396.0,463.2M456.3,437.7 L453.2,470.1M453.2,470.1 L438.7,474.4M484.9,437.7 L484.1,470.2M484.1,470.2 L469.9,475.6M513.4,437.7 L514.6,470.2M514.6,470.2 L500.7,476.4M542.0,437.7 L544.7,470.1M544.7,470.1 L531.1,476.9M570.6,437.7 L574.5,470.0M574.5,470.0 L561.2,477.3M574.1,466.3 L567.4,470.0M599.2,437.7 L606.0,469.5M606.0,469.5 L593.5,478.0M605.3,465.9 L599.0,470.1M627.8,437.7 L639.6,468.0M639.6,468.0 L628.6,478.4M638.3,464.6 L632.7,469.8M656.4,437.7 L672.6,465.9M672.6,465.9 L663.3,477.8M670.8,462.7 L666.1,468.7M685.0,437.7 L704.9,463.4M704.9,463.4 L697.3,476.5M702.7,460.5 L698.9,467.0M713.6,437.7 L736.5,460.8M736.5,460.8 L730.5,474.8M733.9,458.2 L730.9,465.2M742.2,437.7 L767.1,458.6M767.1,458.6 L762.4,473.1M764.2,456.2 L761.9,463.5M770.8,437.7 L797.2,456.6M797.2,456.6 L793.7,471.4M794.2,454.4 L792.5,461.8M799.4,437.7 L827.3,454.4M827.3,454.4 L824.9,469.4M824.1,452.5 L822.9,460.0M828.0,437.7 L857.1,452.2M857.1,452.2 L855.9,467.3M853.8,450.5 L853.2,458.1M856.6,437.7 L886.7,449.9M886.7,449.9 L886.7,465.1M883.3,448.5 L883.3,456.1M885.2,437.7 L916.2,447.3M916.2,447.3 L917.5,462.5M912.7,446.3 L913.3,453.8M913.7,437.7 L945.5,444.7M945.5,444.7 L948.0,459.7M941.9,443.9 L943.1,451.4M942.3,437.7 L974.6,442.0M974.6,442.0 L978.3,456.8M970.9,441.5 L972.8,448.9M970.9,437.7 L1003.4,439.4M1003.4,439.4 L1008.3,453.8M999.7,439.2 L1002.2,446.4M999.5,437.7 L1032.0,436.8M1032.0,436.8 L1038.1,450.8M1028.3,436.9 L1031.4,443.9M1028.1,437.7 L1060.5,435.0M1060.5,435.0 L1067.4,448.6M1056.8,435.3 L1060.2,442.1M1056.7,437.7 L1088.9,433.2M1088.9,433.2 L1096.5,446.4M1085.2,433.8 L1089.0,440.3M1085.3,437.7 L1117.2,431.5M1117.2,431.5 L1125.5,444.3M1113.6,432.2 L1117.7,438.6M1113.9,437.7 L1145.4,429.8M1145.4,429.8 L1154.4,442.1M1141.8,430.7 L1146.3,436.8M27.4,405.7 L53.7,386.7M50.7,388.9 L57.2,392.9M56.0,405.7 L84.0,389.2M80.8,391.1 L86.8,395.7M84.6,405.7 L90.9,373.9M90.1,377.5 L97.6,376.1M113.1,405.7 L144.0,395.4M140.5,396.6 L145.4,402.4M141.7,405.7 L156.1,376.6M154.5,379.9 L162.1,380.5M170.3,405.7 L165.3,373.6M165.9,377.3 L172.4,373.4M198.9,405.7 L197.1,373.3M197.3,377.0 L204.2,373.7M227.5,405.7 L216.4,375.2M256.1,405.7 L255.8,373.2M284.7,405.7 L290.7,373.8M290.0,377.4 L297.4,375.9M313.3,405.7 L315.6,373.3M315.3,377.0 L322.5,374.7M341.9,405.7 L319.7,382.0M319.7,382.0 L326.1,368.2M370.5,405.7 L338.0,405.0M341.7,405.1 L339.0,398.0M399.1,405.7 L367.2,412.1M367.2,412.1 L358.9,399.4M427.7,405.7 L397.8,418.6M397.8,418.6 L387.0,407.9M456.3,405.7 L429.0,423.4M429.0,423.4 L416.5,414.6M484.9,405.7 L461.8,428.6M461.8,428.6 L447.8,422.6M464.4,426.0 L457.4,423.0M513.4,405.7 L494.8,432.3M494.8,432.3 L480.0,428.9M496.9,429.3 L489.5,427.6M542.0,405.7 L527.4,434.8M527.4,434.8 L512.3,433.5M529.1,431.5 L521.5,430.8M570.6,405.7 L559.5,436.3M559.5,436.3 L544.3,436.8M560.8,432.8 L553.2,433.1M599.2,405.7 L592.7,437.6M592.7,437.6 L577.8,440.3M593.5,434.0 L586.0,435.3M627.8,405.7 L628.2,438.2M628.2,438.2 L614.2,444.1M628.2,434.5 L621.1,437.5M656.4,405.7 L663.5,437.4M663.5,437.4 L651.0,446.1M662.7,433.8 L656.5,438.2M685.0,405.7 L698.0,435.5M698.0,435.5 L687.3,446.4M696.5,432.1 L685.8,443.0M713.6,405.7 L731.1,433.1M731.1,433.1 L722.4,445.5M729.1,430.0 L720.4,442.4M742.2,405.7 L762.5,431.1M762.5,431.1 L755.1,444.3M760.2,428.2 L756.5,434.8M770.8,405.7 L793.2,429.3M793.2,429.3 L786.9,443.1M790.6,426.6 L787.5,433.5M799.4,405.7 L823.7,427.3M823.7,427.3 L818.6,441.6M820.9,424.8 L818.4,432.0M828.0,405.7 L854.0,425.2M854.0,425.2 L850.2,439.9M851.1,423.0 L849.1,430.3M856.6,405.7 L884.1,423.0M884.1,423.0 L881.5,437.9M885.2,405.7 L914.3,420.2M914.3,420.2 L913.1,435.4M913.7,405.7 L944.2,417.1M944.2,417.1 L944.6,432.3M942.3,405.7 L973.8,414.0M973.8,414.0 L975.7,429.0M970.9,405.7 L1003.0,410.8M1003.0,410.8 L1006.5,425.6M999.5,405.7 L1032.0,407.7M1032.0,407.7 L1036.8,422.1M1028.1,405.7 L1060.6,405.1M1060.6,405.1 L1066.6,419.1M1056.7,405.7 L1089.1,402.7M1089.1,402.7 L1096.1,416.2M1085.3,405.7 L1117.3,400.2M1117.3,400.2 L1125.3,413.1M1113.9,405.7 L1145.4,397.8M1145.4,397.8 L1154.4,410.1M27.4,374.0 L39.6,404.1M56.0,374.0 L85.7,387.0M82.3,385.5 L82.1,393.1M84.6,374.0 L89.2,341.8M88.6,345.5 L96.0,343.6M113.1,374.0 L142.5,387.9M139.1,386.4 L138.7,393.9M141.7,374.0 L173.9,369.2M170.2,369.8 L174.1,376.3M170.3,374.0 L163.1,342.3M164.0,345.9 L170.2,341.5M198.9,374.0 L213.4,344.9M211.8,348.2 L219.4,348.8M227.5,374.0 L253.5,354.4M250.5,356.6 L257.0,360.5M256.1,374.0 L258.2,341.5M258.0,345.2 L265.2,342.8M284.7,374.0 L284.5,341.5M284.5,345.2 L291.5,342.3M313.3,374.0 L281.5,367.1M341.9,374.0 L310.8,364.5M314.3,365.6 L313.7,358.0M370.5,374.0 L338.0,372.0M338.0,372.0 L333.2,357.5M399.1,374.0 L367.8,365.2M367.8,365.2 L366.1,350.1M427.7,374.0 L395.3,371.2M395.3,371.2 L390.8,356.7M399.0,371.5 L396.7,364.2M456.3,374.0 L423.9,376.7M423.9,376.7 L417.0,363.1M427.6,376.4 L424.1,369.6M484.9,374.0 L453.6,382.9M453.6,382.9 L444.3,370.9M457.2,381.8 L452.5,375.8M513.4,374.0 L484.6,388.9M484.6,388.9 L473.0,379.0M487.9,387.2 L482.1,382.2M542.0,374.0 L515.7,392.9M515.7,392.9 L502.8,384.8M518.7,390.8 L505.8,382.7M570.6,374.0 L547.8,397.1M547.8,397.1 L533.8,391.3M550.4,394.5 L536.4,388.6M599.2,374.0 L580.9,400.8M580.9,400.8 L566.1,397.6M583.0,397.8 L568.2,394.6M627.8,374.0 L617.4,404.8M617.4,404.8 L602.3,405.7M618.6,401.3 L603.4,402.1M656.4,374.0 L653.9,406.4M653.9,406.4 L639.5,411.0M654.2,402.7 L639.7,407.3M685.0,374.0 L690.2,406.0M690.2,406.0 L677.3,413.9M689.7,402.4 L676.7,410.3M713.6,374.0 L725.3,404.3M725.3,404.3 L714.2,414.7M723.9,400.8 L712.8,411.2M742.2,374.0 L757.5,402.6M757.5,402.6 L747.7,414.3M755.7,399.4 L746.0,411.0M770.8,374.0 L788.6,401.2M788.6,401.2 L779.9,413.6M786.5,398.1 L782.2,404.3M799.4,374.0 L819.5,399.5M819.5,399.5 L812.0,412.7M817.2,396.6 L813.4,403.2M828.0,374.0 L850.3,397.6M850.3,397.6 L843.9,411.4M847.7,394.9 L844.6,401.8M856.6,374.0 L880.8,395.6M880.8,395.6 L875.7,409.9M885.2,374.0 L911.6,392.8M911.6,392.8 L908.1,407.6M913.7,374.0 L942.3,389.5M942.3,389.5 L940.5,404.6M942.3,374.0 L972.6,385.9M972.6,385.9 L972.7,401.1M970.9,374.0 L1002.4,382.3M1002.4,382.3 L1004.3,397.3M999.5,374.0 L1031.7,378.6M1031.7,378.6 L1035.3,393.4M1028.1,374.0 L1060.6,375.5M1060.6,375.5 L1065.6,389.8M1056.7,374.0 L1089.2,372.3M1089.2,372.3 L1095.6,386.1M1085.3,374.0 L1117.4,369.1M1117.4,369.1 L1125.2,382.2M1113.9,374.0 L1145.4,366.0M1145.4,366.0 L1154.4,378.3M27.4,342.4 L59.8,344.3M56.1,344.1 L58.6,351.3M56.0,342.4 L88.4,344.2M84.7,344.0 L87.2,351.2M84.6,342.4 L113.2,327.0M113.1,342.4 L145.6,343.5M141.9,343.4 L144.5,350.6M141.7,342.4 L162.0,317.0M159.7,319.9 L167.0,322.0M170.3,342.4 L195.2,321.4M198.9,342.4 L223.4,321.0M227.5,342.4 L200.0,325.1M203.1,327.1 L204.5,319.6M256.1,342.4 L266.7,311.7M284.7,342.4 L288.5,310.1M288.1,313.8 L295.4,311.8M313.3,342.4 L293.0,317.0M295.3,319.9 L299.0,313.3M341.9,342.4 L318.1,320.2M318.1,320.2 L323.6,306.0M370.5,342.4 L344.1,323.4M344.1,323.4 L347.7,308.7M399.1,342.4 L370.1,327.8M370.1,327.8 L371.3,312.6M427.7,342.4 L396.7,332.4M396.7,332.4 L395.6,317.3M400.3,333.6 L399.7,326.0M456.3,342.4 L424.1,337.5M424.1,337.5 L420.6,322.7M427.8,338.1 L426.0,330.7M484.9,342.4 L452.4,344.0M452.4,344.0 L446.0,330.1M456.1,343.8 L449.7,330.0M513.4,342.4 L482.0,350.7M482.0,350.7 L472.9,338.5M485.6,349.7 L476.5,337.5M542.0,342.4 L512.6,356.2M512.6,356.2 L501.5,345.8M515.9,354.6 L504.8,344.2M519.3,353.0 L513.7,347.8M570.6,342.4 L544.1,361.1M544.1,361.1 L531.3,352.9M547.1,359.0 L534.3,350.8M550.1,356.9 L543.7,352.8M599.2,342.4 L576.4,365.5M576.4,365.5 L562.4,359.7M579.0,362.9 L565.0,357.0M581.6,360.3 L574.6,357.3M627.8,342.4 L610.7,370.0M610.7,370.0 L595.7,367.4M612.6,366.9 L597.6,364.3M614.6,363.7 L607.1,362.4M656.4,342.4 L647.1,373.5M647.1,373.5 L632.0,375.0M648.2,370.0 L633.0,371.4M685.0,342.4 L685.7,374.9M685.7,374.9 L671.7,380.9M685.6,371.2 L671.6,377.2M713.6,342.4 L721.7,373.9M721.7,373.9 L709.4,382.9M720.7,370.3 L708.5,379.3M742.2,342.4 L754.2,372.6M754.2,372.6 L743.2,383.1M752.8,369.2 L741.8,379.7M770.8,342.4 L785.3,371.5M785.3,371.5 L775.2,382.9M783.6,368.2 L778.6,373.9M799.4,342.4 L816.3,370.2M816.3,370.2 L807.2,382.4M814.3,367.0 L809.8,373.1M828.0,342.4 L847.2,368.6M847.2,368.6 L839.1,381.6M845.0,365.7 L841.0,372.1M856.6,342.4 L877.9,366.9M877.9,366.9 L871.0,380.5M885.2,342.4 L908.6,364.9M908.6,364.9 L902.9,379.0M913.7,342.4 L939.4,362.4M939.4,362.4 L935.2,377.0M942.3,342.4 L970.0,359.4M970.0,359.4 L967.5,374.4M970.9,342.4 L1000.5,356.0M1000.5,356.0 L999.8,371.2M999.5,342.4 L1030.5,352.1M1030.5,352.1 L1031.8,367.3M1028.1,342.4 L1060.2,347.3M1060.2,347.3 L1063.7,362.1M1056.7,342.4 L1089.2,342.0M1089.2,342.0 L1095.1,356.1M1085.3,342.4 L1117.3,336.7M1117.3,336.7 L1125.4,349.5M1113.9,342.4 L1144.6,331.7M1144.6,331.7 L1154.6,343.1M27.4,311.1 L57.5,323.2M54.1,321.8 L54.1,329.4M56.0,311.1 L88.4,308.5M84.6,311.1 L87.4,278.7M113.1,311.1 L144.8,303.8M141.7,311.1 L163.4,286.8M170.3,311.1 L150.0,285.7M198.9,311.1 L218.5,285.1M216.2,288.1 L223.6,290.0M227.5,311.1 L241.9,281.9M240.3,285.3 L247.9,285.8M256.1,311.1 L251.1,279.0M251.6,282.6 L258.2,278.7M284.7,311.1 L271.9,281.2M273.4,284.6 L278.8,279.2M313.3,311.1 L309.5,278.8M309.9,282.5 L316.6,278.8M341.9,311.1 L322.8,284.7M322.8,284.7 L330.9,271.9M370.5,311.1 L348.8,286.9M348.8,286.9 L355.5,273.2M399.1,311.1 L374.7,289.6M374.7,289.6 L379.8,275.2M377.5,292.0 L380.0,284.9M427.7,311.1 L400.8,292.9M400.8,292.9 L403.9,278.0M403.8,294.9 L405.4,287.5M456.3,311.1 L426.6,297.8M426.6,297.8 L427.2,282.6M430.0,299.3 L430.6,284.1M484.9,311.1 L452.7,306.0M452.7,306.0 L449.3,291.2M456.4,306.6 L453.0,291.8M513.4,311.1 L481.1,314.7M481.1,314.7 L473.9,301.3M484.8,314.3 L477.6,300.9M488.5,313.9 L484.9,307.2M542.0,311.1 L511.8,322.9M511.8,322.9 L501.3,311.9M515.2,321.6 L504.8,310.5M518.7,320.2 L508.2,309.2M570.6,311.1 L543.3,328.6M543.3,328.6 L530.9,319.8M546.4,326.6 L534.0,317.8M549.5,324.6 L537.1,315.8M599.2,311.1 L575.4,333.2M575.4,333.2 L561.6,326.7M578.1,330.7 L564.4,324.2M580.8,328.2 L567.1,321.7M627.8,311.1 L609.0,337.6M609.0,337.6 L594.2,334.1M611.1,334.6 L596.4,331.0M613.3,331.5 L598.5,328.0M656.4,311.1 L644.6,341.4M644.6,341.4 L629.4,341.6M646.0,337.9 L630.8,338.1M647.3,334.5 L639.7,334.6M685.0,311.1 L682.0,343.4M682.0,343.4 L667.5,347.8M682.4,339.8 L667.8,344.1M682.7,336.1 L675.4,338.3M713.6,311.1 L720.3,342.9M720.3,342.9 L707.7,351.4M719.5,339.3 L706.9,347.7M742.2,311.1 L752.7,341.8M752.7,341.8 L741.2,351.8M751.5,338.3 L740.0,348.3M770.8,311.1 L783.4,341.0M783.4,341.0 L772.7,351.8M782.0,337.6 L771.2,348.3M799.4,311.1 L814.1,340.0M814.1,340.0 L804.2,351.5M812.5,336.7 L807.5,342.5M828.0,311.1 L844.8,338.9M844.8,338.9 L835.7,351.1M842.9,335.7 L838.3,341.8M856.6,311.1 L875.3,337.6M875.3,337.6 L867.1,350.4M885.2,311.1 L904.8,336.9M904.8,336.9 L897.1,350.0M913.7,311.1 L934.1,336.4M934.1,336.4 L926.7,349.7M942.3,311.1 L963.6,335.7M963.6,335.7 L956.7,349.2M970.9,311.1 L979.2,342.5M979.2,342.5 L967.0,351.6M999.5,311.1 L1031.0,319.1M1027.4,318.2 L1028.5,325.7M1028.1,311.1 L1050.3,334.8M1050.3,334.8 L1044.0,348.6M1056.7,311.1 L1089.2,311.8M1085.5,311.7 L1088.2,318.8M1085.3,311.1 L1110.9,291.0M1110.9,291.0 L1124.0,298.5M1113.9,311.1 L1131.5,283.7M1131.5,283.7 L1146.4,286.6M27.4,280.0 L34.9,248.4M34.0,252.0 L41.5,250.8M56.0,280.0 L84.5,295.6M84.6,280.0 L117.1,280.2M113.4,280.2 L116.1,287.3M113.1,280.0 L145.6,280.0M141.9,280.0 L144.8,287.0M141.7,280.0 L135.5,248.1M136.2,251.7 L142.6,247.6M170.3,280.0 L179.4,248.8M198.9,280.0 L171.0,263.4M174.2,265.3 L175.3,257.8M227.5,280.0 L226.8,247.5M226.9,251.2 L233.9,248.2M256.1,280.0 L240.6,251.5M242.3,254.7 L247.2,248.8M284.7,280.0 L270.1,250.9M270.1,250.9 L280.2,239.5M313.3,280.0 L287.4,260.3M287.4,260.3 L291.4,245.7M341.9,280.0 L327.6,250.8M327.6,250.8 L337.8,239.5M370.5,280.0 L354.5,251.7M354.5,251.7 L363.9,239.8M356.3,254.9 L361.0,249.0M399.1,280.0 L380.9,253.0M380.9,253.0 L389.5,240.4M383.0,256.1 L387.3,249.8M427.7,280.0 L406.6,255.3M406.6,255.3 L413.6,241.8M409.0,258.1 L416.0,244.6M456.3,280.0 L430.4,260.2M430.4,260.2 L434.5,245.6M433.4,262.5 L437.4,247.8M484.9,280.0 L453.9,270.1M453.9,270.1 L452.7,255.0M457.4,271.3 L456.3,256.1M460.9,272.4 L460.4,264.8M513.4,280.0 L481.0,280.6M481.0,280.6 L475.0,266.7M484.7,280.6 L478.7,266.6M488.4,280.5 L482.4,266.5M542.0,280.0 L511.7,291.5M511.7,291.5 L501.3,280.4M515.1,290.2 L504.8,279.0M518.6,288.9 L508.3,277.7M522.0,287.6 L511.7,276.4M570.6,280.0 L543.8,298.3M543.8,298.3 L531.1,289.8M546.8,296.2 L534.2,287.7M549.9,294.1 L537.2,285.6M552.9,292.0 L540.3,283.6M599.2,280.0 L576.4,303.1M576.4,303.1 L562.4,297.3M579.0,300.5 L565.0,294.7M581.6,297.9 L567.6,292.0M584.2,295.2 L577.2,292.3M627.8,280.0 L609.6,306.9M609.6,306.9 L594.7,303.7M611.7,303.8 L596.8,300.6M613.7,300.8 L598.9,297.6M656.4,280.0 L644.0,310.0M644.0,310.0 L628.8,309.9M645.4,306.6 L630.2,306.5M646.8,303.2 L631.6,303.0M685.0,280.0 L680.2,312.1M680.2,312.1 L665.5,315.7M680.8,308.5 L666.0,312.0M681.3,304.8 L673.9,306.6M713.6,280.0 L717.2,312.3M717.2,312.3 L703.8,319.5M716.8,308.6 L703.4,315.8M716.4,304.9 L709.7,308.5M742.2,280.0 L751.2,311.2M751.2,311.2 L739.2,320.6M750.2,307.7 L738.2,317.0M770.8,280.0 L781.6,310.6M781.6,310.6 L770.2,320.7M780.4,307.1 L769.0,317.2M799.4,280.0 L811.9,310.0M811.9,310.0 L801.2,320.7M810.5,306.5 L805.1,311.9M828.0,280.0 L842.3,309.2M842.3,309.2 L832.1,320.5M840.7,305.8 L835.6,311.5M856.6,280.0 L872.6,308.3M872.6,308.3 L863.1,320.2M885.2,280.0 L900.4,308.7M900.4,308.7 L890.6,320.3M913.7,280.0 L915.7,312.4M915.5,308.7 L908.6,312.0M942.3,280.0 L938.2,312.2M938.2,312.2 L923.5,316.1M970.9,280.0 L963.5,311.6M964.4,308.0 L956.9,309.2M999.5,280.0 L1004.3,312.1M1003.8,308.5 L997.2,312.3M1028.1,280.0 L1011.8,308.1M1013.7,304.9 L1006.2,303.8M1056.7,280.0 L1062.9,311.9M1062.2,308.3 L1055.9,312.4M1085.3,280.0 L1079.1,248.1M1079.8,251.7 L1086.2,247.6M1113.9,280.0 L1101.6,249.9M1101.6,249.9 L1112.5,239.3M27.4,249.1 L40.0,219.2M38.5,222.6 L46.1,222.7M56.0,249.1 L62.0,217.2M84.6,249.1 L105.0,223.9M113.1,249.1 L119.6,217.3M118.8,220.9 L126.3,219.5M141.7,249.1 L173.1,240.6M169.5,241.6 L174.1,247.6M170.3,249.1 L187.5,221.5M185.5,224.7 L193.0,226.0M198.9,249.1 L229.4,237.7M225.9,239.0 L231.0,244.6M227.5,249.1 L235.9,217.7M234.9,221.3 L242.5,220.4M256.1,249.1 L261.5,217.1M260.9,220.7 L268.3,219.1M284.7,249.1 L287.4,216.7M287.4,216.7 L301.9,212.2M313.3,249.1 L304.6,217.8M304.6,217.8 L316.6,208.6M341.9,249.1 L332.5,218.0M332.5,218.0 L344.4,208.5M370.5,249.1 L360.2,218.3M360.2,218.3 L371.8,208.4M361.4,221.8 L367.2,216.9M399.1,249.1 L386.8,219.0M386.8,219.0 L397.7,208.4M388.2,222.5 L399.1,211.9M427.7,249.1 L411.0,221.2M411.0,221.2 L420.2,209.1M412.9,224.4 L422.1,212.3M456.3,249.1 L432.4,227.0M432.4,227.0 L437.9,212.8M435.2,229.5 L440.6,215.3M437.9,232.0 L440.6,224.9M484.9,249.1 L454.5,237.5M454.5,237.5 L454.2,222.3M458.0,238.8 L457.7,223.6M461.4,240.1 L461.2,224.9M513.4,249.1 L480.9,249.0M480.9,249.0 L475.3,234.8M484.6,249.0 L479.0,234.9M488.3,249.0 L482.7,234.9M492.0,249.0 L489.2,242.0M542.0,249.1 L511.9,261.2M511.9,261.2 L501.3,250.3M515.3,259.9 L504.8,248.9M518.7,258.5 L508.2,247.5M522.2,257.1 L511.6,246.1M525.6,255.7 L520.3,250.2M570.6,249.1 L545.5,269.8M545.5,269.8 L532.2,262.5M548.4,267.4 L535.0,260.1M551.2,265.1 L537.9,257.8M554.1,262.7 L540.8,255.4M557.0,260.4 L550.3,256.7M599.2,249.1 L579.6,275.1M579.6,275.1 L565.0,271.1M581.9,272.1 L567.2,268.1M584.1,269.2 L569.4,265.2M586.3,266.2 L571.6,262.2M588.6,263.2 L581.2,261.3M627.8,249.1 L612.8,278.0M612.8,278.0 L597.7,276.5M614.5,274.7 L599.4,273.2M616.2,271.4 L601.1,269.9M617.9,268.1 L602.8,266.6M656.4,249.1 L645.8,279.9M645.8,279.9 L630.6,280.6M647.0,276.4 L631.8,277.1M648.2,272.9 L633.0,273.6M649.4,269.4 L641.8,269.8M685.0,249.1 L680.2,281.3M680.2,281.3 L665.4,284.8M680.8,277.6 L666.0,281.2M681.3,274.0 L666.5,277.5M713.6,249.1 L716.0,281.5M716.0,281.5 L702.3,288.2M715.7,277.9 L702.0,284.6M715.4,274.2 L708.6,277.5M742.2,249.1 L748.9,280.9M748.9,280.9 L736.3,289.4M748.2,277.3 L735.6,285.8M747.4,273.7 L741.1,277.9M770.8,249.1 L779.7,280.4M779.7,280.4 L767.7,289.7M778.7,276.8 L766.7,286.2M799.4,249.1 L809.7,279.9M809.7,279.9 L798.2,289.8M808.6,276.4 L802.8,281.4M828.0,249.1 L839.7,279.4M839.7,279.4 L828.7,289.8M838.4,276.0 L832.9,281.2M856.6,249.1 L869.7,278.9M869.7,278.9 L859.1,289.8M885.2,249.1 L895.5,280.0M895.5,280.0 L883.9,289.8M913.7,249.1 L925.6,279.4M924.2,275.9 L918.7,281.2M942.3,249.1 L926.5,277.5M928.3,274.3 L920.7,273.3M970.9,249.1 L962.1,280.4M963.1,276.8 L955.5,277.7M999.5,249.1 L988.7,279.8M989.9,276.3 L982.3,276.6M1028.1,249.1 L998.2,236.4M1001.6,237.9 L1001.7,230.3M1056.7,249.1 L1024.4,245.4M1028.1,245.8 L1026.1,238.5M1085.3,249.1 L1057.7,231.9M1060.9,233.9 L1062.2,226.4M1113.9,249.1 L1081.5,247.1M1085.2,247.4 L1082.7,240.2M27.4,218.5 L29.7,186.1M29.4,189.8 L36.7,187.5M56.0,218.5 L76.2,193.1M84.6,218.5 L117.0,217.7M113.3,217.8 L116.4,224.7M113.1,218.5 L122.7,187.5M141.7,218.5 L127.4,189.4M170.3,218.5 L163.5,186.7M198.9,218.5 L193.4,186.5M194.0,190.1 L200.5,186.1M227.5,218.5 L230.8,186.2M230.8,186.2 L245.4,182.0M256.1,218.5 L263.2,186.8M262.4,190.4 L269.9,189.1M284.7,218.5 L281.0,186.2M281.0,186.2 L294.3,179.0M313.3,218.5 L307.7,186.5M307.7,186.5 L320.6,178.5M341.9,218.5 L336.5,186.5M336.5,186.5 L349.4,178.5M337.1,190.1 L343.6,186.1M370.5,218.5 L364.8,186.5M364.8,186.5 L377.6,178.4M365.4,190.2 L371.8,186.1M399.1,218.5 L390.8,187.1M390.8,187.1 L403.0,178.0M391.8,190.7 L404.0,181.6M427.7,218.5 L413.4,189.3M413.4,189.3 L423.5,178.0M415.0,192.7 L425.1,181.3M456.3,218.5 L433.8,195.1M433.8,195.1 L440.0,181.2M436.3,197.7 L442.5,183.9M438.9,200.4 L442.0,193.5M484.9,218.5 L455.7,204.1M455.7,204.1 L456.9,188.9M459.0,205.7 L460.2,190.6M462.4,207.4 L463.5,192.2M465.7,209.0 L466.2,201.4M513.4,218.5 L481.0,216.0M481.0,216.0 L476.5,201.5M484.7,216.3 L480.1,201.8M488.4,216.6 L483.8,202.1M492.1,216.9 L487.5,202.4M495.8,217.1 L493.5,209.9M542.0,218.5 L512.2,231.4M512.2,231.4 L501.4,220.7M515.6,229.9 L504.8,219.2M519.0,228.4 L508.2,217.7M522.4,227.0 L511.6,216.3M525.8,225.5 L515.0,214.8M570.6,218.5 L549.2,242.9M549.2,242.9 L534.8,237.9M551.6,240.2 L537.3,235.1M554.1,237.4 L539.7,232.3M556.5,234.6 L542.2,229.6M559.0,231.8 L544.6,226.8M599.2,218.5 L585.7,248.1M585.7,248.1 L570.5,247.4M587.2,244.7 L572.1,244.0M588.8,241.3 L573.6,240.7M590.3,238.0 L575.1,237.3M591.9,234.6 L584.3,234.3M627.8,218.5 L619.1,249.8M619.1,249.8 L604.0,251.5M620.1,246.3 L605.0,248.0M621.1,242.7 L606.0,244.4M622.1,239.1 L607.0,240.8M623.1,235.6 L615.5,236.4M656.4,218.5 L650.7,250.5M650.7,250.5 L635.9,253.7M651.4,246.9 L636.5,250.0M652.0,243.2 L637.2,246.4M652.7,239.6 L645.2,241.2M685.0,218.5 L683.1,251.0M683.1,251.0 L668.6,255.8M683.3,247.3 L668.9,252.1M683.5,243.6 L669.1,248.4M713.6,218.5 L716.8,250.9M716.8,250.9 L703.3,257.9M716.4,247.2 L703.0,254.2M716.1,243.5 L702.6,250.5M742.2,218.5 L748.6,250.4M748.6,250.4 L735.9,258.7M747.9,246.7 L735.2,255.1M747.1,243.1 L740.8,247.3M770.8,218.5 L778.6,250.1M778.6,250.1 L766.3,259.0M777.7,246.5 L765.4,255.4M799.4,218.5 L808.1,249.8M808.1,249.8 L796.0,259.1M807.1,246.3 L801.0,250.9M828.0,218.5 L837.5,249.6M837.5,249.6 L825.7,259.2M836.4,246.0 L830.5,250.8M856.6,218.5 L867.0,249.3M867.0,249.3 L855.5,259.2M885.2,218.5 L891.0,250.5M891.0,250.5 L878.2,258.6M913.7,218.5 L914.8,251.0M914.8,251.0 L900.8,257.1M942.3,218.5 L936.1,250.4M936.8,246.8 L929.3,248.2M970.9,218.5 L967.1,250.8M967.6,247.1 L960.2,249.1M999.5,218.5 L969.2,207.0M1028.1,218.5 L1000.1,234.9M1003.3,233.1 L997.2,228.4M1056.7,218.5 L1031.9,197.6M1085.3,218.5 L1054.6,229.0M1113.9,218.5 L1083.3,207.5M1086.8,208.7 L1086.5,201.1M27.4,188.2 L58.2,198.5M54.7,197.3 L55.1,204.9M56.0,188.2 L88.5,188.8M84.6,188.2 L66.4,161.2M68.5,164.2 L72.8,157.9M113.1,188.2 L145.1,182.3M141.5,182.9 L145.5,189.4M141.7,188.2 L157.5,159.7M170.3,188.2 L167.4,155.8M167.7,159.5 L174.4,156.0M198.9,188.2 L224.3,167.9M221.4,170.2 L228.1,173.9M227.5,188.2 L243.8,160.0M241.9,163.2 L249.5,164.3M256.1,188.2 L241.9,158.9M243.5,162.2 L248.6,156.6M284.7,188.2 L281.7,155.8M281.7,155.8 L295.2,148.8M313.3,188.2 L307.9,156.1M307.9,156.1 L320.9,148.1M341.9,188.2 L338.0,155.9M338.0,155.9 L351.3,148.5M338.4,159.6 L345.1,155.9M370.5,188.2 L367.3,155.8M367.3,155.8 L380.8,148.8M367.7,159.5 L374.4,156.0M399.1,188.2 L393.9,156.1M393.9,156.1 L407.0,148.2M394.5,159.7 L407.5,151.9M427.7,188.2 L416.8,157.5M416.8,157.5 L428.1,147.4M418.0,161.0 L429.4,150.9M456.3,188.2 L438.2,161.2M438.2,161.2 L446.7,148.6M440.2,164.2 L448.8,151.7M442.3,167.3 L450.8,154.7M484.9,188.2 L460.7,166.4M460.7,166.4 L465.8,152.2M463.4,168.9 L468.6,154.6M466.2,171.4 L471.3,157.1M468.9,173.9 L471.5,166.7M513.4,188.2 L483.0,176.7M483.0,176.7 L482.7,161.5M486.5,178.0 L486.1,162.8M490.0,179.3 L489.6,164.1M493.4,180.6 L493.1,165.4M496.9,181.9 L496.7,174.3M542.0,188.2 L512.6,202.0M512.6,202.0 L501.5,191.7M516.0,200.4 L504.8,190.1M519.3,198.8 L508.2,188.5M522.7,197.3 L511.5,186.9M526.0,195.7 L514.9,185.4M570.6,188.2 L558.2,218.2M558.2,218.2 L543.0,218.0M559.6,214.8 L544.4,214.6M561.0,211.3 L545.8,211.2M562.4,207.9 L547.2,207.8M563.9,204.5 L548.7,204.4M599.2,188.2 L596.1,220.5M596.1,220.5 L581.6,224.8M596.5,216.8 L581.9,221.2M596.8,213.1 L582.3,217.5M597.2,209.5 L582.6,213.8M597.6,205.8 L583.0,210.1M627.8,188.2 L628.7,220.6M628.7,220.6 L614.7,226.7M628.6,216.9 L614.6,223.0M628.5,213.2 L614.5,219.3M628.4,209.5 L614.4,215.6M628.3,205.8 L621.3,208.9M656.4,188.2 L659.5,220.5M659.5,220.5 L646.0,227.5M659.1,216.8 L645.6,223.8M658.8,213.1 L645.3,220.1M658.4,209.5 L644.9,216.4M685.0,188.2 L690.3,220.2M690.3,220.2 L677.3,228.1M689.7,216.6 L676.7,224.5M689.1,212.9 L676.1,220.8M713.6,188.2 L721.7,219.6M721.7,219.6 L709.4,228.6M720.8,216.0 L708.5,225.1M719.8,212.5 L707.6,221.5M742.2,188.2 L751.7,219.2M751.7,219.2 L739.8,228.8M750.6,215.7 L738.8,225.3M749.5,212.2 L743.6,216.9M770.8,188.2 L780.2,219.2M780.2,219.2 L768.4,228.8M779.2,215.7 L767.3,225.3M799.4,188.2 L808.4,219.4M808.4,219.4 L796.5,228.8M807.4,215.8 L801.4,220.5M828.0,188.2 L836.6,219.5M836.6,219.5 L824.6,228.7M835.6,215.9 L829.6,220.5M856.6,188.2 L864.8,219.6M864.8,219.6 L852.6,228.7M885.2,188.2 L888.4,220.5M888.4,220.5 L874.9,227.6M913.7,188.2 L895.1,214.7M895.1,214.7 L880.3,211.3M942.3,188.2 L924.4,215.3M924.4,215.3 L909.5,212.2M970.9,188.2 L951.1,213.9M953.4,211.0 L946.1,209.0M999.5,188.2 L985.5,217.5M987.1,214.1 L979.5,213.7M1028.1,188.2 L1003.5,209.3M1003.5,209.3 L990.0,202.3M1056.7,188.2 L1024.2,188.5M1027.9,188.4 L1025.0,181.4M1085.3,188.2 L1053.8,196.3M1057.4,195.3 L1052.9,189.2M1113.9,188.2 L1086.4,170.8M1089.5,172.8 L1090.9,165.3M27.4,158.0 L22.1,126.0M56.0,158.0 L77.8,134.0M84.6,158.0 L93.5,126.8M113.1,158.0 L133.3,132.5M141.7,158.0 L135.6,126.1M136.3,129.8 L142.7,125.6M170.3,158.0 L201.6,149.2M198.0,150.2 L202.7,156.2M198.9,158.0 L227.0,141.6M223.8,143.5 L229.8,148.1M227.5,158.0 L219.5,126.5M220.4,130.1 L226.6,125.6M256.1,158.0 L269.9,128.6M269.9,128.6 L285.1,129.5M284.7,158.0 L274.6,127.2M275.7,130.7 L281.5,125.8M313.3,158.0 L308.1,126.0M308.1,126.0 L321.1,118.1M341.9,158.0 L339.5,125.6M339.5,125.6 L353.1,118.9M339.8,129.3 L346.6,126.0M370.5,158.0 L370.4,125.5M370.4,125.5 L384.4,119.8M370.4,129.2 L377.4,126.4M399.1,158.0 L398.5,125.5M398.5,125.5 L412.5,119.6M398.6,129.2 L412.6,123.3M427.7,158.0 L423.0,125.9M423.0,125.9 L436.1,118.2M423.5,129.5 L436.7,121.9M456.3,158.0 L446.8,127.0M446.8,127.0 L458.6,117.4M447.9,130.5 L459.7,120.9M448.9,134.0 L460.8,124.5M484.9,158.0 L472.8,127.9M472.8,127.9 L483.8,117.3M474.2,131.3 L485.1,120.8M475.5,134.7 L486.5,124.2M476.9,138.2 L482.4,132.9M513.4,158.0 L500.3,128.3M500.3,128.3 L510.9,117.4M501.8,131.7 L512.4,120.8M503.3,135.1 L513.9,124.2M504.8,138.5 L515.4,127.6M506.3,141.9 L511.6,136.4M542.0,158.0 L538.3,190.3M538.3,190.3 L523.6,194.4M570.6,158.0 L581.9,188.5M581.9,188.5 L570.7,198.8M580.6,185.1 L569.4,195.3M579.3,181.6 L568.1,191.8M578.1,178.1 L566.8,188.3M576.8,174.6 L565.5,184.9M599.2,158.0 L610.9,188.4M610.9,188.4 L599.8,198.8M609.6,184.9 L598.5,195.3M608.2,181.5 L597.1,191.8M606.9,178.0 L595.8,188.4M605.6,174.6 L594.5,184.9M627.8,158.0 L639.7,188.3M639.7,188.3 L628.6,198.7M638.3,184.9 L627.3,195.3M637.0,181.4 L625.9,191.9M635.6,178.0 L624.6,188.4M634.3,174.5 L628.7,179.7M656.4,158.0 L668.5,188.2M668.5,188.2 L657.5,198.7M667.1,184.8 L656.1,195.3M665.7,181.4 L654.7,191.9M664.3,177.9 L653.4,188.4M685.0,158.0 L697.4,188.1M697.4,188.1 L686.6,198.7M696.0,184.7 L685.2,195.3M694.6,181.2 L683.8,191.9M693.2,177.8 L687.8,183.1M713.6,158.0 L726.6,187.8M726.6,187.8 L715.9,198.7M725.1,184.4 L714.4,195.3M723.6,181.1 L713.0,191.9M742.2,158.0 L754.8,188.0M754.8,188.0 L744.0,198.7M753.4,184.6 L742.6,195.3M751.9,181.2 L746.6,186.5M770.8,158.0 L781.9,188.6M781.9,188.6 L770.6,198.8M780.6,185.1 L769.3,195.3M799.4,158.0 L808.8,189.1M808.8,189.1 L797.0,198.7M807.7,185.6 L801.8,190.4M828.0,158.0 L835.7,189.6M835.7,189.6 L823.4,198.5M834.8,186.0 L828.7,190.5M856.6,158.0 L862.6,190.0M862.6,190.0 L849.8,198.2M885.2,158.0 L885.7,190.5M885.7,190.5 L871.7,196.5M913.7,158.0 L905.8,189.6M905.8,189.6 L890.8,191.7M942.3,158.0 L925.6,185.9M925.6,185.9 L910.6,183.5M970.9,158.0 L948.9,181.9M951.4,179.2 L944.3,176.5M999.5,158.0 L968.7,168.5M968.7,168.5 L958.8,156.9M1028.1,158.0 L1001.6,176.8M1004.6,174.7 L998.2,170.6M1056.7,158.0 L1025.8,168.0M1029.3,166.9 L1024.4,161.0M1085.3,158.0 L1053.8,150.0M1057.4,150.9 L1056.4,143.3M1113.9,158.0 L1086.6,140.5M1086.6,140.5 L1089.4,125.5M27.4,128.2 L50.6,105.5M56.0,128.2 L87.4,136.4M84.6,128.2 L116.1,120.6M113.1,128.2 L104.8,96.8M105.8,100.4 L111.9,95.8M141.7,128.2 L135.1,96.4M135.8,100.0 L142.1,95.8M170.3,128.2 L175.6,96.1M198.9,128.2 L181.3,100.9M183.3,104.0 L187.7,97.8M227.5,128.2 L234.1,96.4M234.1,96.4 L249.0,93.6M256.1,128.2 L243.1,98.4M244.5,101.8 L249.9,96.4M284.7,128.2 L271.6,98.5M271.6,98.5 L282.2,87.6M313.3,128.2 L308.3,96.1M308.3,96.1 L321.4,88.3M341.9,128.2 L341.1,95.7M341.1,95.7 L355.1,89.7M341.2,99.4 L348.2,96.4M370.5,128.2 L373.8,95.9M373.8,95.9 L388.4,91.6M373.4,99.5 L388.0,95.3M399.1,128.2 L404.2,96.1M404.2,96.1 L419.0,92.7M403.6,99.8 L418.4,96.4M427.7,128.2 L431.1,95.9M431.1,95.9 L445.7,91.7M430.7,99.6 L445.3,95.4M430.3,103.2 L437.6,101.2M456.3,128.2 L457.6,95.7M457.6,95.7 L471.9,90.6M457.4,99.4 L471.8,94.3M457.3,103.1 L471.6,98.0M484.9,128.2 L488.2,95.9M488.2,95.9 L502.8,91.7M487.8,99.6 L502.4,95.3M487.4,103.2 L502.1,99.0M487.1,106.9 L494.4,104.8M513.4,128.2 L526.6,98.5M526.6,98.5 L541.8,99.0M525.1,101.9 L540.3,102.3M523.6,105.2 L538.8,105.7M522.1,108.6 L537.3,109.1M520.6,112.0 L528.2,112.2M542.0,128.2 L572.9,117.9M572.9,117.9 L582.7,129.4M569.3,119.0 L579.2,130.6M565.8,120.2 L575.7,131.8M562.3,121.4 L572.2,132.9M558.8,122.6 L568.7,134.1M570.6,128.2 L599.9,142.3M599.9,142.3 L599.0,157.4M596.6,140.7 L595.6,155.8M593.3,139.1 L592.3,154.2M589.9,137.5 L589.0,152.6M586.6,135.9 L585.6,151.0M599.2,128.2 L623.2,150.2M623.2,150.2 L617.9,164.4M620.5,147.7 L615.1,161.9M617.7,145.2 L612.4,159.4M615.0,142.7 L609.7,156.9M612.3,140.2 L606.9,154.4M627.8,128.2 L649.0,152.9M649.0,152.9 L642.0,166.4M646.6,150.0 L639.6,163.5M644.2,147.2 L637.2,160.7M641.8,144.4 L634.8,157.9M639.4,141.6 L635.9,148.4M656.4,128.2 L676.1,154.0M676.1,154.0 L668.4,167.1M673.9,151.1 L666.2,164.2M671.7,148.1 L663.9,161.2M669.4,145.2 L661.7,158.3M685.0,128.2 L703.7,154.8M703.7,154.8 L695.5,167.5M701.6,151.7 L693.3,164.5M699.5,148.7 L691.2,161.5M713.6,128.2 L731.1,155.6M731.1,155.6 L722.3,168.0M729.1,152.5 L720.3,164.8M727.1,149.3 L718.3,161.7M742.2,128.2 L757.9,156.7M757.9,156.7 L748.3,168.5M756.1,153.4 L746.5,165.2M754.3,150.2 L749.5,156.1M770.8,128.2 L783.6,158.1M783.6,158.1 L772.8,168.9M782.1,154.7 L771.4,165.5M799.4,128.2 L809.2,159.2M809.2,159.2 L797.5,168.9M808.1,155.7 L802.2,160.5M828.0,128.2 L834.8,160.0M834.8,160.0 L822.2,168.5M834.0,156.4 L827.7,160.6M856.6,128.2 L860.4,160.5M860.4,160.5 L847.1,167.8M885.2,128.2 L882.9,160.6M882.9,160.6 L868.5,165.3M913.7,128.2 L902.8,158.8M902.8,158.8 L887.6,159.4M942.3,128.2 L922.4,153.8M922.4,153.8 L907.8,149.7M970.9,128.2 L952.9,155.2M954.9,152.1 L947.5,150.6M999.5,128.2 L977.4,152.0M979.9,149.3 L972.8,146.6M1028.1,128.2 L996.1,122.5M996.1,122.5 L993.0,107.6M1056.7,128.2 L1024.4,124.3M1024.4,124.3 L1020.5,109.7M1085.3,128.2 L1056.0,114.1M1059.3,115.7 L1059.8,108.1M1113.9,128.2 L1082.1,135.1M1082.1,135.1 L1073.6,122.5M27.4,98.6 L59.3,92.7M56.0,98.6 L84.6,83.3M84.6,98.6 L92.4,67.1M113.1,98.6 L100.9,68.5M141.7,98.6 L133.9,67.1M170.3,98.6 L201.5,89.5M198.9,98.6 L229.6,87.9M226.1,89.2 L231.1,94.9M227.5,98.6 L223.6,66.4M224.1,70.0 L230.7,66.4M256.1,98.6 L265.5,67.5M264.5,71.1 L272.0,70.4M284.7,98.6 L266.7,71.6M268.8,74.6 L273.0,68.4M313.3,98.6 L304.3,67.4M304.3,67.4 L316.2,58.0M341.9,98.6 L342.8,66.1M342.8,66.1 L357.1,60.8M342.7,69.8 L349.8,67.2M370.5,98.6 L377.4,66.9M377.4,66.9 L392.3,64.3M376.6,70.5 L391.6,67.9M399.1,98.6 L410.2,68.1M410.2,68.1 L425.3,67.5M408.9,71.5 L424.1,71.0M427.7,98.6 L439.5,68.4M439.5,68.4 L454.7,68.2M438.2,71.8 L453.4,71.7M436.8,75.3 L444.4,75.2M456.3,98.6 L467.8,68.2M467.8,68.2 L483.0,67.9M466.5,71.7 L481.7,71.3M465.2,75.1 L480.3,74.8M484.9,98.6 L499.4,69.5M499.4,69.5 L514.5,70.7M497.7,72.9 L512.9,74.1M496.1,76.2 L511.2,77.4M494.4,79.5 L502.0,80.1M513.4,98.6 L535.7,74.9M535.7,74.9 L549.9,80.4M533.2,77.6 L547.3,83.1M530.6,80.3 L544.8,85.8M528.1,83.0 L542.3,88.5M525.6,85.7 L532.7,88.5M542.0,98.6 L572.5,87.4M572.5,87.4 L582.8,98.6M569.1,88.7 L579.3,99.9M565.6,89.9 L575.8,101.2M562.1,91.2 L572.3,102.5M558.6,92.5 L568.9,103.8M570.6,98.6 L602.9,102.2M602.9,102.2 L607.0,116.8M599.3,101.8 L603.4,116.4M595.6,101.4 L599.7,116.0M591.9,101.0 L596.0,115.6M588.2,100.6 L592.3,115.2M599.2,98.6 L629.0,111.7M629.0,111.7 L628.5,126.9M625.6,110.2 L625.1,125.4M622.2,108.7 L621.7,123.9M618.8,107.2 L618.3,122.4M615.4,105.8 L615.2,113.4M627.8,98.6 L654.9,116.5M654.9,116.5 L651.9,131.4M651.8,114.5 L648.8,129.4M648.8,112.5 L645.7,127.4M645.7,110.4 L642.6,125.3M642.6,108.4 L641.1,115.8M656.4,98.6 L681.7,119.0M681.7,119.0 L677.3,133.6M678.8,116.7 L674.4,131.3M675.9,114.4 L671.5,128.9M673.1,112.1 L670.9,119.3M685.0,98.6 L708.7,120.9M708.7,120.9 L703.1,135.1M706.0,118.4 L700.4,132.5M703.3,115.8 L697.7,130.0M713.6,98.6 L735.0,123.1M735.0,123.1 L728.1,136.6M732.6,120.3 L725.7,133.9M730.1,117.5 L723.3,131.1M742.2,98.6 L760.6,125.4M760.6,125.4 L752.2,138.1M758.5,122.3 L750.1,135.0M756.4,119.3 L752.2,125.6M770.8,98.6 L785.2,127.8M785.2,127.8 L775.1,139.1M783.5,124.4 L773.4,135.8M799.4,98.6 L809.6,129.5M809.6,129.5 L798.0,139.3M808.4,126.0 L802.6,130.9M828.0,98.6 L833.8,130.6M833.8,130.6 L821.0,138.7M833.2,126.9 L826.8,131.0M856.6,98.6 L858.2,131.1M858.2,131.1 L844.4,137.5M885.2,98.6 L880.2,130.7M880.2,130.7 L865.4,134.2M913.7,98.6 L899.8,128.0M899.8,128.0 L884.6,127.1M942.3,98.6 L919.5,121.7M919.5,121.7 L905.5,115.9M970.9,98.6 L942.0,113.5M942.0,113.5 L930.5,103.6M999.5,98.6 L967.9,106.0M967.9,106.0 L959.1,93.5M1028.1,98.6 L996.0,103.8M996.0,103.8 L988.2,90.8M1056.7,98.6 L1024.4,102.2M1024.4,102.2 L1017.2,88.8M1085.3,98.6 L1052.9,100.5M1052.9,100.5 L1046.4,86.8M1113.9,98.6 L1081.4,98.9M1081.4,98.9 L1075.6,84.8" fill="none" stroke="#5a5a5a" stroke-width="0.9" stroke-opacity="0.92"/><path d="M35.0,133.5L38.4,136.8L36.4,140.5L39.2,138.8L41.7,133.8L45.1,138.8L50.1,140.5L51.7,146.8L56.8,150.2L63.4,152.7L68.5,153.5L71.0,148.5L76.8,147.7L80.2,153.5L83.5,154.4L84.3,145.2L82.7,140.2L86.9,141.0L90.2,145.2L96.9,148.5L103.6,151.9L106.9,150.2L104.4,159.4L108.6,153.9L111.1,157.7L113.6,151.9L110.3,146.8L105.3,145.2L100.2,141.8L95.2,138.5L96.9,134.3L103.6,131.0L105.3,126.8L101.9,122.6L96.9,125.1L93.5,121.8L96.9,118.4L103.6,116.7L105.3,113.4L110.3,111.7L117.0,110.9L123.6,111.7L130.3,112.6L130.7,101.7M74.8,119.2L76.8,114.2L82.7,111.7L87.7,114.2L94.4,118.4L88.5,122.6L80.2,123.1L74.8,119.2M138.7,101.7L139.5,112.6L143.7,112.6L145.1,104.2L145.7,111.7L150.4,114.2L154.6,113.4L158.8,104.2L160.4,110.4L163.8,109.2L167.1,106.4L170.5,109.2L177.2,110.1L183.8,108.4L190.5,109.2L197.2,111.7L202.2,114.2L207.3,116.7L211.4,120.9L213.9,126.8L215.6,132.6L220.6,135.1L230.0,133.8M122.0,116.4L130.3,116.7M133.7,116.4L140.4,116.4M142.9,116.4L149.1,115.7M118.6,124.3L120.0,127.6L118.6,131.0M210.0,121.8L213.3,128.4L216.7,134.3L225.1,136.8L231.7,132.6L236.8,129.3L241.8,124.3L248.5,121.4L255.2,123.4L261.8,128.4L266.9,134.3L271.9,141.8L278.6,149.3L285.3,152.7L290.3,161.9L291.1,170.3L288.6,180.3L286.9,188.6L285.3,195.3L288.6,200.4L291.9,197.0L290.3,192.0L295.3,193.7L297.0,197.0L293.6,203.7L290.3,208.7L291.9,212.1L295.3,218.7L300.3,227.1L303.6,233.8L304.5,240.5L308.7,242.2L310.3,237.1L313.7,235.5L312.0,242.2L313.7,250.0M228.4,101.7L302.8,105.4L303.6,111.7L307.0,111.7L307.8,101.7M322.9,101.7L325.4,111.7L328.7,128.4L333.7,143.5L340.4,158.5L343.8,166.9L348.8,178.6L353.8,195.3L358.8,212.1L362.2,227.1L363.5,238.8L363.0,250.0M320.4,110.1L317.9,116.7L319.5,125.1L318.7,133.5L319.5,138.5M341.3,166.1L343.8,173.6L348.8,175.3L347.1,168.6L342.1,165.2M343.8,173.6L352.1,195.3L357.2,217.1M334.6,225.4L338.8,219.6L343.8,217.9L347.1,223.8L346.3,230.5L342.9,235.5L338.8,232.1L337.1,227.9L334.6,225.4M301.7,230.0L305.1,236.7L303.4,241.7L308.4,240.0L313.4,246.7L315.1,255.1L317.6,261.8L323.5,261.8L328.5,268.5L331.8,278.5L333.5,285.2L338.5,286.9L346.9,285.2L353.6,283.5L358.6,271.8L361.1,258.4L362.8,243.4L363.6,230.0M331.8,280.2L335.2,279.3L338.5,281.8L336.0,286.0L332.7,285.2L331.8,280.2M313.4,306.1L320.1,303.6L326.0,301.1M320.1,302.9L326.0,300.4M332.7,301.1L338.5,298.6M341.0,297.2L345.2,294.4L350.2,288.5L354.4,281.8L357.8,275.2M392.9,235.0L400.4,240.9L407.1,238.4L413.8,235.9L422.1,235.0L422.1,232.5L412.1,233.3L403.7,231.7L400.4,236.7L395.4,235.0L392.9,235.0M433.0,230.0L438.9,236.7L445.6,241.7L447.2,248.4L443.0,253.4L441.4,260.9L438.0,256.8L442.2,250.1L443.0,245.1L438.0,238.4L434.7,233.3M413.8,285.2L419.6,285.2L422.1,293.5L427.2,303.6L427.2,311.9L430.5,318.6L433.0,327.0L431.3,332.8L427.2,332.0L425.5,325.3L422.1,318.6L417.1,310.3L410.4,306.9L408.8,301.9L413.8,298.6L415.5,291.9L413.8,285.2M421.3,313.6L426.3,317.0L423.8,321.1L428.8,323.6L427.2,328.7M431.3,289.7L435.5,288.0L439.7,289.4L435.5,291.4L431.3,289.7M453.9,272.6L457.3,276.0L463.9,280.2L469.0,285.2L472.3,290.2L470.6,296.9L469.8,301.1L466.5,296.9L469.8,294.4L469.0,288.5L462.3,281.8L455.6,276.8L453.9,272.6M431.0,246.7L431.8,247.6M460.3,314.9L461.4,316.3M464.4,320.3L465.3,322.8M474.8,335.4L480.0,339.5M230.0,393.5L238.4,390.2L245.1,388.5L241.7,383.5L243.4,376.8L248.4,370.1L256.8,365.1L266.8,360.1L276.8,356.7L286.9,355.9L296.9,352.5L306.9,351.4L317.0,352.5L325.3,353.4L331.2,350.9L330.3,354.2L337.0,355.9L340.4,352.5L347.1,354.2L350.4,351.7L348.7,355.1L353.7,358.4L362.1,361.7L368.8,364.2L373.8,367.6L380.5,370.1L387.2,376.8L397.2,379.3L400.1,380.1M230.0,396.9L238.4,396.0L240.9,398.5L246.7,394.3L253.4,391.8L255.1,386.8L263.4,384.3L271.8,381.8L278.5,376.0L285.2,370.1L288.5,367.6L300.2,368.4L310.3,368.4L317.0,370.9L317.8,375.1L310.3,376.0L305.3,377.6L308.6,381.0L315.3,384.3L323.6,386.0L328.7,386.8L331.2,382.6L332.0,387.7L338.7,389.3L347.1,389.3L350.4,385.2L352.1,389.3L357.1,393.5L363.8,397.7L372.1,401.0L380.5,403.5L388.9,405.2L397.2,404.4L402.2,408.6L404.7,413.6M280.2,395.2L285.2,393.2L290.2,395.2L292.7,400.2L291.9,406.1L286.9,409.4L280.2,408.6L276.8,405.2L280.2,404.4L278.5,399.4L280.2,395.2M357.1,355.1L358.8,355.4M362.1,355.9L363.8,356.7M367.1,359.2L368.8,360.1M372.1,361.7L373.5,362.7M375.5,364.2L382.2,369.6M375.8,364.9L381.8,370.1M389.7,368.8L393.0,368.8M320.3,404.4L327.0,400.2M320.8,404.9L327.3,400.9M381.3,421.1L387.2,424.4M387.2,425.3L397.2,432.0M387.7,426.0L397.2,432.6M404.7,433.6L410.6,439.5M361.3,468.8L365.5,467.1M367.1,467.1L371.3,465.8M361.3,469.3L365.5,467.6M324.5,478.8L326.2,481.3L333.7,479.6L330.3,478.5M400.0,378.5L410.0,386.8L420.1,393.5L430.1,398.5L440.1,405.2L450.2,410.2L458.5,414.4L466.9,418.6L475.3,421.9L481.9,421.1L486.1,423.6L483.6,427.8L481.9,432.0L487.0,431.1L493.6,433.6L502.0,434.5L508.7,437.0L515.4,442.0L522.1,447.0L527.1,449.5L525.4,453.7L520.4,456.2L515.4,457.9L507.0,458.7L500.3,460.4L493.6,459.6L483.6,458.7L470.2,457.9L455.2,459.6L441.8,461.2L430.1,463.7L427.6,461.2L433.4,455.4L440.1,448.7L444.3,442.0L441.8,437.0L435.1,434.5L426.8,433.6L418.4,431.1L411.7,425.3L406.7,418.6L405.0,413.6M400.0,373.4L406.7,372.6L413.4,376.8L418.4,381.8L425.1,385.2L430.1,390.2L428.4,393.5L433.4,395.2L438.5,400.2L443.5,403.5L445.2,406.9L441.0,407.7L438.5,403.5L431.8,398.5L425.1,391.8L420.1,388.5L413.4,381.8L406.7,377.6L400.0,376.0M410.0,376.0L416.7,382.6L423.4,387.7L429.3,391.8M450.2,411.9L453.5,411.1L457.7,414.4L461.9,415.3L462.7,417.3L458.5,416.9M498.7,457.1L500.3,461.2M499.2,457.1L500.8,460.7M404.2,433.3L405.9,434.5M407.5,437.8L410.0,439.8M539.6,423.6L542.1,419.4L547.2,416.9L553.8,417.8L557.2,413.6L558.0,417.8L555.5,422.8L548.8,426.1L542.1,427.0L539.6,423.6M557.2,406.9L559.7,406.1L560.5,408.6L558.0,409.4L557.2,406.9M521.2,363.4L527.1,365.1L529.6,367.6L532.1,366.8L533.8,368.4L534.6,373.4L530.4,378.5L527.1,381.8L522.9,385.2L527.1,380.1L532.1,374.3L530.4,370.9L525.4,368.4L522.1,372.6L520.7,367.6L521.2,363.4M478.6,340.0L483.6,342.5L488.6,343.7M478.9,340.5L483.6,343.0L488.3,344.2M495.3,340.0L498.7,346.7L500.3,351.7L504.5,355.1L507.0,360.9L505.0,356.7L500.3,354.2L498.3,350.0L496.7,343.3M553.8,377.6L558.9,376.0L564.7,379.3L565.6,381.0L560.5,380.1L554.7,379.3L553.8,377.6M535.8,354.4L538.5,355.1M535.8,354.9L538.5,355.6M543.5,370.4L545.2,370.9M585.6,393.5L590.6,396.0L595.7,397.7L600.0,400.2M586.5,394.5L592.3,397.7L599.0,400.5M578.1,396.9L581.4,398.5M578.1,397.5L581.1,399.0M573.6,400.9L574.6,401.5M545.9,466.0L551.7,460.9L560.1,459.3L568.5,460.1L575.2,462.6L581.8,466.0L588.5,467.6L592.7,469.3L593.5,463.4L598.6,460.9L605.3,462.6L611.9,460.1L617.0,460.9L623.6,464.3L630.3,466.0L637.0,469.3L643.7,469.3L645.4,475.2L648.7,480.2L653.7,479.3L662.1,478.5L663.8,481.8L658.8,484.3L652.9,484.3L652.1,487.7L660.4,488.5L668.8,490.2L675.5,490.2L680.5,493.5L685.5,498.6L688.9,503.6L687.2,508.6L683.8,513.6L681.3,517.8L677.2,517.0L673.8,512.8L668.8,510.3L662.1,509.4L655.4,510.3L647.1,508.6L642.0,510.3L637.0,515.3L628.7,517.0L625.3,510.3L622.0,512.8L617.0,513.6L611.9,517.0L610.3,525.3L605.3,532.0L601.1,536.2L596.9,530.3L595.2,524.5L592.7,520.3L585.2,517.0L576.8,517.8L566.8,518.6L556.8,517.0L546.7,515.3L538.4,516.1L535.0,522.8L531.7,520.3L530.0,517.0M530.0,505.3L538.4,504.4L546.7,507.8L556.8,508.6L566.8,507.8L571.8,506.1L576.0,503.6L575.2,498.6L570.1,495.2L566.0,488.5L566.8,480.2L563.4,473.5L555.1,469.3L548.4,469.3L545.9,466.0M593.5,469.3L594.4,476.8L596.1,483.5L593.5,491.9L594.4,500.2L590.2,505.3L592.7,511.9L593.5,518.6M550.9,493.5L555.1,492.2L563.4,496.9L564.3,499.4L558.4,498.6L551.7,496.1L550.9,493.5M591.0,506.9L596.1,505.6L599.4,508.6L595.2,510.3L591.0,506.9M585.2,503.6L588.5,508.9L589.5,508.3L586.5,503.2L585.2,503.6M560.1,455.1L566.0,455.1L568.5,456.8L562.6,457.1L560.1,455.1M676.3,517.8L680.5,518.6L679.7,520.3L677.2,519.8L676.3,517.8M599.6,538.0L600.4,538.7M699.7,520.8L700.9,521.6L699.7,522.0L699.7,520.8M539.2,521.1L542.5,521.6M720.1,507.8L726.8,507.3L736.8,508.3L746.8,509.9L756.9,510.6L763.5,511.9L763.2,517.0L758.5,520.3L753.5,524.5L746.8,526.2L736.8,525.3L726.8,526.2L720.1,526.2L719.7,520.3L720.4,514.4L718.4,511.1L720.1,507.8M765.2,521.1L771.9,518.3L772.7,519.5L766.9,522.3L765.2,521.1M771.9,513.3L772.9,514.3M780.3,511.9L785.3,513.6M780.6,512.6L785.3,514.3M787.8,513.1L789.5,510.3L792.0,509.4L790.3,512.3L787.8,513.1M796.2,507.8L798.7,506.9M797.8,499.4L801.2,500.2M798.0,499.9L801.0,500.7M783.6,532.3L792.0,531.2L788.6,534.5L784.4,534.5L783.6,532.3M832.1,517.8L836.3,515.6M832.4,518.5L836.5,516.3M832.9,521.1L835.1,520.3L835.8,522.8L833.8,523.0L832.9,521.1M839.3,526.2L840.1,527.0M840.1,543.7L843.8,545.4L846.3,549.6L848.8,552.9L847.2,554.6L844.6,550.4L841.3,547.1L840.1,543.7M836.5,540.4L837.3,541.2M868.1,534.5L870.6,534.5L871.4,538.7L868.9,539.0L868.1,534.5M867.2,553.7L870.6,552.1L873.1,554.6L871.4,557.9L868.1,557.1L867.2,553.7M857.2,567.5L858.9,563.8L860.5,568.1L857.2,567.5M873.1,555.1L872.7,556.5L871.6,557.5L870.1,557.9L868.6,557.5L867.5,556.5L867.1,555.1L867.5,553.6L868.6,552.6L870.1,552.2L871.6,552.6L872.7,553.6L873.1,555.1M857.6,567.1L858.9,563.4L860.4,567.8L857.6,567.1M876.0,585.7L875.9,588.9L875.0,591.3L873.7,592.3L872.2,591.6L871.0,589.4L870.3,586.2L870.4,583.0L871.2,580.6L872.6,579.7L874.1,580.4L875.3,582.6L876.0,585.7M877.7,576.0L879.3,574.3L881.0,579.3L886.9,582.6L880.2,583.1L877.7,580.1L877.7,576.0M886.0,593.2L885.8,594.0L885.2,594.6L884.3,594.8L883.5,594.6L882.9,594.0L882.7,593.2L882.9,592.3L883.5,591.7L884.3,591.5L885.2,591.7L885.8,592.3L886.0,593.2M889.9,580.1L891.9,579.3M884.2,609.9L884.3,613.4L883.8,616.1L882.8,617.2L881.5,616.4L880.3,614.0L879.5,610.6L879.3,607.0L879.8,604.4L880.9,603.3L882.2,604.0L883.4,606.5L884.2,609.9M886.0,630.3L889.4,628.6L894.4,633.6L896.9,640.3L895.2,642.8L891.0,641.2L888.5,636.2L886.0,630.3M894.2,660.6L893.7,663.5L892.8,665.5L891.7,666.2L890.8,665.4L890.2,663.2L890.2,660.2L890.7,657.3L891.6,655.3L892.7,654.6L893.6,655.4L894.2,657.6L894.2,660.6M888.0,682.8L887.4,684.5L886.6,685.7L885.8,686.1L885.1,685.4L884.9,684.0L885.0,682.2L885.6,680.4L886.4,679.2L887.3,678.9L887.9,679.5L888.2,680.9L888.0,682.8M884.3,690.5L886.0,689.3M929.5,680.5L932.0,679.6L935.4,685.5L932.8,688.8L930.0,687.2L929.0,683.0L929.5,680.5M410.1,514.3L412.6,510.1L418.5,508.8L425.2,506.8L433.5,508.1L441.9,509.3L450.2,511.5L456.9,514.8L463.6,517.7L467.8,522.7L469.5,526.9L463.6,528.5L456.9,527.7L451.9,526.0L448.6,529.4L444.4,528.5L442.7,533.5L439.4,531.0L435.2,527.7L427.7,528.9L423.5,525.2L419.3,520.2L413.4,518.2L410.1,514.3M35.0,508.8L36.7,504.6L43.4,499.6L50.1,497.9L51.7,502.1L46.7,507.1L40.0,509.6L35.9,510.4M35.0,502.1L43.4,495.4L51.7,491.2L60.1,483.7L66.8,472.0L70.1,461.9L73.5,450.2L74.3,436.9L76.8,426.8L83.5,420.1L93.5,416.0L105.3,413.4L117.0,410.1L127.0,406.8L138.7,405.1L150.4,405.9L158.8,405.1L165.5,403.4L170.5,405.1L174.6,411.8L176.3,420.1L172.1,430.2L167.1,438.5L162.1,446.9L157.9,455.3L156.3,463.6L151.2,468.6L152.1,472.8L157.1,472.0L154.6,478.7L151.2,482.0L154.6,481.2L153.7,487.0L151.2,497.1L149.6,505.4L147.9,513.8L146.2,520.5L143.7,527.2M159.6,405.9L163.8,405.1L165.5,406.8L161.3,408.4L159.6,405.9M169.6,444.4L172.1,439.4L176.3,438.5L174.6,444.4L171.3,448.6L169.6,444.4M110.3,535.0L111.1,525.5L115.3,523.8L117.8,528.0L123.6,518.8L128.7,510.4L132.0,508.8L136.2,503.7L140.4,497.1L141.2,503.7L139.5,510.4L132.8,511.3L132.8,512.9L139.5,512.1L140.4,518.8L148.7,518.5M139.5,512.1L138.7,522.1L137.0,530.5L135.4,535.0M60.1,535.0L60.1,530.5L110.3,530.5L111.1,525.5M35.0,593.6L38.4,588.6L74.3,588.6L75.2,576.9L69.3,570.2L63.4,561.8L55.1,555.1L46.7,549.8L59.8,549.8L59.8,530.4L111.1,530.4M111.1,530.4L110.3,553.4L108.6,595.3L117.0,596.1M139.5,520.0L137.0,528.4L134.5,536.7L136.2,545.1L135.4,553.4L134.5,561.8L131.2,570.2L127.0,578.5L122.8,582.7L118.6,588.6L117.0,593.6L121.1,596.9L125.3,593.6L127.8,596.9L124.5,600.3L130.3,598.6L135.4,601.1L140.4,598.6L145.4,595.3L152.1,593.6L157.1,596.9L163.8,594.4L172.1,596.1L180.5,597.8L188.9,595.3L197.2,591.9L203.9,593.6L213.9,594.4L222.3,591.9L230.0,592.7M104.4,607.0L110.3,603.6L117.0,599.4L119.5,598.6L117.8,601.9L113.6,607.0L108.6,611.1L105.3,611.1L104.4,607.0M135.4,601.1L128.7,607.0L120.3,613.6L111.9,620.3L108.6,627.0L107.8,635.4L105.3,640.4L100.2,643.7M100.2,643.7L96.9,650.4L90.2,655.5L86.0,662.1L83.5,667.2M100.2,643.7L106.9,644.6L113.6,648.8L120.3,655.5L128.7,658.8L133.7,662.1L140.4,660.5L147.1,662.1L149.6,665.5L148.7,675.0M176.3,675.0L177.2,667.2L183.8,663.8L190.5,660.5L195.6,656.3L198.9,660.5L205.6,663.0L210.6,657.1L215.6,650.4L220.6,645.4L222.3,637.1L226.5,633.7L230.0,630.4M35.0,648.8L43.4,655.5L55.1,659.6L66.8,660.5L78.5,658.8L85.2,665.5L91.9,672.2L96.9,675.0M170.1,586.6L172.1,587.6M170.1,587.2L172.1,588.2M180.5,580.2L185.5,577.7L190.5,576.5M180.5,580.9L185.5,578.4L190.5,577.2M199.4,576.5L201.4,574.3M199.9,576.9L201.7,574.8M136.7,533.9L138.4,535.1M143.4,527.0L145.4,521.7M144.0,527.0L146.1,522.0M145.1,540.9L147.1,546.8M145.7,540.9L147.7,546.4M200.0,590.1L210.0,592.6L220.1,591.7L226.8,590.9L235.1,595.1L240.1,596.8L245.2,596.8L250.2,601.8L255.2,606.0L261.9,611.8L266.9,615.2L271.9,620.2L276.9,624.3L273.6,625.2L275.3,630.2L276.1,636.9L275.3,645.3L273.6,650.3L271.1,657.0L268.6,663.6L266.9,670.3L266.1,678.7L266.9,687.1L266.9,697.1L266.1,703.8L264.4,712.1L262.7,718.8L261.9,725.0M248.5,606.0L253.5,607.6L260.2,613.5L266.1,616.0L265.2,618.5L258.5,616.8L251.8,612.6L248.5,608.5L248.5,606.0M250.2,607.6L255.2,611.0L258.5,614.3M276.9,624.3L270.2,625.2L265.2,627.7L256.9,631.0L250.2,632.7L245.2,634.4L240.1,636.1L233.4,633.5L229.3,631.0L225.1,635.2L221.7,641.9L218.4,647.8L214.2,651.9L208.4,657.0L205.0,662.0L200.0,660.3M271.6,627.7L273.6,628.2L273.2,631.0L271.4,630.5L271.6,627.7M271.9,646.1L274.4,646.6L273.9,648.9L271.9,648.6L271.9,646.1M264.4,668.7L265.9,669.0L265.6,671.3L264.2,670.8L264.4,668.7M262.7,697.9L266.1,697.9L265.2,703.8L266.9,708.8L264.4,711.3L261.0,710.5L260.2,705.5L262.7,697.9M286.6,644.1L288.0,645.1M286.6,644.7L288.0,645.8M326.1,678.4L326.6,679.7M316.6,704.8L317.2,707.1M316.9,704.8L317.6,707.1M130.0,685.1L138.4,683.4L145.1,680.1L148.4,675.9L151.7,679.2L155.1,676.7L157.6,680.1L155.1,683.4L158.4,687.6L153.4,690.1L151.7,692.6L158.4,700.1L165.1,708.5L171.8,715.2L178.5,723.5L185.2,731.9L191.9,738.6L198.6,745.3L203.6,752.0L206.9,756.2L204.4,760.3L200.2,761.2L203.6,763.7L206.9,768.7L206.1,773.7L201.9,778.7L203.6,785.4L208.6,792.1L215.3,797.1L220.3,802.1L222.8,803.8L225.3,798.8L228.7,797.1L223.6,792.1L220.3,787.1L217.8,782.1L222.0,786.3L227.0,792.1L232.0,797.1L235.4,802.1L240.4,807.2L247.1,810.5L253.7,813.8L257.1,815.0M145.9,660.0L150.1,663.3L149.2,670.0L146.7,675.9M160.9,690.9L170.1,690.1L171.8,683.4L178.5,680.1L176.8,673.4L177.7,665.0L185.2,663.3L191.9,660.0M200.2,660.0L203.6,663.3L205.3,660.0M181.8,710.2L186.9,707.7L191.0,708.5L190.2,713.5L194.4,715.2L193.5,718.5L188.5,717.7L185.2,714.3L181.8,712.7L181.8,710.2M199.4,722.7L205.3,721.0L211.9,725.2L218.6,731.9L225.3,740.3L230.3,748.6L232.0,754.5L229.5,757.8L223.6,755.3L217.0,751.1L210.3,747.0L205.3,741.9L201.9,735.3L200.2,728.6L199.4,722.7M206.1,739.4L208.6,738.3L210.3,740.3L211.9,742.8L210.3,743.6L208.6,741.6L206.6,741.1L206.1,739.4M224.6,751.3L225.3,752.3M201.6,732.9L202.6,733.6M206.9,756.2L210.3,753.6L217.0,751.1M229.5,757.8L235.4,755.3L242.0,758.7L247.1,762.0L250.4,764.5L255.4,766.2L260.4,765.4L263.8,764.5M268.8,660.0L268.0,668.4L267.1,680.1L266.3,690.1L265.5,698.5L263.8,715.2L262.1,726.9L262.9,735.3L258.8,740.3L257.1,745.3L259.6,753.6L263.8,760.3L263.8,764.5L267.1,770.4L272.1,778.7L277.2,787.1L283.8,797.1L290.5,805.5L297.2,810.5L303.9,813.8L305.6,815.0M261.3,705.2L263.8,697.6L266.3,698.5L267.1,710.2L262.9,711.5L260.8,708.5L261.3,705.2M258.8,729.4L259.6,723.5L261.3,718.5L262.1,723.5L260.8,729.4L258.8,729.4M264.8,667.5L265.8,670.0M326.2,678.7L326.8,680.1M316.6,704.3L317.3,706.8M317.1,704.3L317.8,706.8M253.7,770.4L252.9,780.4L252.1,790.4L251.2,798.8M283.0,815.0L283.8,808.8L287.2,804.6L291.4,805.5L293.0,808.0M263.4,760.0L265.1,766.7L268.4,775.1L273.4,783.4L278.4,790.1L283.4,796.8L288.5,802.6L291.8,805.2L295.2,808.5L299.3,811.8L301.8,816.9L305.2,821.9L310.2,824.4L313.5,822.7L314.4,826.1L318.6,828.6L323.6,831.1L330.3,831.9L337.0,830.2L342.0,826.9L347.0,822.7L353.7,819.4L360.4,816.9L365.4,813.5L368.7,809.3L373.7,805.2L378.8,804.3L383.8,805.2L390.5,806.0L392.1,808.5L397.2,810.2L403.8,811.0L410.5,813.5L417.2,816.9L422.2,821.9L427.3,826.9L432.3,831.9L437.3,836.1L442.3,841.9L446.5,847.0L450.0,852.0M298.5,811.8L301.8,810.2L304.3,813.5L300.2,815.2L298.5,811.8M305.7,818.2L306.7,818.9M308.2,819.0L309.2,819.7M311.0,818.5L314.4,822.2L313.2,818.9L311.0,818.5M285.1,805.2L282.6,811.8L283.4,820.2L287.6,825.2L288.5,830.2L285.1,835.3L286.0,841.9L281.8,847.0M250.0,808.5L255.0,813.5L260.0,821.9L264.2,828.6L261.7,833.6L260.9,838.6L264.2,841.9L268.4,843.6L272.6,842.8L271.7,838.6L269.2,834.4L271.7,833.6L275.1,836.9L277.6,841.9L279.3,847.0L281.8,848.6L283.4,852.8L284.3,856.2L283.1,850.3L281.8,847.0L288.5,845.3L295.2,848.6L300.2,847.0L303.5,850.3L308.5,851.1L314.4,852.0L318.6,857.0L321.1,863.7L325.3,867.0L330.3,868.7L331.9,862.0L335.3,862.0L334.4,867.0L336.1,872.0L338.6,878.7L341.1,882.9L347.0,882.9L353.7,880.4L360.4,877.1L363.7,875.4L364.5,870.4L362.0,865.4L357.0,860.3L352.8,855.3L352.0,850.3L357.0,845.3L363.7,841.9L368.7,838.6L371.2,833.6L373.7,828.6L377.1,826.1L383.8,823.5L388.8,821.9L393.0,819.4L389.6,821.5L392.1,825.2L397.2,828.6L402.2,833.6L405.5,838.6L408.0,842.8L412.2,841.9L415.6,839.4L417.2,843.6L420.6,847.0L425.6,852.8L422.2,851.1L417.2,847.0L413.9,848.6L410.5,853.6L408.0,856.2L410.5,863.7L415.6,872.0L420.6,880.4L425.6,887.1L430.6,893.8L433.9,900.5M365.4,813.5L367.1,817.7L370.4,816.0L373.7,818.5L375.4,823.5L372.9,825.2L369.6,821.9L365.4,822.7L362.0,823.5M367.9,811.8L369.6,816.9L372.9,812.7L376.3,817.7L374.6,826.1M312.7,873.7L314.4,870.4L316.9,869.5L316.1,873.7L318.6,877.1L319.4,879.6L316.1,879.6L313.5,877.1L312.7,873.7M330.3,874.0L335.3,871.7M330.6,874.5L335.6,872.2M388.3,844.9L389.0,845.6M388.6,847.6L389.3,848.3M393.8,842.8L396.3,843.6L396.8,847.0L394.6,848.6L393.5,846.1L393.8,842.8M437.3,836.1L434.8,840.3L435.6,843.6L439.0,848.6L441.5,853.6L442.3,858.7L439.0,863.7L433.9,868.7L430.6,872.0L427.3,867.0L425.6,875.4L423.1,880.4M436.7,835.3L434.7,840.3L435.9,845.3L439.2,850.3L441.7,857.0L440.1,863.7L435.9,868.7L430.0,872.1L427.5,867.9L425.9,875.4L423.3,882.1L420.0,888.8M436.7,835.3L443.4,836.1L449.3,837.0L450.9,847.0L450.1,857.0L452.6,860.4L454.8,857.9L454.3,848.7L452.6,838.6L456.0,835.3L461.8,830.3L466.8,825.3L470.2,818.6L475.2,813.5L480.2,810.2L484.4,808.5L486.1,801.8L484.4,795.2L485.2,788.5L486.9,781.8L488.6,776.8L490.2,771.7L493.6,768.4L498.6,763.4L503.6,758.4L507.0,753.3L512.0,755.0L518.7,757.5L517.0,760.0L514.5,761.7L515.3,765.1L520.3,765.9L522.8,760.0L524.5,753.3L523.7,750.0M420.0,880.4L425.0,888.8L430.0,897.2L435.1,901.3M420.0,848.7L422.5,850.3L425.9,852.0M577.2,750.0L570.5,760.0L565.5,770.1L560.5,783.4L555.5,796.8L552.1,806.9L548.8,816.9L553.8,817.7L558.8,814.4L562.1,820.2L565.5,828.6L568.8,837.0L573.8,847.0L576.4,853.7L573.8,863.7L573.8,873.7L577.2,878.8L580.5,877.1L582.2,883.8L587.2,888.8L595.6,889.6L603.9,888.8L612.3,888.0L620.0,887.1M560.0,739.3L566.7,735.1L575.1,730.1L580.1,725.1L582.6,718.4L585.1,715.1L589.3,712.5L593.4,709.2L598.5,708.4L603.5,710.0L608.5,715.1L611.0,721.7L608.5,726.8L601.8,730.9L593.4,733.4L588.4,736.0L586.8,740.1L589.3,746.8L592.6,753.5L596.0,757.7L595.1,761.0L600.1,759.4L601.8,757.7L608.5,756.0L616.9,751.8L625.2,748.5L631.9,746.0L637.8,742.6L640.3,740.1L636.9,736.0L633.6,730.1L634.4,723.4L638.6,718.4L642.8,717.6L646.1,720.9L647.8,726.8L647.8,733.4L645.3,736.0L648.6,739.3L653.6,737.6L660.3,738.5L667.0,741.0L673.7,744.3L680.4,748.5L687.1,751.8L688.8,757.7L689.6,764.4L692.1,770.2L697.1,773.6L705.5,773.6L713.8,771.9L722.2,771.1L730.6,770.2L738.9,769.4L745.6,770.2L750.6,771.9L754.8,776.9L760.0,781.9M598.5,763.5L600.1,770.2L598.5,775.3L593.4,780.3L588.4,787.0L584.2,793.6L583.4,800.3L587.6,807.0L591.8,812.0L593.4,818.7L598.5,822.1L605.2,820.4L610.2,815.4L612.7,807.0L612.7,800.3L610.2,793.6L606.8,787.0L603.5,780.3L601.0,773.6L600.1,766.9L598.5,763.5L596.0,757.7M585.1,738.5L581.7,745.2L576.7,753.5L571.7,760.2L568.4,766.9L565.0,773.6L561.7,780.3L560.0,783.6M560.0,819.6L565.0,823.7L570.0,833.8L575.1,845.5L576.7,855.0M585.1,715.9L587.6,714.2L588.8,716.7L586.4,718.1L585.1,715.9M593.4,710.0L596.0,708.4L597.1,710.4L594.8,711.7L593.4,710.0M635.3,731.8L638.6,736.0L643.6,734.3L647.0,733.4M641.1,704.2L643.6,706.7L645.3,710.0L642.8,708.4L641.1,704.2M665.4,711.7L668.7,716.7L675.4,720.9L676.2,722.6L670.4,720.1L666.2,715.1L665.4,711.7M687.1,714.2L689.6,715.9L691.3,721.7L688.8,720.1L687.1,714.2M734.4,730.6L735.6,731.4M734.4,731.1L735.6,731.9M748.5,730.3L749.6,731.1M748.5,730.8L749.6,731.6M740.0,770.1L746.7,769.2L750.9,772.6L754.2,778.4L758.4,781.8L765.1,783.4L773.4,787.6L780.1,789.3L785.2,787.6L790.2,783.4L796.9,780.1L801.0,775.1L800.2,770.9L805.2,769.2L811.9,771.7L817.8,774.2L813.6,775.9L806.9,775.1L801.9,773.4M805.2,769.2L815.3,767.6L827.0,767.6L837.0,766.7L843.7,765.1L852.0,765.9L860.4,766.7L867.9,766.4L866.3,768.4L860.4,769.2L853.7,771.7L847.0,772.6L840.3,773.4L838.7,776.8L843.7,779.3L846.2,784.3L844.5,787.6L838.7,789.3L836.2,787.6L837.8,783.4L837.0,779.3L838.7,776.8M846.2,784.3L850.4,785.1L853.7,791.8L857.1,798.5L859.6,801.8L860.4,796.8L857.9,792.6L861.2,791.8L863.7,795.2L867.1,798.5L870.4,803.5L872.1,800.2L869.6,796.0L873.8,794.3L878.8,796.8L883.8,801.8L890.5,805.2L895.5,808.5L897.2,813.5L893.8,816.9L890.5,820.2L888.8,826.9L887.2,833.6L883.8,837.0L878.8,837.8L873.8,837.0L878.8,840.3L883.8,842.8L890.5,841.1L897.2,838.6L905.6,837.0L912.2,836.1L917.3,838.6L922.3,843.6L925.6,848.7L922.3,850.3L918.9,855.4L913.9,860.4L907.2,863.7L903.0,867.1L900.5,873.7L903.0,880.4L907.2,883.8L910.6,888.8L907.2,893.8L898.9,897.2L890.5,898.8L887.2,901.3M925.6,844.5L930.6,847.8L934.8,852.0L940.0,857.0M926.5,845.7L934.0,852.3M873.8,766.7L880.5,765.1L887.2,763.4L893.8,762.5L893.0,768.4L891.3,775.1L892.2,781.8L888.8,786.0L880.5,787.6L872.1,789.3L867.1,790.1L872.1,786.0L877.1,782.6L878.8,776.8L878.0,770.1L873.8,766.7M896.4,751.7L900.5,750.0L903.0,750.8L898.9,752.5L896.4,751.7M797.7,756.7L800.2,755.0L806.9,755.9L810.2,752.5L812.7,751.7L814.4,755.9L811.1,759.2L806.9,760.9L802.7,759.2L798.5,758.4L797.7,756.7M769.3,759.2L772.6,758.0L775.1,759.7L771.8,760.9L769.3,759.2M808.7,764.7L809.9,764.0L810.7,765.4L809.4,766.1L808.7,764.7M835.3,867.1L840.3,866.2L844.5,865.4L842.8,870.4L841.2,875.4L842.0,880.4L838.7,885.5L837.0,890.5L839.5,895.5L837.8,893.0L836.7,886.3L840.0,879.6L839.5,873.7L837.0,870.4M918.3,839.2L925.0,845.8L933.3,851.7L941.7,858.3L950.0,865.0L956.7,870.8L960.8,876.7M925.8,844.2L935.0,852.0M958.3,896.7L960.0,897.5L961.7,900.8M973.3,897.5L978.3,900.8M97.0,675.0L105.0,679.0L115.0,682.0L125.0,684.0L130.0,685.0M523.7,750.0L530.0,746.0L540.0,742.5L550.0,740.5L560.0,739.3" fill="none" stroke="#000" stroke-width="0.95" stroke-linejoin="round" stroke-linecap="round"/><rect x="916.2" y="878.0" width="207.6" height="19.4" fill="#fff" stroke="#aaaaaa" stroke-width="1.2"/><path d="M939.52,884.94L938.48,884.05L936.97,883.60L934.75,883.60L933.25,884.05L932.20,884.94L932.20,885.89L932.66,886.68L933.25,887.18L934.42,887.68L937.50,888.52L938.41,888.92L939.00,889.42L939.52,890.31L939.52,891.66L938.48,892.55L936.97,893.00L934.75,893.00L933.25,892.55L932.20,891.66M943.18,886.73L943.18,893.00M942.99,883.88L942.66,883.60L943.18,883.15L943.71,883.60L943.18,884.05L942.99,883.88M946.85,891.66L947.37,892.55L948.87,893.00L950.57,893.00L952.08,892.55L952.60,891.71L952.60,891.21L952.08,890.31L951.10,889.87L948.42,889.42L947.37,888.97L946.85,888.08L947.30,887.29L947.50,887.12L948.87,886.73L950.57,886.73L951.95,887.12L952.14,887.29L952.60,888.08" fill="none" stroke="#1e9bff" stroke-width="1.40" stroke-linecap="round" stroke-linejoin="round"/><path d="M954.6,884.4 L970.2,884.4 M958.8,884.4 L958.8,893 M965.4,884.4 L965.4,890.8 Q965.6,893 968.6,892.4" fill="none" stroke="#2828ff" stroke-width="1.5" stroke-linecap="round"/><path d="M974.8,888.8 L982.2,888.8" stroke="#555" stroke-width="1.4" fill="none"/><path d="M994.04,885.89L994.47,884.94L995.35,884.05L996.22,883.60L998.03,883.60L998.79,883.99L999.72,884.94L1000.21,885.95L1000.60,887.12L1000.60,889.48L1000.16,890.82L999.78,891.60L998.79,892.61L998.03,893.00L996.22,893.00L995.35,892.55L994.42,891.60L994.04,890.82L993.60,889.48L993.60,887.12L994.04,885.89M1009.78,883.60L1009.78,892.83L1009.73,892.89L1003.82,883.82L1003.66,883.71M1003.66,883.71L1003.66,893.00M1017.65,889.87L1013.28,889.87M1018.96,893.00L1015.47,883.66M1015.47,883.66L1011.97,893.00M1021.15,883.60L1021.15,883.77M1024.65,892.94L1021.26,883.82L1021.15,883.77M1024.65,892.94L1028.04,883.82L1028.15,883.77M1021.15,883.77L1021.15,893.00M1028.15,893.00L1028.15,883.77M1028.15,883.60L1028.15,883.77M1037.33,883.60L1031.70,883.60L1031.65,883.66L1031.65,888.08M1031.65,888.08L1031.65,892.94L1031.70,893.00L1037.33,893.00M1031.65,888.08L1035.15,888.08M1038.64,883.60L1041.71,883.60M1044.77,883.60L1041.71,883.60M1041.71,893.00L1041.71,883.60M1053.95,881.81L1046.08,896.13M1062.70,893.00L1059.85,888.47L1059.69,888.08M1059.69,888.08L1056.57,888.08M1059.69,888.08L1060.57,888.08L1061.71,887.68L1062.31,887.12L1062.70,886.34L1062.70,885.39L1062.26,884.50L1061.82,884.05L1060.57,883.60L1056.63,883.60L1056.57,883.66L1056.57,888.08M1056.57,888.08L1056.57,893.00M1071.44,883.60L1065.81,883.60L1065.76,883.66L1065.76,888.08M1065.76,888.08L1065.76,892.94L1065.81,893.00L1071.44,893.00M1065.76,888.08L1069.26,888.08M1074.07,888.52L1074.07,883.66L1074.12,883.60L1078.06,883.60L1079.32,884.05L1079.75,884.50L1080.19,885.39L1080.19,886.79L1079.81,887.57L1079.32,888.08L1078.06,888.52L1074.07,888.52M1074.07,888.52L1074.07,893.00M1083.91,892.33L1083.69,892.10L1083.25,892.55L1083.69,893.00L1084.13,892.55L1083.91,892.33M1087.62,884.89L1087.62,883.66L1087.68,883.60L1090.74,883.60L1092.00,884.05L1092.87,884.94L1093.36,885.95L1093.75,887.12L1093.75,889.48L1093.31,890.82L1092.93,891.60L1092.00,892.55L1090.74,893.00L1087.68,893.00L1087.62,892.94L1087.62,884.89M1096.81,885.89L1097.25,884.94L1098.12,884.05L1099.00,883.60L1100.80,883.60L1101.56,883.99L1102.49,884.94L1102.99,885.95L1103.37,887.12L1103.37,889.48L1102.93,890.82L1102.55,891.60L1101.56,892.61L1100.80,893.00L1099.00,893.00L1098.12,892.55L1097.19,891.60L1096.81,890.82L1096.37,889.48L1096.37,887.12L1096.81,885.89M1106.43,883.60L1106.43,883.77M1109.93,892.94L1106.54,883.82L1106.43,883.77M1109.93,892.94L1113.32,883.82L1113.43,883.77M1106.43,883.77L1106.43,893.00M1113.43,893.00L1113.43,883.77M1113.43,883.60L1113.43,883.77M1117.58,892.33L1117.36,892.10L1116.93,892.55L1117.36,893.00L1117.80,892.55L1117.58,892.33" fill="none" stroke="#555555" stroke-width="1.40" stroke-linecap="round" stroke-linejoin="round"/></g><path d="M15.04,856.53L15.17,856.53M15.04,856.53L14.06,856.21L13.34,855.73L13.04,854.98L13.04,854.07L13.34,853.32L13.46,853.15L14.36,852.78L15.80,852.78L16.70,853.15L16.82,853.32L17.12,854.07L17.12,854.98L16.82,855.73L16.14,856.21L15.17,856.53M15.04,856.53L13.72,857.07L13.04,857.92L12.70,858.78L12.70,860.12L13.00,860.87L13.38,861.35L14.36,861.78L15.80,861.78L16.70,861.40L17.16,860.87L17.46,860.12L17.46,858.78L17.12,857.92L16.44,857.07L15.17,856.53M24.60,852.78L24.60,861.62L24.56,861.67L19.97,852.99L19.84,852.89M19.84,852.89L19.84,861.78" fill="none" stroke="#a0a0a0" stroke-width="1.75" stroke-linecap="round" stroke-linejoin="round"/><line x1="28.2" y1="857.2" x2="31" y2="857.2" stroke="#a0a0a0" stroke-width="1.4"/><path d="M7.61,795.20L7.61,786.31L7.56,786.25L6.48,787.54L5.80,787.91M15.25,786.36L14.88,786.20L14.07,786.20L13.03,786.63L12.31,787.91L11.95,789.95L11.95,791.45L12.31,793.49L13.03,794.77L14.07,795.20L14.88,795.20L15.97,794.72L16.65,793.49L17.01,791.45L17.01,789.95L16.65,787.91L15.92,786.63L15.25,786.36M24.60,786.20L24.60,795.04L24.55,795.09L19.67,786.41L19.54,786.31M19.54,786.31L19.54,795.20" fill="none" stroke="#a0a0a0" stroke-width="1.75" stroke-linecap="round" stroke-linejoin="round"/><line x1="28.2" y1="790.6" x2="31" y2="790.6" stroke="#a0a0a0" stroke-width="1.4"/><path d="M7.61,728.62L7.61,719.73L7.56,719.67L6.48,720.96L5.80,721.33M12.31,721.76L12.31,721.33L12.67,720.48L13.03,720.05L13.75,719.62L15.25,719.62L15.88,720.00L16.28,720.48L16.65,721.33L16.65,722.25L16.33,723.00L15.61,724.28L11.99,728.57L12.04,728.62L17.01,728.62M24.60,719.62L24.60,728.46L24.55,728.51L19.67,719.83L19.54,719.73M19.54,719.73L19.54,728.62" fill="none" stroke="#a0a0a0" stroke-width="1.75" stroke-linecap="round" stroke-linejoin="round"/><line x1="28.2" y1="724.0" x2="31" y2="724.0" stroke="#a0a0a0" stroke-width="1.4"/><path d="M7.61,662.04L7.61,653.15L7.56,653.09L6.48,654.38L5.80,654.75M17.37,659.04L15.56,659.04M15.56,659.04L12.04,659.04L11.99,658.99L15.38,653.31L15.56,653.15M15.56,659.04L15.56,653.15M15.56,659.04L15.56,662.04M24.60,653.04L24.60,661.88L24.55,661.93L19.67,653.25L19.54,653.15M19.54,653.15L19.54,662.04" fill="none" stroke="#a0a0a0" stroke-width="1.75" stroke-linecap="round" stroke-linejoin="round"/><line x1="28.2" y1="657.4" x2="31" y2="657.4" stroke="#a0a0a0" stroke-width="1.4"/><path d="M7.61,595.46L7.61,586.57L7.56,586.51L6.48,587.80L5.80,588.17M12.31,592.25L12.31,590.21L12.62,588.34L12.71,588.07L13.39,586.89L14.43,586.46L15.25,586.46L16.19,586.84L16.33,587.00L16.65,587.75M12.31,592.25L12.31,592.57L12.67,594.17L13.39,595.03L14.43,595.46L14.88,595.46L15.92,595.03L16.65,594.17L17.01,592.94L17.01,592.41L16.65,591.17L15.92,590.32L14.88,589.89L14.43,589.89L13.39,590.32L12.67,591.17L12.40,592.19L12.31,592.25M24.60,586.46L24.60,595.30L24.55,595.35L19.67,586.67L19.54,586.57M19.54,586.57L19.54,595.46" fill="none" stroke="#a0a0a0" stroke-width="1.75" stroke-linecap="round" stroke-linejoin="round"/><line x1="28.2" y1="590.9" x2="31" y2="590.9" stroke="#a0a0a0" stroke-width="1.4"/><path d="M7.61,528.88L7.61,519.99L7.56,519.93L6.48,521.22L5.80,521.59M14.43,523.63L14.57,523.63M14.43,523.63L13.39,523.31L12.62,522.83L12.31,522.08L12.31,521.17L12.62,520.42L12.76,520.25L13.71,519.88L15.25,519.88L16.19,520.25L16.33,520.42L16.65,521.17L16.65,522.08L16.33,522.83L15.61,523.31L14.57,523.63M14.43,523.63L13.03,524.17L12.31,525.02L11.95,525.88L11.95,527.22L12.26,527.97L12.67,528.45L13.71,528.88L15.25,528.88L16.19,528.50L16.69,527.97L17.01,527.22L17.01,525.88L16.65,525.02L15.92,524.17L14.57,523.63M24.60,519.88L24.60,528.72L24.55,528.77L19.67,520.09L19.54,519.99M19.54,519.99L19.54,528.88" fill="none" stroke="#a0a0a0" stroke-width="1.75" stroke-linecap="round" stroke-linejoin="round"/><line x1="28.2" y1="524.3" x2="31" y2="524.3" stroke="#a0a0a0" stroke-width="1.4"/><path d="M6.10,455.44L6.10,455.01L6.44,454.16L6.78,453.73L7.47,453.30L8.88,453.30L9.48,453.68L9.87,454.16L10.21,455.01L10.21,455.93L9.91,456.68L9.23,457.96L5.80,462.25L5.84,462.30L10.55,462.30M15.74,453.46L15.39,453.30L14.62,453.30L13.64,453.73L12.95,455.01L12.61,457.05L12.61,458.55L12.95,460.59L13.64,461.87L14.62,462.30L15.39,462.30L16.42,461.82L17.06,460.59L17.41,458.55L17.41,457.05L17.06,455.01L16.38,453.73L15.74,453.46M24.60,453.30L24.60,462.14L24.56,462.19L19.93,453.51L19.80,453.41M19.80,453.41L19.80,462.30" fill="none" stroke="#a0a0a0" stroke-width="1.75" stroke-linecap="round" stroke-linejoin="round"/><line x1="28.2" y1="457.7" x2="31" y2="457.7" stroke="#a0a0a0" stroke-width="1.4"/><path d="M6.10,388.86L6.10,388.43L6.44,387.58L6.78,387.15L7.47,386.72L8.88,386.72L9.48,387.10L9.87,387.58L10.21,388.43L10.21,389.35L9.91,390.10L9.23,391.38L5.80,395.67L5.84,395.72L10.55,395.72M12.95,388.86L12.95,388.43L13.29,387.58L13.64,387.15L14.32,386.72L15.74,386.72L16.33,387.10L16.72,387.58L17.06,388.43L17.06,389.35L16.76,390.10L16.08,391.38L12.65,395.67L12.69,395.72L17.41,395.72M24.60,386.72L24.60,395.56L24.56,395.61L19.93,386.93L19.80,386.83M19.80,386.83L19.80,395.72" fill="none" stroke="#a0a0a0" stroke-width="1.75" stroke-linecap="round" stroke-linejoin="round"/><line x1="28.2" y1="391.1" x2="31" y2="391.1" stroke="#a0a0a0" stroke-width="1.4"/><path d="M6.10,322.28L6.10,321.85L6.44,321.00L6.78,320.57L7.47,320.14L8.88,320.14L9.48,320.52L9.87,321.00L10.21,321.85L10.21,322.77L9.91,323.52L9.23,324.80L5.80,329.09L5.84,329.14L10.55,329.14M17.75,326.14L16.04,326.14M16.04,326.14L12.69,326.14L12.65,326.09L15.86,320.41L16.04,320.25M16.04,326.14L16.04,320.25M16.04,326.14L16.04,329.14M24.60,320.14L24.60,328.98L24.56,329.03L19.93,320.35L19.80,320.25M19.80,320.25L19.80,329.14" fill="none" stroke="#a0a0a0" stroke-width="1.75" stroke-linecap="round" stroke-linejoin="round"/><line x1="28.2" y1="324.5" x2="31" y2="324.5" stroke="#a0a0a0" stroke-width="1.4"/><path d="M6.10,255.70L6.10,255.27L6.44,254.42L6.78,253.99L7.47,253.56L8.88,253.56L9.48,253.94L9.87,254.42L10.21,255.27L10.21,256.19L9.91,256.94L9.23,258.22L5.80,262.51L5.84,262.56L10.55,262.56M12.95,259.35L12.95,257.31L13.25,255.44L13.34,255.17L13.98,253.99L14.96,253.56L15.74,253.56L16.63,253.94L16.76,254.10L17.06,254.85M12.95,259.35L12.95,259.67L13.29,261.27L13.98,262.13L14.96,262.56L15.39,262.56L16.38,262.13L17.06,261.27L17.41,260.04L17.41,259.51L17.06,258.27L16.38,257.42L15.39,256.99L14.96,256.99L13.98,257.42L13.29,258.27L13.04,259.29L12.95,259.35M24.60,253.56L24.60,262.40L24.56,262.45L19.93,253.77L19.80,253.67M19.80,253.67L19.80,262.56" fill="none" stroke="#a0a0a0" stroke-width="1.75" stroke-linecap="round" stroke-linejoin="round"/><line x1="28.2" y1="258.0" x2="31" y2="258.0" stroke="#a0a0a0" stroke-width="1.4"/><path d="M6.10,189.12L6.10,188.69L6.44,187.84L6.78,187.41L7.47,186.98L8.88,186.98L9.48,187.35L9.87,187.84L10.21,188.69L10.21,189.60L9.91,190.35L9.23,191.64L5.80,195.93L5.84,195.98L10.55,195.98M14.96,190.73L15.09,190.73M14.96,190.73L13.98,190.41L13.25,189.93L12.95,189.18L12.95,188.27L13.25,187.52L13.38,187.35L14.28,186.98L15.74,186.98L16.63,187.35L16.76,187.52L17.06,188.27L17.06,189.18L16.76,189.93L16.08,190.41L15.09,190.73M14.96,190.73L13.64,191.27L12.95,192.12L12.61,192.98L12.61,194.32L12.91,195.07L13.29,195.55L14.28,195.98L15.74,195.98L16.63,195.60L17.11,195.07L17.41,194.32L17.41,192.98L17.06,192.12L16.38,191.27L15.09,190.73M24.60,186.98L24.60,195.82L24.56,195.87L19.93,187.19L19.80,187.09M19.80,187.09L19.80,195.98" fill="none" stroke="#a0a0a0" stroke-width="1.75" stroke-linecap="round" stroke-linejoin="round"/><line x1="28.2" y1="191.4" x2="31" y2="191.4" stroke="#a0a0a0" stroke-width="1.4"/><path d="M6.48,120.40L10.16,120.40L10.20,120.45L8.24,123.78L8.28,123.83L9.26,123.83L9.86,124.20L10.24,124.69L10.59,125.92L10.59,126.88L10.24,128.11L9.56,128.97L8.58,129.40L7.47,129.40L6.57,129.03L6.10,128.49L5.80,127.69M15.76,120.56L15.41,120.40L14.64,120.40L13.66,120.83L12.98,122.11L12.64,124.15L12.64,125.65L12.98,127.69L13.66,128.97L14.64,129.40L15.41,129.40L16.44,128.92L17.08,127.69L17.42,125.65L17.42,124.15L17.08,122.11L16.40,120.83L15.76,120.56M24.60,120.40L24.60,129.24L24.56,129.29L19.94,120.61L19.81,120.51M19.81,120.51L19.81,129.40" fill="none" stroke="#a0a0a0" stroke-width="1.75" stroke-linecap="round" stroke-linejoin="round"/><line x1="28.2" y1="124.8" x2="31" y2="124.8" stroke="#a0a0a0" stroke-width="1.4"/><path d="M76.84,917.11L77.18,917.97L78.15,918.40L78.92,918.40L79.89,917.97L80.53,916.79L80.61,916.52L80.91,914.65L80.91,912.67L80.86,912.61M80.86,912.61L80.91,912.35L80.57,910.69L79.89,909.83L78.92,909.40L78.49,909.40L77.52,909.83L76.84,910.69L76.50,911.92L76.50,912.45L76.84,913.69L77.52,914.54L78.49,914.97L78.92,914.97L79.89,914.54L80.57,913.69L80.86,912.61M86.37,909.56L86.03,909.40L85.27,909.40L84.30,909.83L83.62,911.11L83.28,913.15L83.28,914.65L83.62,916.69L84.30,917.97L85.27,918.40L86.03,918.40L87.05,917.92L87.69,916.69L88.03,914.65L88.03,913.15L87.69,911.11L87.01,909.83L86.37,909.56M89.72,909.40L91.42,918.29M91.42,918.29L93.11,909.51M93.11,909.51L94.81,918.29M96.50,909.40L94.81,918.29" fill="none" stroke="#a0a0a0" stroke-width="1.75" stroke-linecap="round" stroke-linejoin="round"/><line x1="86.5" y1="905.3" x2="86.5" y2="907.4" stroke="#a0a0a0" stroke-width="1.4"/><path d="M217.63,913.15L217.76,913.15M217.63,913.15L216.66,912.83L215.94,912.35L215.64,911.60L215.64,910.69L215.94,909.94L216.06,909.77L216.95,909.40L218.39,909.40L219.28,909.77L219.41,909.94L219.71,910.69L219.71,911.60L219.41,912.35L218.73,912.83L217.76,913.15M217.63,913.15L216.32,913.69L215.64,914.54L215.30,915.40L215.30,916.74L215.60,917.49L215.98,917.97L216.95,918.40L218.39,918.40L219.28,918.02L219.75,917.49L220.05,916.74L220.05,915.40L219.71,914.54L219.03,913.69L217.76,913.15M222.08,916.69L222.38,917.49L222.76,917.97L223.73,918.40L224.83,918.40L225.72,918.02L226.49,917.11L226.83,915.88L226.83,914.92L226.49,913.69L225.81,912.83L224.83,912.40L223.73,912.40L222.84,912.77L222.46,913.20L222.42,913.15L222.72,909.67L222.80,909.40L226.15,909.40M228.52,909.40L230.22,918.29M230.22,918.29L231.91,909.51M231.91,909.51L233.61,918.29M235.30,909.40L233.61,918.29" fill="none" stroke="#a0a0a0" stroke-width="1.75" stroke-linecap="round" stroke-linejoin="round"/><line x1="225.3" y1="905.3" x2="225.3" y2="907.4" stroke="#a0a0a0" stroke-width="1.4"/><path d="M356.43,913.15L356.56,913.15M356.43,913.15L355.46,912.83L354.74,912.35L354.44,911.60L354.44,910.69L354.74,909.94L354.86,909.77L355.75,909.40L357.19,909.40L358.08,909.77L358.21,909.94L358.51,910.69L358.51,911.60L358.21,912.35L357.53,912.83L356.56,913.15M356.43,913.15L355.12,913.69L354.44,914.54L354.10,915.40L354.10,916.74L354.40,917.49L354.78,917.97L355.75,918.40L357.19,918.40L358.08,918.02L358.55,917.49L358.85,916.74L358.85,915.40L358.51,914.54L357.83,913.69L356.56,913.15M363.97,909.56L363.63,909.40L362.87,909.40L361.90,909.83L361.22,911.11L360.88,913.15L360.88,914.65L361.22,916.69L361.90,917.97L362.87,918.40L363.63,918.40L364.65,917.92L365.29,916.69L365.63,914.65L365.63,913.15L365.29,911.11L364.61,909.83L363.97,909.56M367.32,909.40L369.02,918.29M369.02,918.29L370.71,909.51M370.71,909.51L372.41,918.29M374.10,909.40L372.41,918.29" fill="none" stroke="#a0a0a0" stroke-width="1.75" stroke-linecap="round" stroke-linejoin="round"/><line x1="364.1" y1="905.3" x2="364.1" y2="907.4" stroke="#a0a0a0" stroke-width="1.4"/><path d="M492.90,909.40L497.60,909.40L497.65,909.45L494.26,918.40M499.68,916.69L499.98,917.49L500.36,917.97L501.33,918.40L502.43,918.40L503.32,918.02L504.09,917.11L504.43,915.88L504.43,914.92L504.09,913.69L503.41,912.83L502.43,912.40L501.33,912.40L500.44,912.77L500.06,913.20L500.02,913.15L500.32,909.67L500.40,909.40L503.75,909.40M506.12,909.40L507.82,918.29M507.82,918.29L509.51,909.51M509.51,909.51L511.21,918.29M512.90,909.40L511.21,918.29" fill="none" stroke="#a0a0a0" stroke-width="1.75" stroke-linecap="round" stroke-linejoin="round"/><line x1="502.9" y1="905.3" x2="502.9" y2="907.4" stroke="#a0a0a0" stroke-width="1.4"/><path d="M631.70,909.40L636.40,909.40L636.45,909.45L633.06,918.40M641.57,909.56L641.23,909.40L640.47,909.40L639.50,909.83L638.82,911.11L638.48,913.15L638.48,914.65L638.82,916.69L639.50,917.97L640.47,918.40L641.23,918.40L642.25,917.92L642.89,916.69L643.23,914.65L643.23,913.15L642.89,911.11L642.21,909.83L641.57,909.56M644.92,909.40L646.62,918.29M646.62,918.29L648.31,909.51M648.31,909.51L650.01,918.29M651.70,909.40L650.01,918.29" fill="none" stroke="#a0a0a0" stroke-width="1.75" stroke-linecap="round" stroke-linejoin="round"/><line x1="641.7" y1="905.3" x2="641.7" y2="907.4" stroke="#a0a0a0" stroke-width="1.4"/><path d="M770.50,915.19L770.50,913.15L770.80,911.27L770.89,911.01L771.53,909.83L772.53,909.40L773.30,909.40L774.21,909.77L774.34,909.94L774.64,910.69M770.50,915.19L770.50,915.51L770.84,917.11L771.53,917.97L772.53,918.40L772.96,918.40L773.95,917.97L774.64,917.11L774.98,915.88L774.98,915.35L774.64,914.11L773.95,913.26L772.96,912.83L772.53,912.83L771.53,913.26L770.84,914.11L770.59,915.13L770.50,915.19M777.05,916.69L777.35,917.49L777.74,917.97L778.73,918.40L779.85,918.40L780.76,918.02L781.53,917.11L781.88,915.88L781.88,914.92L781.53,913.69L780.84,912.83L779.85,912.40L778.73,912.40L777.83,912.77L777.44,913.20L777.40,913.15L777.70,909.67L777.78,909.40L781.19,909.40M783.60,909.40L785.33,918.29M785.33,918.29L787.05,909.51M787.05,909.51L788.78,918.29M790.50,909.40L788.78,918.29" fill="none" stroke="#a0a0a0" stroke-width="1.75" stroke-linecap="round" stroke-linejoin="round"/><line x1="780.5" y1="905.3" x2="780.5" y2="907.4" stroke="#a0a0a0" stroke-width="1.4"/><path d="M909.30,915.19L909.30,913.15L909.60,911.27L909.69,911.01L910.33,909.83L911.33,909.40L912.10,909.40L913.01,909.77L913.14,909.94L913.44,910.69M909.30,915.19L909.30,915.51L909.64,917.11L910.33,917.97L911.33,918.40L911.76,918.40L912.75,917.97L913.44,917.11L913.78,915.88L913.78,915.35L913.44,914.11L912.75,913.26L911.76,912.83L911.33,912.83L910.33,913.26L909.64,914.11L909.39,915.13L909.30,915.19M919.00,909.56L918.65,909.40L917.88,909.40L916.89,909.83L916.20,911.11L915.85,913.15L915.85,914.65L916.20,916.69L916.89,917.97L917.88,918.40L918.65,918.40L919.69,917.92L920.33,916.69L920.68,914.65L920.68,913.15L920.33,911.11L919.64,909.83L919.00,909.56M922.40,909.40L924.13,918.29M924.13,918.29L925.85,909.51M925.85,909.51L927.58,918.29M929.30,909.40L927.58,918.29" fill="none" stroke="#a0a0a0" stroke-width="1.75" stroke-linecap="round" stroke-linejoin="round"/><line x1="919.3" y1="905.3" x2="919.3" y2="907.4" stroke="#a0a0a0" stroke-width="1.4"/><path d="M1048.10,916.69L1048.40,917.49L1048.78,917.97L1049.75,918.40L1050.85,918.40L1051.74,918.02L1052.51,917.11L1052.85,915.88L1052.85,914.92L1052.51,913.69L1051.83,912.83L1050.85,912.40L1049.75,912.40L1048.86,912.77L1048.48,913.20L1048.44,913.15L1048.74,909.67L1048.82,909.40L1052.17,909.40M1054.88,916.69L1055.18,917.49L1055.56,917.97L1056.53,918.40L1057.63,918.40L1058.52,918.02L1059.29,917.11L1059.63,915.88L1059.63,914.92L1059.29,913.69L1058.61,912.83L1057.63,912.40L1056.53,912.40L1055.64,912.77L1055.26,913.20L1055.22,913.15L1055.52,909.67L1055.60,909.40L1058.95,909.40M1061.32,909.40L1063.02,918.29M1063.02,918.29L1064.71,909.51M1064.71,909.51L1066.41,918.29M1068.10,909.40L1066.41,918.29" fill="none" stroke="#a0a0a0" stroke-width="1.75" stroke-linecap="round" stroke-linejoin="round"/><line x1="1058.1" y1="905.3" x2="1058.1" y2="907.4" stroke="#a0a0a0" stroke-width="1.4"/><rect x="1144.9" y="98.9" width="17.1" height="804.2" fill="#ffffff" stroke="#d6d6d6" stroke-width="1.6"/><rect x="1145.9" y="875.37" width="15.4" height="27.73" fill="#5A0000"/><rect x="1145.9" y="847.64" width="15.4" height="27.73" fill="#A00000"/><rect x="1145.9" y="819.91" width="15.4" height="27.73" fill="#D00000"/><rect x="1145.9" y="792.18" width="15.4" height="27.73" fill="#FF0000"/><rect x="1145.9" y="764.45" width="15.4" height="27.73" fill="#FF2020"/><rect x="1145.9" y="736.72" width="15.4" height="27.73" fill="#FF4040"/><rect x="1145.9" y="708.99" width="15.4" height="27.73" fill="#FF5C5C"/><rect x="1145.9" y="681.26" width="15.4" height="27.73" fill="#FF7070"/><rect x="1145.9" y="653.53" width="15.4" height="27.73" fill="#FF8888"/><rect x="1145.9" y="625.80" width="15.4" height="27.73" fill="#FFA8A8"/><rect x="1145.9" y="598.07" width="15.4" height="27.73" fill="#FFB8B8"/><rect x="1145.9" y="570.34" width="15.4" height="27.73" fill="#FFD0D0"/><rect x="1145.9" y="542.61" width="15.4" height="27.73" fill="#FFE4E4"/><rect x="1145.9" y="514.88" width="15.4" height="27.73" fill="#FFF0F0"/><rect x="1145.9" y="487.15" width="15.4" height="27.73" fill="#FFFFFF"/><rect x="1145.9" y="459.42" width="15.4" height="27.73" fill="#F0F0FF"/><rect x="1145.9" y="431.69" width="15.4" height="27.73" fill="#E4E4FF"/><rect x="1145.9" y="403.96" width="15.4" height="27.73" fill="#D0D0FF"/><rect x="1145.9" y="376.23" width="15.4" height="27.73" fill="#B8B8FF"/><rect x="1145.9" y="348.50" width="15.4" height="27.73" fill="#A8A8FF"/><rect x="1145.9" y="320.77" width="15.4" height="27.73" fill="#8888FF"/><rect x="1145.9" y="293.04" width="15.4" height="27.73" fill="#7070FF"/><rect x="1145.9" y="265.31" width="15.4" height="27.73" fill="#5C5CFF"/><rect x="1145.9" y="237.58" width="15.4" height="27.73" fill="#4040FF"/><rect x="1145.9" y="209.85" width="15.4" height="27.73" fill="#2020FF"/><rect x="1145.9" y="182.12" width="15.4" height="27.73" fill="#0000FF"/><rect x="1145.9" y="154.39" width="15.4" height="27.73" fill="#0000D0"/><rect x="1145.9" y="126.66" width="15.4" height="27.73" fill="#0000A0"/><rect x="1145.9" y="100.90" width="15.4" height="25.76" fill="#00005A"/><rect x="1145.9" y="874.72" width="15.4" height="1.3" fill="#ffffff" fill-opacity="0.45"/><rect x="1145.9" y="846.99" width="15.4" height="1.3" fill="#ffffff" fill-opacity="0.45"/><rect x="1145.9" y="819.26" width="15.4" height="1.3" fill="#ffffff" fill-opacity="0.45"/><rect x="1145.9" y="791.53" width="15.4" height="1.3" fill="#ffffff" fill-opacity="0.45"/><rect x="1145.9" y="763.80" width="15.4" height="1.3" fill="#ffffff" fill-opacity="0.45"/><rect x="1145.9" y="736.07" width="15.4" height="1.3" fill="#ffffff" fill-opacity="0.45"/><rect x="1145.9" y="708.34" width="15.4" height="1.3" fill="#ffffff" fill-opacity="0.45"/><rect x="1145.9" y="680.61" width="15.4" height="1.3" fill="#ffffff" fill-opacity="0.45"/><rect x="1145.9" y="652.88" width="15.4" height="1.3" fill="#ffffff" fill-opacity="0.45"/><rect x="1145.9" y="625.15" width="15.4" height="1.3" fill="#ffffff" fill-opacity="0.45"/><rect x="1145.9" y="597.42" width="15.4" height="1.3" fill="#ffffff" fill-opacity="0.45"/><rect x="1145.9" y="569.69" width="15.4" height="1.3" fill="#ffffff" fill-opacity="0.45"/><rect x="1145.9" y="541.96" width="15.4" height="1.3" fill="#ffffff" fill-opacity="0.45"/><rect x="1145.9" y="514.23" width="15.4" height="1.3" fill="#ffffff" fill-opacity="0.45"/><rect x="1145.9" y="486.50" width="15.4" height="1.3" fill="#ffffff" fill-opacity="0.45"/><rect x="1145.9" y="458.77" width="15.4" height="1.3" fill="#ffffff" fill-opacity="0.45"/><rect x="1145.9" y="431.04" width="15.4" height="1.3" fill="#ffffff" fill-opacity="0.45"/><rect x="1145.9" y="403.31" width="15.4" height="1.3" fill="#ffffff" fill-opacity="0.45"/><rect x="1145.9" y="375.58" width="15.4" height="1.3" fill="#ffffff" fill-opacity="0.45"/><rect x="1145.9" y="347.85" width="15.4" height="1.3" fill="#ffffff" fill-opacity="0.45"/><rect x="1145.9" y="320.12" width="15.4" height="1.3" fill="#ffffff" fill-opacity="0.45"/><rect x="1145.9" y="292.39" width="15.4" height="1.3" fill="#ffffff" fill-opacity="0.45"/><rect x="1145.9" y="264.66" width="15.4" height="1.3" fill="#ffffff" fill-opacity="0.45"/><rect x="1145.9" y="236.93" width="15.4" height="1.3" fill="#ffffff" fill-opacity="0.45"/><rect x="1145.9" y="209.20" width="15.4" height="1.3" fill="#ffffff" fill-opacity="0.45"/><rect x="1145.9" y="181.47" width="15.4" height="1.3" fill="#ffffff" fill-opacity="0.45"/><rect x="1145.9" y="153.74" width="15.4" height="1.3" fill="#ffffff" fill-opacity="0.45"/><rect x="1145.9" y="126.01" width="15.4" height="1.3" fill="#ffffff" fill-opacity="0.45"/><path d="M1169.67,874.69L1169.82,874.69M1169.67,874.69L1168.56,874.35L1167.73,873.85L1167.39,873.06L1167.39,872.11L1167.73,871.33L1167.88,871.16L1168.90,870.77L1170.55,870.77L1171.57,871.16L1171.72,871.33L1172.06,872.11L1172.06,873.06L1171.72,873.85L1170.94,874.35L1169.82,874.69M1169.67,874.69L1168.17,875.25L1167.39,876.14L1167.00,877.04L1167.00,878.44L1167.34,879.22L1167.78,879.72L1168.90,880.17L1170.55,880.17L1171.57,879.78L1172.10,879.22L1172.44,878.44L1172.44,877.04L1172.06,876.14L1171.28,875.25L1169.82,874.69M1178.33,870.94L1177.94,870.77L1177.06,870.77L1175.94,871.22L1175.17,872.56L1174.78,874.69L1174.78,876.25L1175.17,878.38L1175.94,879.72L1177.06,880.17L1177.94,880.17L1179.10,879.67L1179.83,878.38L1180.22,876.25L1180.22,874.69L1179.83,872.56L1179.06,871.22L1178.33,870.94M1186.10,870.94L1185.72,870.77L1184.84,870.77L1183.72,871.22L1182.94,872.56L1182.56,874.69L1182.56,876.25L1182.94,878.38L1183.72,879.72L1184.84,880.17L1185.72,880.17L1186.88,879.67L1187.61,878.38L1188.00,876.25L1188.00,874.69L1187.61,872.56L1186.83,871.22L1186.10,870.94" fill="none" stroke="#1a1a1a" stroke-width="1.25" stroke-linecap="round" stroke-linejoin="round"/><path d="M1169.67,846.96L1169.82,846.96M1169.67,846.96L1168.56,846.62L1167.73,846.12L1167.39,845.33L1167.39,844.38L1167.73,843.60L1167.88,843.43L1168.90,843.04L1170.55,843.04L1171.57,843.43L1171.72,843.60L1172.06,844.38L1172.06,845.33L1171.72,846.12L1170.94,846.62L1169.82,846.96M1169.67,846.96L1168.17,847.52L1167.39,848.41L1167.00,849.31L1167.00,850.71L1167.34,851.49L1167.78,851.99L1168.90,852.44L1170.55,852.44L1171.57,852.05L1172.10,851.49L1172.44,850.71L1172.44,849.31L1172.06,848.41L1171.28,847.52L1169.82,846.96M1174.78,850.65L1175.12,851.49L1175.56,851.99L1176.67,852.44L1177.94,852.44L1178.96,852.05L1179.83,851.10L1180.22,849.81L1180.22,848.80L1179.83,847.52L1179.06,846.62L1177.94,846.17L1176.67,846.17L1175.65,846.56L1175.22,847.01L1175.17,846.96L1175.51,843.32L1175.60,843.04L1179.44,843.04M1186.10,843.21L1185.72,843.04L1184.84,843.04L1183.72,843.49L1182.94,844.83L1182.56,846.96L1182.56,848.52L1182.94,850.65L1183.72,851.99L1184.84,852.44L1185.72,852.44L1186.88,851.94L1187.61,850.65L1188.00,848.52L1188.00,846.96L1187.61,844.83L1186.83,843.49L1186.10,843.21" fill="none" stroke="#1a1a1a" stroke-width="1.25" stroke-linecap="round" stroke-linejoin="round"/><path d="M1167.39,823.37L1167.78,824.26L1168.90,824.71L1169.77,824.71L1170.89,824.26L1171.62,823.03L1171.72,822.75L1172.06,820.79L1172.06,818.72L1172.01,818.67M1172.01,818.67L1172.06,818.39L1171.67,816.65L1170.89,815.76L1169.77,815.31L1169.28,815.31L1168.17,815.76L1167.39,816.65L1167.00,817.94L1167.00,818.50L1167.39,819.79L1168.17,820.68L1169.28,821.13L1169.77,821.13L1170.89,820.68L1171.67,819.79L1172.01,818.67M1178.33,815.48L1177.94,815.31L1177.06,815.31L1175.94,815.76L1175.17,817.10L1174.78,819.23L1174.78,820.79L1175.17,822.92L1175.94,824.26L1177.06,824.71L1177.94,824.71L1179.10,824.21L1179.83,822.92L1180.22,820.79L1180.22,819.23L1179.83,817.10L1179.06,815.76L1178.33,815.48M1186.10,815.48L1185.72,815.31L1184.84,815.31L1183.72,815.76L1182.94,817.10L1182.56,819.23L1182.56,820.79L1182.94,822.92L1183.72,824.26L1184.84,824.71L1185.72,824.71L1186.88,824.21L1187.61,822.92L1188.00,820.79L1188.00,819.23L1187.61,817.10L1186.83,815.76L1186.10,815.48" fill="none" stroke="#1a1a1a" stroke-width="1.25" stroke-linecap="round" stroke-linejoin="round"/><path d="M1167.39,795.64L1167.78,796.53L1168.90,796.98L1169.77,796.98L1170.89,796.53L1171.62,795.30L1171.72,795.02L1172.06,793.06L1172.06,790.99L1172.01,790.94M1172.01,790.94L1172.06,790.66L1171.67,788.92L1170.89,788.03L1169.77,787.58L1169.28,787.58L1168.17,788.03L1167.39,788.92L1167.00,790.21L1167.00,790.77L1167.39,792.06L1168.17,792.95L1169.28,793.40L1169.77,793.40L1170.89,792.95L1171.67,792.06L1172.01,790.94M1174.78,795.19L1175.12,796.03L1175.56,796.53L1176.67,796.98L1177.94,796.98L1178.96,796.59L1179.83,795.64L1180.22,794.35L1180.22,793.34L1179.83,792.06L1179.06,791.16L1177.94,790.71L1176.67,790.71L1175.65,791.11L1175.22,791.55L1175.17,791.50L1175.51,787.86L1175.60,787.58L1179.44,787.58M1186.10,787.75L1185.72,787.58L1184.84,787.58L1183.72,788.03L1182.94,789.37L1182.56,791.50L1182.56,793.06L1182.94,795.19L1183.72,796.53L1184.84,796.98L1185.72,796.98L1186.88,796.48L1187.61,795.19L1188.00,793.06L1188.00,791.50L1187.61,789.37L1186.83,788.03L1186.10,787.75" fill="none" stroke="#1a1a1a" stroke-width="1.25" stroke-linecap="round" stroke-linejoin="round"/><path d="M1167.39,767.91L1167.78,768.80L1168.90,769.25L1169.77,769.25L1170.89,768.80L1171.62,767.57L1171.72,767.29L1172.06,765.33L1172.06,763.26L1172.01,763.21M1172.01,763.21L1172.06,762.93L1171.67,761.19L1170.89,760.30L1169.77,759.85L1169.28,759.85L1168.17,760.30L1167.39,761.19L1167.00,762.48L1167.00,763.04L1167.39,764.33L1168.17,765.22L1169.28,765.67L1169.77,765.67L1170.89,765.22L1171.67,764.33L1172.01,763.21M1174.78,759.85L1180.17,759.85L1180.22,759.91L1176.33,769.25M1186.10,760.02L1185.72,759.85L1184.84,759.85L1183.72,760.30L1182.94,761.64L1182.56,763.77L1182.56,765.33L1182.94,767.46L1183.72,768.80L1184.84,769.25L1185.72,769.25L1186.88,768.75L1187.61,767.46L1188.00,765.33L1188.00,763.77L1187.61,761.64L1186.83,760.30L1186.10,760.02" fill="none" stroke="#1a1a1a" stroke-width="1.25" stroke-linecap="round" stroke-linejoin="round"/><path d="M1167.39,740.18L1167.78,741.07L1168.90,741.52L1169.77,741.52L1170.89,741.07L1171.62,739.84L1171.72,739.56L1172.06,737.60L1172.06,735.53L1172.01,735.48M1172.01,735.48L1172.06,735.20L1171.67,733.46L1170.89,732.57L1169.77,732.12L1169.28,732.12L1168.17,732.57L1167.39,733.46L1167.00,734.75L1167.00,735.31L1167.39,736.60L1168.17,737.49L1169.28,737.94L1169.77,737.94L1170.89,737.49L1171.67,736.60L1172.01,735.48M1175.17,740.18L1175.56,741.07L1176.67,741.52L1177.55,741.52L1178.67,741.07L1179.40,739.84L1179.49,739.56L1179.83,737.60L1179.83,735.53L1179.78,735.48M1179.78,735.48L1179.83,735.20L1179.44,733.46L1178.67,732.57L1177.55,732.12L1177.06,732.12L1175.94,732.57L1175.17,733.46L1174.78,734.75L1174.78,735.31L1175.17,736.60L1175.94,737.49L1177.06,737.94L1177.55,737.94L1178.67,737.49L1179.44,736.60L1179.78,735.48M1186.10,732.29L1185.72,732.12L1184.84,732.12L1183.72,732.57L1182.94,733.91L1182.56,736.04L1182.56,737.60L1182.94,739.73L1183.72,741.07L1184.84,741.52L1185.72,741.52L1186.88,741.02L1187.61,739.73L1188.00,737.60L1188.00,736.04L1187.61,733.91L1186.83,732.57L1186.10,732.29" fill="none" stroke="#1a1a1a" stroke-width="1.25" stroke-linecap="round" stroke-linejoin="round"/><path d="M1169.59,713.79L1169.59,704.50L1169.54,704.45L1168.34,705.79L1167.60,706.18M1177.98,704.56L1177.58,704.39L1176.69,704.39L1175.54,704.84L1174.75,706.18L1174.35,708.31L1174.35,709.87L1174.75,712.00L1175.54,713.34L1176.69,713.79L1177.58,713.79L1178.77,713.29L1179.52,712.00L1179.91,709.87L1179.91,708.31L1179.52,706.18L1178.72,704.84L1177.98,704.56M1185.92,704.56L1185.52,704.39L1184.63,704.39L1183.49,704.84L1182.69,706.18L1182.30,708.31L1182.30,709.87L1182.69,712.00L1183.49,713.34L1184.63,713.79L1185.52,713.79L1186.71,713.29L1187.46,712.00L1187.86,709.87L1187.86,708.31L1187.46,706.18L1186.66,704.84L1185.92,704.56M1193.86,704.56L1193.47,704.39L1192.57,704.39L1191.43,704.84L1190.64,706.18L1190.24,708.31L1190.24,709.87L1190.64,712.00L1191.43,713.34L1192.57,713.79L1193.47,713.79L1194.66,713.29L1195.40,712.00L1195.80,709.87L1195.80,708.31L1195.40,706.18L1194.61,704.84L1193.86,704.56" fill="none" stroke="#1a1a1a" stroke-width="1.25" stroke-linecap="round" stroke-linejoin="round"/><path d="M1169.59,686.06L1169.59,676.77L1169.54,676.72L1168.34,678.06L1167.60,678.45M1177.98,676.83L1177.58,676.66L1176.69,676.66L1175.54,677.11L1174.75,678.45L1174.35,680.58L1174.35,682.14L1174.75,684.27L1175.54,685.61L1176.69,686.06L1177.58,686.06L1178.77,685.56L1179.52,684.27L1179.91,682.14L1179.91,680.58L1179.52,678.45L1178.72,677.11L1177.98,676.83M1185.92,676.83L1185.52,676.66L1184.63,676.66L1183.49,677.11L1182.69,678.45L1182.30,680.58L1182.30,682.14L1182.69,684.27L1183.49,685.61L1184.63,686.06L1185.52,686.06L1186.71,685.56L1187.46,684.27L1187.86,682.14L1187.86,680.58L1187.46,678.45L1186.66,677.11L1185.92,676.83M1190.64,678.90L1190.64,678.45L1191.03,677.56L1191.43,677.11L1192.23,676.66L1193.86,676.66L1194.56,677.05L1195.01,677.56L1195.40,678.45L1195.40,679.40L1195.06,680.18L1194.26,681.53L1190.29,686.00L1190.34,686.06L1195.80,686.06" fill="none" stroke="#1a1a1a" stroke-width="1.25" stroke-linecap="round" stroke-linejoin="round"/><path d="M1169.56,658.33L1169.56,649.04L1169.51,648.99L1168.33,650.33L1167.60,650.72M1177.83,649.10L1177.44,648.93L1176.56,648.93L1175.43,649.38L1174.65,650.72L1174.26,652.85L1174.26,654.41L1174.65,656.54L1175.43,657.88L1176.56,658.33L1177.44,658.33L1178.62,657.83L1179.35,656.54L1179.74,654.41L1179.74,652.85L1179.35,650.72L1178.57,649.38L1177.83,649.10M1185.67,649.10L1185.27,648.93L1184.39,648.93L1183.27,649.38L1182.48,650.72L1182.09,652.85L1182.09,654.41L1182.48,656.54L1183.27,657.88L1184.39,658.33L1185.27,658.33L1186.45,657.83L1187.18,656.54L1187.58,654.41L1187.58,652.85L1187.18,650.72L1186.40,649.38L1185.67,649.10M1195.80,655.20L1193.84,655.20M1193.84,655.20L1190.02,655.20L1189.97,655.14L1193.65,649.21L1193.84,649.04M1193.84,655.20L1193.84,649.04M1193.84,655.20L1193.84,658.33" fill="none" stroke="#1a1a1a" stroke-width="1.25" stroke-linecap="round" stroke-linejoin="round"/><path d="M1169.59,630.60L1169.59,621.31L1169.54,621.26L1168.34,622.60L1167.60,622.99M1177.98,621.37L1177.58,621.20L1176.69,621.20L1175.54,621.65L1174.75,622.99L1174.35,625.12L1174.35,626.68L1174.75,628.81L1175.54,630.15L1176.69,630.60L1177.58,630.60L1178.77,630.10L1179.52,628.81L1179.91,626.68L1179.91,625.12L1179.52,622.99L1178.72,621.65L1177.98,621.37M1185.92,621.37L1185.52,621.20L1184.63,621.20L1183.49,621.65L1182.69,622.99L1182.30,625.12L1182.30,626.68L1182.69,628.81L1183.49,630.15L1184.63,630.60L1185.52,630.60L1186.71,630.10L1187.46,628.81L1187.86,626.68L1187.86,625.12L1187.46,622.99L1186.66,621.65L1185.92,621.37M1190.64,627.24L1190.64,625.12L1190.98,623.16L1191.08,622.88L1191.83,621.65L1192.97,621.20L1193.86,621.20L1194.91,621.59L1195.06,621.76L1195.40,622.54M1190.64,627.24L1190.64,627.58L1191.03,629.26L1191.83,630.15L1192.97,630.60L1193.47,630.60L1194.61,630.15L1195.40,629.26L1195.80,627.97L1195.80,627.41L1195.40,626.12L1194.61,625.23L1193.47,624.78L1192.97,624.78L1191.83,625.23L1191.03,626.12L1190.74,627.19L1190.64,627.24" fill="none" stroke="#1a1a1a" stroke-width="1.25" stroke-linecap="round" stroke-linejoin="round"/><path d="M1169.59,602.87L1169.59,593.58L1169.54,593.53L1168.34,594.87L1167.60,595.26M1177.98,593.64L1177.58,593.47L1176.69,593.47L1175.54,593.92L1174.75,595.26L1174.35,597.39L1174.35,598.95L1174.75,601.08L1175.54,602.42L1176.69,602.87L1177.58,602.87L1178.77,602.37L1179.52,601.08L1179.91,598.95L1179.91,597.39L1179.52,595.26L1178.72,593.92L1177.98,593.64M1185.92,593.64L1185.52,593.47L1184.63,593.47L1183.49,593.92L1182.69,595.26L1182.30,597.39L1182.30,598.95L1182.69,601.08L1183.49,602.42L1184.63,602.87L1185.52,602.87L1186.71,602.37L1187.46,601.08L1187.86,598.95L1187.86,597.39L1187.46,595.26L1186.66,593.92L1185.92,593.64M1192.97,597.39L1193.12,597.39M1192.97,597.39L1191.83,597.05L1190.98,596.55L1190.64,595.76L1190.64,594.81L1190.98,594.03L1191.13,593.86L1192.18,593.47L1193.86,593.47L1194.91,593.86L1195.06,594.03L1195.40,594.81L1195.40,595.76L1195.06,596.55L1194.26,597.05L1193.12,597.39M1192.97,597.39L1191.43,597.95L1190.64,598.84L1190.24,599.74L1190.24,601.14L1190.59,601.92L1191.03,602.42L1192.18,602.87L1193.86,602.87L1194.91,602.48L1195.45,601.92L1195.80,601.14L1195.80,599.74L1195.40,598.84L1194.61,597.95L1193.12,597.39" fill="none" stroke="#1a1a1a" stroke-width="1.25" stroke-linecap="round" stroke-linejoin="round"/><path d="M1169.59,575.14L1169.59,565.85L1169.54,565.80L1168.34,567.14L1167.60,567.53M1177.98,565.91L1177.58,565.74L1176.69,565.74L1175.54,566.19L1174.75,567.53L1174.35,569.66L1174.35,571.22L1174.75,573.35L1175.54,574.69L1176.69,575.14L1177.58,575.14L1178.77,574.64L1179.52,573.35L1179.91,571.22L1179.91,569.66L1179.52,567.53L1178.72,566.19L1177.98,565.91M1185.47,575.14L1185.47,565.85L1185.42,565.80L1184.23,567.14L1183.49,567.53M1193.86,565.91L1193.47,565.74L1192.57,565.74L1191.43,566.19L1190.64,567.53L1190.24,569.66L1190.24,571.22L1190.64,573.35L1191.43,574.69L1192.57,575.14L1193.47,575.14L1194.66,574.64L1195.40,573.35L1195.80,571.22L1195.80,569.66L1195.40,567.53L1194.61,566.19L1193.86,565.91" fill="none" stroke="#1a1a1a" stroke-width="1.25" stroke-linecap="round" stroke-linejoin="round"/><path d="M1169.59,547.41L1169.59,538.12L1169.54,538.07L1168.34,539.41L1167.60,539.80M1177.98,538.18L1177.58,538.01L1176.69,538.01L1175.54,538.46L1174.75,539.80L1174.35,541.93L1174.35,543.49L1174.75,545.62L1175.54,546.96L1176.69,547.41L1177.58,547.41L1178.77,546.91L1179.52,545.62L1179.91,543.49L1179.91,541.93L1179.52,539.80L1178.72,538.46L1177.98,538.18M1185.47,547.41L1185.47,538.12L1185.42,538.07L1184.23,539.41L1183.49,539.80M1190.64,540.25L1190.64,539.80L1191.03,538.91L1191.43,538.46L1192.23,538.01L1193.86,538.01L1194.56,538.40L1195.01,538.91L1195.40,539.80L1195.40,540.75L1195.06,541.53L1194.26,542.88L1190.29,547.35L1190.34,547.41L1195.80,547.41" fill="none" stroke="#1a1a1a" stroke-width="1.25" stroke-linecap="round" stroke-linejoin="round"/><path d="M1169.59,519.68L1169.59,510.39L1169.54,510.34L1168.34,511.68L1167.60,512.07M1177.98,510.45L1177.58,510.28L1176.69,510.28L1175.54,510.73L1174.75,512.07L1174.35,514.20L1174.35,515.76L1174.75,517.89L1175.54,519.23L1176.69,519.68L1177.58,519.68L1178.77,519.18L1179.52,517.89L1179.91,515.76L1179.91,514.20L1179.52,512.07L1178.72,510.73L1177.98,510.45M1185.47,519.68L1185.47,510.39L1185.42,510.34L1184.23,511.68L1183.49,512.07M1191.03,510.28L1195.30,510.28L1195.35,510.34L1193.07,513.80L1193.12,513.86L1194.26,513.86L1194.96,514.25L1195.40,514.76L1195.80,516.04L1195.80,517.05L1195.40,518.34L1194.61,519.23L1193.47,519.68L1192.18,519.68L1191.13,519.29L1190.59,518.73L1190.24,517.89" fill="none" stroke="#1a1a1a" stroke-width="1.25" stroke-linecap="round" stroke-linejoin="round"/><path d="M1169.56,491.95L1169.56,482.66L1169.51,482.61L1168.33,483.95L1167.60,484.34M1177.83,482.72L1177.44,482.55L1176.56,482.55L1175.43,483.00L1174.65,484.34L1174.26,486.47L1174.26,488.03L1174.65,490.16L1175.43,491.50L1176.56,491.95L1177.44,491.95L1178.62,491.45L1179.35,490.16L1179.74,488.03L1179.74,486.47L1179.35,484.34L1178.57,483.00L1177.83,482.72M1185.23,491.95L1185.23,482.66L1185.18,482.61L1184.00,483.95L1183.27,484.34M1195.80,488.82L1193.84,488.82M1193.84,488.82L1190.02,488.82L1189.97,488.76L1193.65,482.83L1193.84,482.66M1193.84,488.82L1193.84,482.66M1193.84,488.82L1193.84,491.95" fill="none" stroke="#1a1a1a" stroke-width="1.25" stroke-linecap="round" stroke-linejoin="round"/><path d="M1169.59,464.22L1169.59,454.93L1169.54,454.88L1168.34,456.22L1167.60,456.61M1177.98,454.99L1177.58,454.82L1176.69,454.82L1175.54,455.27L1174.75,456.61L1174.35,458.74L1174.35,460.30L1174.75,462.43L1175.54,463.77L1176.69,464.22L1177.58,464.22L1178.77,463.72L1179.52,462.43L1179.91,460.30L1179.91,458.74L1179.52,456.61L1178.72,455.27L1177.98,454.99M1185.47,464.22L1185.47,454.93L1185.42,454.88L1184.23,456.22L1183.49,456.61M1190.24,462.43L1190.59,463.27L1191.03,463.77L1192.18,464.22L1193.47,464.22L1194.51,463.83L1195.40,462.88L1195.80,461.59L1195.80,460.58L1195.40,459.30L1194.61,458.40L1193.47,457.95L1192.18,457.95L1191.13,458.35L1190.69,458.79L1190.64,458.74L1190.98,455.10L1191.08,454.82L1195.01,454.82" fill="none" stroke="#1a1a1a" stroke-width="1.25" stroke-linecap="round" stroke-linejoin="round"/><path d="M1169.59,436.49L1169.59,427.20L1169.54,427.15L1168.34,428.49L1167.60,428.88M1177.98,427.26L1177.58,427.09L1176.69,427.09L1175.54,427.54L1174.75,428.88L1174.35,431.01L1174.35,432.57L1174.75,434.70L1175.54,436.04L1176.69,436.49L1177.58,436.49L1178.77,435.99L1179.52,434.70L1179.91,432.57L1179.91,431.01L1179.52,428.88L1178.72,427.54L1177.98,427.26M1185.47,436.49L1185.47,427.20L1185.42,427.15L1184.23,428.49L1183.49,428.88M1190.64,433.13L1190.64,431.01L1190.98,429.05L1191.08,428.77L1191.83,427.54L1192.97,427.09L1193.86,427.09L1194.91,427.48L1195.06,427.65L1195.40,428.43M1190.64,433.13L1190.64,433.47L1191.03,435.15L1191.83,436.04L1192.97,436.49L1193.47,436.49L1194.61,436.04L1195.40,435.15L1195.80,433.86L1195.80,433.30L1195.40,432.01L1194.61,431.12L1193.47,430.67L1192.97,430.67L1191.83,431.12L1191.03,432.01L1190.74,433.08L1190.64,433.13" fill="none" stroke="#1a1a1a" stroke-width="1.25" stroke-linecap="round" stroke-linejoin="round"/><path d="M1169.59,408.76L1169.59,399.47L1169.54,399.42L1168.34,400.76L1167.60,401.15M1177.98,399.53L1177.58,399.36L1176.69,399.36L1175.54,399.81L1174.75,401.15L1174.35,403.28L1174.35,404.84L1174.75,406.97L1175.54,408.31L1176.69,408.76L1177.58,408.76L1178.77,408.26L1179.52,406.97L1179.91,404.84L1179.91,403.28L1179.52,401.15L1178.72,399.81L1177.98,399.53M1185.47,408.76L1185.47,399.47L1185.42,399.42L1184.23,400.76L1183.49,401.15M1190.24,399.36L1195.75,399.36L1195.80,399.42L1191.83,408.76" fill="none" stroke="#1a1a1a" stroke-width="1.25" stroke-linecap="round" stroke-linejoin="round"/><path d="M1169.59,381.03L1169.59,371.74L1169.54,371.69L1168.34,373.03L1167.60,373.42M1177.98,371.80L1177.58,371.63L1176.69,371.63L1175.54,372.08L1174.75,373.42L1174.35,375.55L1174.35,377.11L1174.75,379.24L1175.54,380.58L1176.69,381.03L1177.58,381.03L1178.77,380.53L1179.52,379.24L1179.91,377.11L1179.91,375.55L1179.52,373.42L1178.72,372.08L1177.98,371.80M1185.47,381.03L1185.47,371.74L1185.42,371.69L1184.23,373.03L1183.49,373.42M1192.97,375.55L1193.12,375.55M1192.97,375.55L1191.83,375.21L1190.98,374.71L1190.64,373.92L1190.64,372.97L1190.98,372.19L1191.13,372.02L1192.18,371.63L1193.86,371.63L1194.91,372.02L1195.06,372.19L1195.40,372.97L1195.40,373.92L1195.06,374.71L1194.26,375.21L1193.12,375.55M1192.97,375.55L1191.43,376.11L1190.64,377.00L1190.24,377.90L1190.24,379.30L1190.59,380.08L1191.03,380.58L1192.18,381.03L1193.86,381.03L1194.91,380.64L1195.45,380.08L1195.80,379.30L1195.80,377.90L1195.40,377.00L1194.61,376.11L1193.12,375.55" fill="none" stroke="#1a1a1a" stroke-width="1.25" stroke-linecap="round" stroke-linejoin="round"/><path d="M1169.61,353.30L1169.61,344.01L1169.56,343.96L1168.36,345.30L1167.60,345.69M1178.12,344.07L1177.72,343.90L1176.82,343.90L1175.66,344.35L1174.85,345.69L1174.45,347.82L1174.45,349.38L1174.85,351.51L1175.66,352.85L1176.82,353.30L1177.72,353.30L1178.93,352.80L1179.69,351.51L1180.09,349.38L1180.09,347.82L1179.69,345.69L1178.88,344.35L1178.12,344.07M1185.73,353.30L1185.73,344.01L1185.68,343.96L1184.47,345.30L1183.71,345.69M1190.97,351.96L1191.37,352.85L1192.53,353.30L1193.43,353.30L1194.59,352.85L1195.35,351.62L1195.45,351.34L1195.80,349.38L1195.80,347.31L1195.75,347.26M1195.75,347.26L1195.80,346.98L1195.40,345.24L1194.59,344.35L1193.43,343.90L1192.93,343.90L1191.77,344.35L1190.97,345.24L1190.56,346.53L1190.56,347.09L1190.97,348.38L1191.77,349.27L1192.93,349.72L1193.43,349.72L1194.59,349.27L1195.40,348.38L1195.75,347.26" fill="none" stroke="#1a1a1a" stroke-width="1.25" stroke-linecap="round" stroke-linejoin="round"/><path d="M1169.59,325.57L1169.59,316.28L1169.54,316.23L1168.34,317.57L1167.60,317.96M1177.98,316.34L1177.58,316.17L1176.69,316.17L1175.54,316.62L1174.75,317.96L1174.35,320.09L1174.35,321.65L1174.75,323.78L1175.54,325.12L1176.69,325.57L1177.58,325.57L1178.77,325.07L1179.52,323.78L1179.91,321.65L1179.91,320.09L1179.52,317.96L1178.72,316.62L1177.98,316.34M1182.69,318.41L1182.69,317.96L1183.09,317.07L1183.49,316.62L1184.28,316.17L1185.92,316.17L1186.62,316.56L1187.06,317.07L1187.46,317.96L1187.46,318.91L1187.11,319.69L1186.32,321.04L1182.35,325.51L1182.40,325.57L1187.86,325.57M1193.86,316.34L1193.47,316.17L1192.57,316.17L1191.43,316.62L1190.64,317.96L1190.24,320.09L1190.24,321.65L1190.64,323.78L1191.43,325.12L1192.57,325.57L1193.47,325.57L1194.66,325.07L1195.40,323.78L1195.80,321.65L1195.80,320.09L1195.40,317.96L1194.61,316.62L1193.86,316.34" fill="none" stroke="#1a1a1a" stroke-width="1.25" stroke-linecap="round" stroke-linejoin="round"/><path d="M1169.59,297.84L1169.59,288.55L1169.54,288.50L1168.34,289.84L1167.60,290.23M1177.98,288.61L1177.58,288.44L1176.69,288.44L1175.54,288.89L1174.75,290.23L1174.35,292.36L1174.35,293.92L1174.75,296.05L1175.54,297.39L1176.69,297.84L1177.58,297.84L1178.77,297.34L1179.52,296.05L1179.91,293.92L1179.91,292.36L1179.52,290.23L1178.72,288.89L1177.98,288.61M1182.69,290.68L1182.69,290.23L1183.09,289.34L1183.49,288.89L1184.28,288.44L1185.92,288.44L1186.62,288.83L1187.06,289.34L1187.46,290.23L1187.46,291.18L1187.11,291.96L1186.32,293.31L1182.35,297.78L1182.40,297.84L1187.86,297.84M1190.64,290.68L1190.64,290.23L1191.03,289.34L1191.43,288.89L1192.23,288.44L1193.86,288.44L1194.56,288.83L1195.01,289.34L1195.40,290.23L1195.40,291.18L1195.06,291.96L1194.26,293.31L1190.29,297.78L1190.34,297.84L1195.80,297.84" fill="none" stroke="#1a1a1a" stroke-width="1.25" stroke-linecap="round" stroke-linejoin="round"/><path d="M1169.59,270.11L1169.59,260.82L1169.54,260.77L1168.34,262.11L1167.60,262.50M1177.98,260.88L1177.58,260.71L1176.69,260.71L1175.54,261.16L1174.75,262.50L1174.35,264.63L1174.35,266.19L1174.75,268.32L1175.54,269.66L1176.69,270.11L1177.58,270.11L1178.77,269.61L1179.52,268.32L1179.91,266.19L1179.91,264.63L1179.52,262.50L1178.72,261.16L1177.98,260.88M1182.69,262.95L1182.69,262.50L1183.09,261.61L1183.49,261.16L1184.28,260.71L1185.92,260.71L1186.62,261.10L1187.06,261.61L1187.46,262.50L1187.46,263.45L1187.11,264.24L1186.32,265.58L1182.35,270.05L1182.40,270.11L1187.86,270.11M1190.24,268.32L1190.59,269.16L1191.03,269.66L1192.18,270.11L1193.47,270.11L1194.51,269.72L1195.40,268.77L1195.80,267.48L1195.80,266.47L1195.40,265.19L1194.61,264.29L1193.47,263.84L1192.18,263.84L1191.13,264.24L1190.69,264.68L1190.64,264.63L1190.98,260.99L1191.08,260.71L1195.01,260.71" fill="none" stroke="#1a1a1a" stroke-width="1.25" stroke-linecap="round" stroke-linejoin="round"/><path d="M1169.59,242.38L1169.59,233.09L1169.54,233.04L1168.34,234.38L1167.60,234.77M1177.98,233.15L1177.58,232.98L1176.69,232.98L1175.54,233.43L1174.75,234.77L1174.35,236.90L1174.35,238.46L1174.75,240.59L1175.54,241.93L1176.69,242.38L1177.58,242.38L1178.77,241.88L1179.52,240.59L1179.91,238.46L1179.91,236.90L1179.52,234.77L1178.72,233.43L1177.98,233.15M1182.69,235.22L1182.69,234.77L1183.09,233.88L1183.49,233.43L1184.28,232.98L1185.92,232.98L1186.62,233.37L1187.06,233.88L1187.46,234.77L1187.46,235.72L1187.11,236.51L1186.32,237.85L1182.35,242.32L1182.40,242.38L1187.86,242.38M1192.97,236.90L1193.12,236.90M1192.97,236.90L1191.83,236.56L1190.98,236.06L1190.64,235.27L1190.64,234.32L1190.98,233.54L1191.13,233.37L1192.18,232.98L1193.86,232.98L1194.91,233.37L1195.06,233.54L1195.40,234.32L1195.40,235.27L1195.06,236.06L1194.26,236.56L1193.12,236.90M1192.97,236.90L1191.43,237.46L1190.64,238.35L1190.24,239.25L1190.24,240.65L1190.59,241.43L1191.03,241.93L1192.18,242.38L1193.86,242.38L1194.91,241.99L1195.45,241.43L1195.80,240.65L1195.80,239.25L1195.40,238.35L1194.61,237.46L1193.12,236.90" fill="none" stroke="#1a1a1a" stroke-width="1.25" stroke-linecap="round" stroke-linejoin="round"/><path d="M1169.59,214.65L1169.59,205.36L1169.54,205.31L1168.34,206.65L1167.60,207.04M1177.98,205.42L1177.58,205.25L1176.69,205.25L1175.54,205.70L1174.75,207.04L1174.35,209.17L1174.35,210.73L1174.75,212.86L1175.54,214.20L1176.69,214.65L1177.58,214.65L1178.77,214.15L1179.52,212.86L1179.91,210.73L1179.91,209.17L1179.52,207.04L1178.72,205.70L1177.98,205.42M1183.09,205.25L1187.36,205.25L1187.41,205.31L1185.13,208.78L1185.18,208.83L1186.32,208.83L1187.01,209.22L1187.46,209.73L1187.86,211.01L1187.86,212.02L1187.46,213.31L1186.66,214.20L1185.52,214.65L1184.23,214.65L1183.19,214.26L1182.64,213.70L1182.30,212.86M1193.86,205.42L1193.47,205.25L1192.57,205.25L1191.43,205.70L1190.64,207.04L1190.24,209.17L1190.24,210.73L1190.64,212.86L1191.43,214.20L1192.57,214.65L1193.47,214.65L1194.66,214.15L1195.40,212.86L1195.80,210.73L1195.80,209.17L1195.40,207.04L1194.61,205.70L1193.86,205.42" fill="none" stroke="#1a1a1a" stroke-width="1.25" stroke-linecap="round" stroke-linejoin="round"/><path d="M1169.59,186.92L1169.59,177.63L1169.54,177.58L1168.34,178.92L1167.60,179.31M1177.98,177.69L1177.58,177.52L1176.69,177.52L1175.54,177.97L1174.75,179.31L1174.35,181.44L1174.35,183.00L1174.75,185.13L1175.54,186.47L1176.69,186.92L1177.58,186.92L1178.77,186.42L1179.52,185.13L1179.91,183.00L1179.91,181.44L1179.52,179.31L1178.72,177.97L1177.98,177.69M1183.09,177.52L1187.36,177.52L1187.41,177.58L1185.13,181.05L1185.18,181.10L1186.32,181.10L1187.01,181.49L1187.46,182.00L1187.86,183.28L1187.86,184.29L1187.46,185.58L1186.66,186.47L1185.52,186.92L1184.23,186.92L1183.19,186.53L1182.64,185.97L1182.30,185.13M1190.24,185.13L1190.59,185.97L1191.03,186.47L1192.18,186.92L1193.47,186.92L1194.51,186.53L1195.40,185.58L1195.80,184.29L1195.80,183.28L1195.40,182.00L1194.61,181.10L1193.47,180.65L1192.18,180.65L1191.13,181.05L1190.69,181.49L1190.64,181.44L1190.98,177.80L1191.08,177.52L1195.01,177.52" fill="none" stroke="#1a1a1a" stroke-width="1.25" stroke-linecap="round" stroke-linejoin="round"/><path d="M1169.59,159.19L1169.59,149.90L1169.54,149.85L1168.34,151.19L1167.60,151.58M1177.98,149.96L1177.58,149.79L1176.69,149.79L1175.54,150.24L1174.75,151.58L1174.35,153.71L1174.35,155.27L1174.75,157.40L1175.54,158.74L1176.69,159.19L1177.58,159.19L1178.77,158.69L1179.52,157.40L1179.91,155.27L1179.91,153.71L1179.52,151.58L1178.72,150.24L1177.98,149.96M1188.25,156.06L1186.27,156.06M1186.27,156.06L1182.40,156.06L1182.35,156.00L1186.07,150.07L1186.27,149.90M1186.27,156.06L1186.27,149.90M1186.27,156.06L1186.27,159.19M1193.86,149.96L1193.47,149.79L1192.57,149.79L1191.43,150.24L1190.64,151.58L1190.24,153.71L1190.24,155.27L1190.64,157.40L1191.43,158.74L1192.57,159.19L1193.47,159.19L1194.66,158.69L1195.40,157.40L1195.80,155.27L1195.80,153.71L1195.40,151.58L1194.61,150.24L1193.86,149.96" fill="none" stroke="#1a1a1a" stroke-width="1.25" stroke-linecap="round" stroke-linejoin="round"/><path d="M1169.59,131.46L1169.59,122.17L1169.54,122.12L1168.34,123.46L1167.60,123.85M1177.98,122.23L1177.58,122.06L1176.69,122.06L1175.54,122.51L1174.75,123.85L1174.35,125.98L1174.35,127.54L1174.75,129.67L1175.54,131.01L1176.69,131.46L1177.58,131.46L1178.77,130.96L1179.52,129.67L1179.91,127.54L1179.91,125.98L1179.52,123.85L1178.72,122.51L1177.98,122.23M1182.30,129.67L1182.64,130.51L1183.09,131.01L1184.23,131.46L1185.52,131.46L1186.57,131.07L1187.46,130.12L1187.86,128.83L1187.86,127.82L1187.46,126.54L1186.66,125.64L1185.52,125.19L1184.23,125.19L1183.19,125.58L1182.74,126.03L1182.69,125.98L1183.04,122.34L1183.14,122.06L1187.06,122.06M1193.86,122.23L1193.47,122.06L1192.57,122.06L1191.43,122.51L1190.64,123.85L1190.24,125.98L1190.24,127.54L1190.64,129.67L1191.43,131.01L1192.57,131.46L1193.47,131.46L1194.66,130.96L1195.40,129.67L1195.80,127.54L1195.80,125.98L1195.40,123.85L1194.61,122.51L1193.86,122.23" fill="none" stroke="#1a1a1a" stroke-width="1.25" stroke-linecap="round" stroke-linejoin="round"/><path d="M247.60,22.38L247.60,10.83L247.74,10.70L257.73,10.70L260.92,11.76L262.04,12.82L263.15,14.95L263.15,18.27L262.17,20.12L260.92,21.32L257.73,22.38L247.60,22.38M247.60,22.38L247.60,33.00M279.80,18.13L276.47,18.13L274.25,19.20L272.03,21.32L271.20,23.84L270.92,23.97M270.92,18.13L270.92,23.97M270.92,23.97L270.92,33.00M297.57,29.81L295.21,32.07L293.27,33.00L289.80,33.00L287.57,31.94L285.35,29.81L284.24,26.76L284.24,24.50M284.24,24.50L285.35,21.32L287.57,19.20L289.80,18.13L293.27,18.13L295.21,19.06L296.46,20.26L297.57,22.38L297.57,24.37L297.43,24.50L284.24,24.50M304.23,29.81L305.34,31.94L308.53,33.00L312.14,33.00L315.33,31.94L316.44,29.95L316.44,28.75L315.33,26.63L313.25,25.57L307.56,24.50L305.34,23.44L304.23,21.32L305.20,19.46L305.62,19.06L308.53,18.13L312.14,18.13L315.06,19.06L315.47,19.46L316.44,21.32M324.22,18.13L324.22,33.00M323.80,11.36L323.11,10.70L324.22,9.64L325.33,10.70L324.22,11.76L323.80,11.36M346.01,27.82L346.43,26.76L346.43,24.37L345.31,21.32L342.96,19.06L341.01,18.13L337.54,18.13L335.32,19.20L333.10,21.32L331.99,24.37L331.99,26.76L333.10,29.81L335.32,31.94L337.54,33.00L341.01,33.00L342.96,32.07L345.31,29.81L346.01,27.82M366.41,33.00L366.41,22.25L365.16,19.06L363.22,18.13L359.75,18.13L357.53,19.20L354.20,22.25M354.20,22.25L354.20,18.13M354.20,22.25L354.20,33.00M405.28,33.00L405.28,29.95M405.28,18.13L405.28,21.19M405.28,21.19L402.92,19.06L400.97,18.13L397.50,18.13L395.28,19.20L393.06,21.32L391.95,24.37L391.95,26.76L393.06,29.81L395.28,31.94L397.50,33.00L400.97,33.00L402.92,32.07L405.28,29.95M405.28,21.19L405.28,29.95M444.14,33.00L444.14,22.25L442.89,19.06L440.95,18.13L437.48,18.13L435.26,19.20L431.93,22.25M431.93,22.25L431.93,18.13M431.93,22.25L431.93,33.00M453.02,18.13L453.02,33.00M452.61,11.36L451.91,10.70L453.02,9.64L454.13,10.70L453.02,11.76L452.61,11.36M466.35,32.87L459.69,18.13M466.35,32.87L473.01,18.13M491.89,29.81L489.53,32.07L487.58,33.00L484.11,33.00L481.89,31.94L479.67,29.81L478.56,26.76L478.56,24.50M478.56,24.50L479.67,21.32L481.89,19.20L484.11,18.13L487.58,18.13L489.53,19.06L490.78,20.26L491.89,22.38L491.89,24.37L491.75,24.50L478.56,24.50M499.66,10.70L499.66,33.00M538.52,21.19L536.16,19.06L534.22,18.13L530.75,18.13L528.53,19.20L526.31,21.32L525.20,24.37L525.20,26.76L526.31,29.81L528.53,31.94L530.75,33.00L534.22,33.00L536.16,32.07L538.52,29.95M538.52,21.19L538.52,10.70M538.52,21.19L538.52,29.95M538.52,29.95L538.52,33.00M559.62,29.81L557.26,32.07L555.32,33.00L551.85,33.00L549.63,31.94L547.41,29.81L546.30,26.76L546.30,24.50M546.30,24.50L547.41,21.32L549.63,19.20L551.85,18.13L555.32,18.13L557.26,19.06L558.51,20.26L559.62,22.38L559.62,24.37L559.48,24.50L546.30,24.50M584.05,29.81L585.16,31.94L588.35,33.00L591.96,33.00L595.15,31.94L596.26,29.95L596.26,28.75L595.15,26.63L593.07,25.57L587.38,24.50L585.16,23.44L584.05,21.32L585.02,19.46L585.44,19.06L588.35,18.13L591.96,18.13L594.88,19.06L595.29,19.46L596.26,21.32M616.25,33.00L616.25,28.89M604.04,18.13L604.04,28.89L605.01,31.67L605.43,32.07L607.37,33.00L610.84,33.00L612.78,32.07L616.25,28.89M616.25,18.13L616.25,28.89M625.14,21.19L625.14,18.13M625.14,21.19L625.14,29.95M625.14,21.19L627.36,19.20L629.58,18.13L633.05,18.13L634.99,19.06L637.35,21.32L638.46,24.37L638.46,26.76L637.35,29.81L634.99,32.07L633.05,33.00L629.58,33.00L627.36,31.94L625.14,29.95M625.14,29.95L625.14,40.43M658.45,29.81L656.09,32.07L654.14,33.00L650.67,33.00L648.45,31.94L646.23,29.81L645.12,26.76L645.12,24.50M645.12,24.50L646.23,21.32L648.45,19.20L650.67,18.13L654.14,18.13L656.09,19.06L657.34,20.26L658.45,22.38L658.45,24.37L658.31,24.50L645.12,24.50M675.10,18.13L671.77,18.13L669.55,19.20L667.33,21.32L666.50,23.84L666.22,23.97M666.22,18.13L666.22,23.97M666.22,23.97L666.22,33.00M681.77,18.13L678.43,18.13M681.77,18.13L681.77,14.81L682.74,12.03L683.15,11.63L685.10,10.70L687.32,10.70M681.77,18.13L681.77,33.00M681.77,18.13L686.21,18.13M693.98,18.13L693.98,33.00M693.56,11.36L692.87,10.70L693.98,9.64L695.09,10.70L693.98,11.76L693.56,11.36M715.08,29.81L712.72,32.07L710.77,33.00L707.30,33.00L705.08,31.94L702.86,29.81L701.75,26.76L701.75,24.37L702.86,21.32L705.08,19.20L707.30,18.13L710.77,18.13L712.72,19.06L715.08,21.32M722.85,18.13L722.85,33.00M722.43,11.36L721.74,10.70L722.85,9.64L723.96,10.70L722.85,11.76L722.43,11.36M743.95,29.81L741.59,32.07L739.64,33.00L736.17,33.00L733.95,31.94L731.73,29.81L730.62,26.76L730.62,24.50M730.62,24.50L731.73,21.32L733.95,19.20L736.17,18.13L739.64,18.13L741.59,19.06L742.84,20.26L743.95,22.38L743.95,24.37L743.81,24.50L730.62,24.50M777.26,40.43L774.90,38.18L772.68,34.99L770.60,31.01L769.49,25.83L769.49,21.05L770.60,16.01L772.96,11.50L774.90,8.71L777.26,6.45M785.03,10.70L785.03,22.25M797.25,33.00L797.25,22.25L796.00,19.06L794.05,18.13L790.58,18.13L788.36,19.20L785.03,22.25M785.03,22.25L785.03,33.00M806.13,22.38L806.13,10.83L806.27,10.70L816.26,10.70L819.45,11.76L820.57,12.82L821.68,14.95L821.68,18.27L820.70,20.12L819.45,21.32L816.26,22.38L806.13,22.38M806.13,22.38L806.13,33.00M841.66,33.00L841.66,29.95M841.66,18.13L841.66,21.19M841.66,21.19L839.30,19.06L837.36,18.13L833.89,18.13L831.67,19.20L829.45,21.32L828.34,24.37L828.34,26.76L829.45,29.81L831.67,31.94L833.89,33.00L837.36,33.00L839.30,32.07L841.66,29.95M841.66,21.19L841.66,29.95M850.55,37.25L851.80,36.05L852.77,34.19L852.77,32.07M852.77,32.07L851.66,33.00L850.55,31.94L851.66,30.88L852.77,32.07M860.54,29.81L861.65,31.94L864.84,33.00L868.45,33.00L871.64,31.94L872.75,29.95L872.75,28.75L871.64,26.63L869.56,25.57L863.87,24.50L861.65,23.44L860.54,21.32L861.51,19.46L861.93,19.06L864.84,18.13L868.45,18.13L871.37,19.06L871.78,19.46L872.75,21.32M893.43,27.82L893.85,26.76L893.85,24.37L892.74,21.32L890.38,19.06L888.44,18.13L884.97,18.13L882.75,19.20L880.53,21.32L879.42,24.37L879.42,26.76L880.53,29.81L882.75,31.94L884.97,33.00L888.44,33.00L890.38,32.07L892.74,29.81L893.43,27.82M901.62,22.25L901.62,18.13M901.62,22.25L901.62,33.00M901.62,22.25L904.96,19.20L907.18,18.13L910.65,18.13L912.59,19.06L913.84,22.25M913.84,33.00L913.84,22.25M926.05,33.00L926.05,22.25L924.80,19.06L922.86,18.13L919.39,18.13L917.17,19.20L913.84,22.25M934.94,10.70L934.94,21.19M934.94,21.19L934.94,29.95M934.94,21.19L937.16,19.20L939.38,18.13L942.85,18.13L944.79,19.06L947.15,21.32L948.26,24.37L948.26,26.76L947.15,29.81L944.79,32.07L942.85,33.00L939.38,33.00L937.16,31.94L934.94,29.95M934.94,29.95L934.94,33.00M957.70,31.41L957.14,30.88L956.03,31.94L957.14,33.00L958.25,31.94L957.70,31.41M966.03,6.45L968.39,8.71L970.33,11.50L972.69,16.01L973.80,21.05L973.80,25.83L972.69,31.01L970.61,34.99L968.39,38.18L966.03,40.43" fill="none" stroke="#101010" stroke-width="1.70" stroke-linecap="round" stroke-linejoin="round"/><path d="M59.13,51.46L59.13,50.89L59.73,49.74L60.33,49.17L61.54,48.60L64.03,48.60L65.08,49.10L65.76,49.74L66.36,50.89L66.36,52.10L65.84,53.10L64.63,54.81L58.60,60.53L58.68,60.60L66.97,60.60M76.09,48.81L75.49,48.60L74.13,48.60L72.39,49.17L71.19,50.89L70.59,53.60L70.59,55.60L71.19,58.31L72.39,60.03L74.13,60.60L75.49,60.60L77.29,59.96L78.43,58.31L79.03,55.60L79.03,53.60L78.43,50.89L77.22,49.17L76.09,48.81M83.25,55.46L94.10,55.46M104.96,56.60L98.93,56.60M106.77,60.60L101.94,48.67M101.94,48.67L97.12,60.60M110.99,64.03L112.20,64.60L114.08,64.60L115.14,64.10L115.81,63.46L116.42,61.81L116.42,58.96M116.42,52.60L116.42,54.24M116.42,54.24L115.14,53.10L114.08,52.60L112.20,52.60L110.99,53.17L109.78,54.31L109.18,55.96L109.18,57.24L109.78,58.89L110.99,60.03L112.20,60.60L114.08,60.60L115.14,60.10L116.42,58.96M116.42,54.24L116.42,58.96M128.25,57.81L128.48,57.24L128.48,55.96L127.87,54.31L126.59,53.10L125.54,52.60L123.65,52.60L122.45,53.17L121.24,54.31L120.64,55.96L120.64,57.24L121.24,58.89L122.45,60.03L123.65,60.60L125.54,60.60L126.59,60.10L127.87,58.89L128.25,57.81M132.70,55.46L143.55,55.46M148.38,51.46L148.38,50.89L148.98,49.74L149.58,49.17L150.79,48.60L153.28,48.60L154.33,49.10L155.01,49.74L155.61,50.89L155.61,52.10L155.09,53.10L153.88,54.81L147.85,60.53L147.93,60.60L156.22,60.60M165.34,48.81L164.74,48.60L163.38,48.60L161.64,49.17L160.44,50.89L159.84,53.60L159.84,55.60L160.44,58.31L161.64,60.03L163.38,60.60L164.74,60.60L166.54,59.96L167.68,58.31L168.28,55.60L168.28,53.60L167.68,50.89L166.47,49.17L165.34,48.81M172.50,51.46L172.50,50.89L173.10,49.74L173.71,49.17L174.91,48.60L177.40,48.60L178.45,49.10L179.13,49.74L179.74,50.89L179.74,52.10L179.21,53.10L178.00,54.81L171.97,60.53L172.05,60.60L180.34,60.60M183.96,58.31L184.49,59.39L185.16,60.03L186.90,60.60L188.86,60.60L190.44,60.10L191.80,58.89L192.40,57.24L192.40,55.96L191.80,54.31L190.59,53.17L188.86,52.60L186.90,52.60L185.31,53.10L184.64,53.67L184.56,53.60L185.09,48.96L185.24,48.60L191.19,48.60" fill="none" stroke="#3232ff" stroke-width="1.45" stroke-linecap="round" stroke-linejoin="round"/><path d="M262.22,48.81L261.60,48.60L260.22,48.60L258.45,49.17L257.22,50.89L256.60,53.60L256.60,55.60L257.22,58.31L258.45,60.03L260.22,60.60L261.60,60.60L263.45,59.96L264.60,58.31L265.22,55.60L265.22,53.60L264.60,50.89L263.37,49.17L262.22,48.81M269.52,58.89L270.14,60.03L271.91,60.60L273.29,60.60L275.06,60.03L276.22,58.46L276.37,58.10L276.91,55.60L276.91,52.96L276.83,52.89M276.83,52.89L276.91,52.53L276.29,50.31L275.06,49.17L273.29,48.60L272.52,48.60L270.75,49.17L269.52,50.31L268.91,51.96L268.91,52.67L269.52,54.31L270.75,55.46L272.52,56.03L273.29,56.03L275.06,55.46L276.29,54.31L276.83,52.89M286.83,48.81L286.22,48.60L284.83,48.60L283.06,49.17L281.83,50.89L281.22,53.60L281.22,55.60L281.83,58.31L283.06,60.03L284.83,60.60L286.22,60.60L288.06,59.96L289.22,58.31L289.83,55.60L289.83,53.60L289.22,50.89L287.98,49.17L286.83,48.81M299.14,48.81L298.52,48.60L297.14,48.60L295.37,49.17L294.14,50.89L293.52,53.60L293.52,55.60L294.14,58.31L295.37,60.03L297.14,60.60L298.52,60.60L300.37,59.96L301.52,58.31L302.14,55.60L302.14,53.60L301.52,50.89L300.29,49.17L299.14,48.81M316.29,48.60L316.29,57.24L316.91,58.89L318.14,60.03L319.91,60.60L321.29,60.60L322.91,60.10L324.37,58.74L324.91,57.24L324.91,48.60M327.98,48.60L332.29,48.60M336.60,48.60L332.29,48.60M332.29,60.60L332.29,48.60M348.29,57.74L347.75,58.81L346.37,60.10L345.29,60.60L342.75,60.60L341.52,60.03L340.22,58.81L339.68,57.81L339.06,56.10L339.06,53.10L339.60,51.60L340.29,50.31L341.52,49.17L342.75,48.60L345.29,48.60L346.37,49.10L347.68,50.31L348.29,51.46M372.29,46.31L361.22,64.60M385.83,56.31L385.83,53.60L386.37,51.10L386.52,50.74L387.68,49.17L389.45,48.60L390.83,48.60L392.45,49.10L392.68,49.31L393.22,50.31M385.83,56.31L385.83,56.74L386.45,58.89L387.68,60.03L389.45,60.60L390.22,60.60L391.98,60.03L393.22,58.89L393.83,57.24L393.83,56.53L393.22,54.89L391.98,53.74L390.22,53.17L389.45,53.17L387.68,53.74L386.45,54.89L385.98,56.24L385.83,56.31M398.68,53.67L398.14,53.17L398.75,52.60L399.37,53.17L398.75,53.74L398.68,53.67M399.06,59.74L398.75,59.46L398.14,60.03L398.75,60.60L399.37,60.03L399.06,59.74M409.29,48.81L408.68,48.60L407.29,48.60L405.52,49.17L404.29,50.89L403.68,53.60L403.68,55.60L404.29,58.31L405.52,60.03L407.29,60.60L408.68,60.60L410.52,59.96L411.68,58.31L412.29,55.60L412.29,53.60L411.68,50.89L410.45,49.17L409.29,48.81M421.60,48.81L420.98,48.60L419.60,48.60L417.83,49.17L416.60,50.89L415.98,53.60L415.98,55.60L416.60,58.31L417.83,60.03L419.60,60.60L420.98,60.60L422.83,59.96L423.98,58.31L424.60,55.60L424.60,53.60L423.98,50.89L422.75,49.17L421.60,48.81M445.52,60.60L445.52,58.96M445.52,52.60L445.52,54.24M445.52,54.24L444.22,53.10L443.14,52.60L441.22,52.60L439.98,53.17L438.75,54.31L438.14,55.96L438.14,57.24L438.75,58.89L439.98,60.03L441.22,60.60L443.14,60.60L444.22,60.10L445.52,58.96M445.52,54.24L445.52,58.96M450.45,54.81L450.45,52.60M450.45,54.81L450.45,60.60M450.45,54.81L452.29,53.17L453.52,52.60L455.45,52.60L456.52,53.10L457.22,54.81M457.22,60.60L457.22,54.81M463.98,60.60L463.98,54.81L463.29,53.10L462.22,52.60L460.29,52.60L459.06,53.17L457.22,54.81M478.75,48.60L478.75,54.31M478.75,54.31L478.75,60.60M478.75,54.31L487.37,54.31M487.37,60.60L487.37,54.31M487.37,48.60L487.37,54.31M499.45,57.81L499.68,57.24L499.68,55.96L499.06,54.31L497.75,53.10L496.68,52.60L494.75,52.60L493.52,53.17L492.29,54.31L491.68,55.96L491.68,57.24L492.29,58.89L493.52,60.03L494.75,60.60L496.68,60.60L497.75,60.10L499.06,58.89L499.45,57.81M508.91,52.60L507.06,52.60L505.83,53.17L504.60,54.31L504.14,55.67L503.98,55.74M503.98,52.60L503.98,55.74M503.98,55.74L503.98,60.60M518.75,60.60L518.75,58.96M518.75,52.60L518.75,54.24M518.75,54.24L517.45,53.10L516.37,52.60L514.45,52.60L513.22,53.17L511.98,54.31L511.37,55.96L511.37,57.24L511.98,58.89L513.22,60.03L514.45,60.60L516.37,60.60L517.45,60.10L518.75,58.96M518.75,54.24L518.75,58.96M533.52,48.60L533.52,60.53L533.60,60.60L540.91,60.60M551.14,57.81L551.37,57.24L551.37,55.96L550.75,54.31L549.45,53.10L548.37,52.60L546.45,52.60L545.22,53.17L543.98,54.31L543.37,55.96L543.37,57.24L543.98,58.89L545.22,60.03L546.45,60.60L548.37,60.60L549.45,60.10L550.75,58.89L551.14,57.81M562.45,58.89L561.14,60.10L560.06,60.60L558.14,60.60L556.91,60.03L555.68,58.89L555.06,57.24L555.06,55.96L555.68,54.31L556.91,53.17L558.14,52.60L560.06,52.60L561.14,53.10L562.45,54.31M573.52,60.60L573.52,58.96M573.52,52.60L573.52,54.24M573.52,54.24L572.22,53.10L571.14,52.60L569.22,52.60L567.98,53.17L566.75,54.31L566.14,55.96L566.14,57.24L566.75,58.89L567.98,60.03L569.22,60.60L571.14,60.60L572.22,60.10L573.52,58.96M573.52,54.24L573.52,58.96M578.45,48.60L578.45,60.60M603.06,46.31L591.98,64.60M624.60,50.31L623.37,49.17L621.60,48.60L618.98,48.60L617.22,49.17L615.98,50.31L615.98,51.53L616.52,52.53L617.22,53.17L618.60,53.81L622.22,54.89L623.29,55.39L623.98,56.03L624.60,57.17L624.60,58.89L623.37,60.03L621.60,60.60L618.98,60.60L617.22,60.03L615.98,58.89M628.91,54.31L628.91,48.67L628.98,48.60L636.91,48.60M628.91,54.31L628.91,60.60M628.91,54.31L633.83,54.31M648.60,57.74L648.06,58.81L646.68,60.10L645.60,60.60L643.06,60.60L641.83,60.03L640.52,58.81L639.98,57.81L639.37,56.10L639.37,53.10L639.91,51.60L640.60,50.31L641.83,49.17L643.06,48.60L645.60,48.60L646.68,49.10L647.98,50.31L648.60,51.46" fill="none" stroke="#3232ff" stroke-width="1.45" stroke-linecap="round" stroke-linejoin="round"/><path d="M46.80,76.36L46.80,70.67L46.87,70.60L51.86,70.60L53.46,71.12L54.01,71.65L54.57,72.70L54.57,74.33L54.08,75.25L53.46,75.84L51.86,76.36L46.80,76.36M46.80,76.36L46.80,81.60M62.89,74.27L61.23,74.27L60.12,74.79L59.01,75.84L58.59,77.08L58.45,77.15M58.45,74.27L58.45,77.15M58.45,77.15L58.45,81.60M72.12,79.05L72.33,78.52L72.33,77.34L71.77,75.84L70.59,74.72L69.62,74.27L67.89,74.27L66.78,74.79L65.67,75.84L65.11,77.34L65.11,78.52L65.67,80.03L66.78,81.08L67.89,81.60L69.62,81.60L70.59,81.14L71.77,80.03L72.12,79.05M82.31,81.60L82.31,76.30L81.69,74.72L80.72,74.27L78.98,74.27L77.87,74.79L76.21,76.30M76.21,76.30L76.21,74.27M76.21,76.30L76.21,81.60M93.20,79.05L93.41,78.52L93.41,77.34L92.86,75.84L91.68,74.72L90.71,74.27L88.97,74.27L87.86,74.79L86.75,75.84L86.20,77.34L86.20,78.52L86.75,80.03L87.86,81.08L88.97,81.60L90.71,81.60L91.68,81.14L92.86,80.03L93.20,79.05M96.74,80.03L97.30,81.08L98.89,81.60L100.70,81.60L102.29,81.08L102.85,80.09L102.85,79.50L102.29,78.46L101.25,77.93L98.41,77.41L97.30,76.89L96.74,75.84L97.23,74.92L97.43,74.72L98.89,74.27L100.70,74.27L102.15,74.72L102.36,74.92L102.85,75.84M107.28,74.27L105.62,74.27M107.28,74.27L107.28,70.60M107.28,74.27L107.28,79.57L107.77,80.95L107.98,81.14L108.95,81.60L110.06,81.60M107.28,74.27L109.50,74.27M113.39,74.27L113.39,81.60M113.18,70.93L112.83,70.60L113.39,70.08L113.94,70.60L113.39,71.12L113.18,70.93M123.93,80.03L122.75,81.14L121.78,81.60L120.05,81.60L118.94,81.08L117.83,80.03L117.27,78.52L117.27,77.34L117.83,75.84L118.94,74.79L120.05,74.27L121.78,74.27L122.75,74.72L123.93,75.84M134.27,79.05L134.47,78.52L134.47,77.34L133.92,75.84L132.74,74.72L131.77,74.27L130.04,74.27L128.93,74.79L127.82,75.84L127.26,77.34L127.26,78.52L127.82,80.03L128.93,81.08L130.04,81.60L131.77,81.60L132.74,81.14L133.92,80.03L134.27,79.05M153.34,80.03L152.16,81.14L151.19,81.60L149.46,81.60L148.35,81.08L147.24,80.03L146.68,78.52L146.68,77.34L147.24,75.84L148.35,74.79L149.46,74.27L151.19,74.27L152.16,74.72L153.34,75.84M163.68,79.05L163.88,78.52L163.88,77.34L163.33,75.84L162.15,74.72L161.18,74.27L159.45,74.27L158.34,74.79L157.23,75.84L156.67,77.34L156.67,78.52L157.23,80.03L158.34,81.08L159.45,81.60L161.18,81.60L162.15,81.14L163.33,80.03L163.68,79.05M173.87,81.60L173.87,76.30L173.25,74.72L172.28,74.27L170.54,74.27L169.43,74.79L167.77,76.30M167.77,76.30L167.77,74.27M167.77,76.30L167.77,81.60M193.29,80.03L192.12,81.14L191.14,81.60L189.41,81.60L188.30,81.08L187.19,80.03L186.64,78.52L186.64,77.41M186.64,77.41L187.19,75.84L188.30,74.79L189.41,74.27L191.14,74.27L192.12,74.72L192.74,75.31L193.29,76.36L193.29,77.34L193.23,77.41L186.64,77.41M197.18,70.60L197.18,81.60M210.50,70.60L210.50,70.80M214.94,81.53L210.64,70.86L210.50,70.80M214.94,81.53L219.24,70.86L219.38,70.80M210.50,70.80L210.50,81.60M219.38,81.60L219.38,70.80M219.38,70.60L219.38,70.80M230.27,79.05L230.47,78.52L230.47,77.34L229.92,75.84L228.74,74.72L227.77,74.27L226.03,74.27L224.92,74.79L223.81,75.84L223.26,77.34L223.26,78.52L223.81,80.03L224.92,81.08L226.03,81.60L227.77,81.60L228.74,81.14L229.92,80.03L230.27,79.05M240.46,75.77L239.28,74.72L238.31,74.27L236.58,74.27L235.47,74.79L234.36,75.84L233.80,77.34L233.80,78.52L234.36,80.03L235.47,81.08L236.58,81.60L238.31,81.60L239.28,81.14L240.46,80.09M240.46,75.77L240.46,70.60M240.46,75.77L240.46,80.09M240.46,80.09L240.46,81.60M251.00,80.03L249.83,81.14L248.85,81.60L247.12,81.60L246.01,81.08L244.90,80.03L244.35,78.52L244.35,77.41M244.35,77.41L244.90,75.84L246.01,74.79L247.12,74.27L248.85,74.27L249.83,74.72L250.45,75.31L251.00,76.36L251.00,77.34L250.94,77.41L244.35,77.41M254.89,70.60L254.89,81.60M265.78,79.05L265.99,78.52L265.99,77.34L265.43,75.84L264.25,74.72L263.28,74.27L261.55,74.27L260.44,74.79L259.33,75.84L258.77,77.34L258.77,78.52L259.33,80.03L260.44,81.08L261.55,81.60L263.28,81.60L264.25,81.14L265.43,80.03L265.78,79.05M284.30,77.93L278.75,77.93M285.96,81.60L281.52,70.67M281.52,70.67L277.09,81.60M289.29,74.27L287.63,74.27M289.29,74.27L289.29,70.60M289.29,74.27L289.29,79.57L289.78,80.95L289.99,81.14L290.96,81.60L292.07,81.60M289.29,74.27L291.51,74.27M295.40,76.30L295.40,74.27M295.40,76.30L295.40,81.60M295.40,76.30L297.06,74.79L298.17,74.27L299.91,74.27L300.88,74.72L301.50,76.30M301.50,81.60L301.50,76.30M307.60,81.60L307.60,76.30L306.98,74.72L306.01,74.27L304.28,74.27L303.17,74.79L301.50,76.30M318.49,79.05L318.70,78.52L318.70,77.34L318.15,75.84L316.97,74.72L316.00,74.27L314.26,74.27L313.15,74.79L312.04,75.84L311.49,77.34L311.49,78.52L312.04,80.03L313.15,81.08L314.26,81.60L316.00,81.60L316.97,81.14L318.15,80.03L318.49,79.05M322.03,80.03L322.59,81.08L324.18,81.60L325.99,81.60L327.58,81.08L328.14,80.09L328.14,79.50L327.58,78.46L326.54,77.93L323.70,77.41L322.59,76.89L322.03,75.84L322.52,74.92L322.73,74.72L324.18,74.27L325.99,74.27L327.44,74.72L327.65,74.92L328.14,75.84M332.58,74.27L330.91,74.27M332.58,74.27L332.58,72.63L333.06,71.25L333.27,71.06L334.24,70.60L335.35,70.60M332.58,74.27L332.58,81.60M332.58,74.27L334.80,74.27M344.78,80.03L343.60,81.14L342.63,81.60L340.90,81.60L339.79,81.08L338.68,80.03L338.12,78.52L338.12,77.41M338.12,77.41L338.68,75.84L339.79,74.79L340.90,74.27L342.63,74.27L343.60,74.72L344.23,75.31L344.78,76.36L344.78,77.34L344.71,77.41L338.12,77.41M353.11,74.27L351.44,74.27L350.33,74.79L349.22,75.84L348.81,77.08L348.67,77.15M348.67,74.27L348.67,77.15M348.67,77.15L348.67,81.60M355.88,74.27L355.88,81.60M355.67,70.93L355.33,70.60L355.88,70.08L356.44,70.60L355.88,71.12L355.67,70.93M366.42,80.03L365.25,81.14L364.27,81.60L362.54,81.60L361.43,81.08L360.32,80.03L359.77,78.52L359.77,77.34L360.32,75.84L361.43,74.79L362.54,74.27L364.27,74.27L365.25,74.72L366.42,75.84M376.76,79.05L376.97,78.52L376.97,77.34L376.41,75.84L375.23,74.72L374.26,74.27L372.53,74.27L371.42,74.79L370.31,75.84L369.75,77.34L369.75,78.52L370.31,80.03L371.42,81.08L372.53,81.60L374.26,81.60L375.23,81.14L376.41,80.03L376.76,79.05M388.62,70.60L391.40,81.47M391.40,81.47L394.17,70.73M394.17,70.73L396.94,81.47M399.72,70.60L396.94,81.47M410.82,81.60L407.21,76.30L407.00,75.84M407.00,75.84L403.05,75.84M407.00,75.84L408.11,75.84L409.57,75.38L410.33,74.72L410.82,73.81L410.82,72.70L410.26,71.65L409.71,71.12L408.11,70.60L403.12,70.60L403.05,70.67L403.05,75.84M403.05,75.84L403.05,81.60M414.70,75.84L414.70,70.67L414.77,70.60L421.92,70.60M414.70,75.84L414.70,81.60M414.70,75.84L419.14,75.84M433.57,74.27L433.57,81.60M433.36,70.93L433.01,70.60L433.57,70.08L434.12,70.60L433.57,71.12L433.36,70.93M444.11,81.60L444.11,76.30L443.49,74.72L442.52,74.27L440.78,74.27L439.67,74.79L438.01,76.30M438.01,76.30L438.01,74.27M438.01,76.30L438.01,81.60M448.55,74.27L448.55,81.60M448.34,70.93L448.00,70.60L448.55,70.08L449.11,70.60L448.55,71.12L448.34,70.93M459.09,80.03L457.91,81.14L456.94,81.60L455.21,81.60L454.10,81.08L452.99,80.03L452.43,78.52L452.43,77.34L452.99,75.84L454.10,74.79L455.21,74.27L456.94,74.27L457.91,74.72L459.09,75.84M462.98,74.27L462.98,81.60M462.77,70.93L462.42,70.60L462.98,70.08L463.53,70.60L462.98,71.12L462.77,70.93M473.52,81.60L473.52,80.09M473.52,74.27L473.52,75.77M473.52,75.77L472.34,74.72L471.37,74.27L469.64,74.27L468.53,74.79L467.42,75.84L466.86,77.34L466.86,78.52L467.42,80.03L468.53,81.08L469.64,81.60L471.37,81.60L472.34,81.14L473.52,80.09M473.52,75.77L473.52,80.09M477.96,70.60L477.96,81.60M482.40,74.27L482.40,81.60M482.19,70.93L481.84,70.60L482.40,70.08L482.95,70.60L482.40,71.12L482.19,70.93M486.28,74.27L492.25,74.27L492.32,74.33L486.35,81.53L486.42,81.60L492.39,81.60M502.38,81.60L502.38,80.09M502.38,74.27L502.38,75.77M502.38,75.77L501.20,74.72L500.23,74.27L498.49,74.27L497.38,74.79L496.27,75.84L495.72,77.34L495.72,78.52L496.27,80.03L497.38,81.08L498.49,81.60L500.23,81.60L501.20,81.14L502.38,80.09M502.38,75.77L502.38,80.09M512.92,75.77L511.74,74.72L510.77,74.27L509.03,74.27L507.93,74.79L506.82,75.84L506.26,77.34L506.26,78.52L506.82,80.03L507.93,81.08L509.03,81.60L510.77,81.60L511.74,81.14L512.92,80.09M512.92,75.77L512.92,70.60M512.92,75.77L512.92,80.09M512.92,80.09L512.92,81.60M523.81,79.05L524.02,78.52L524.02,77.34L523.46,75.84L522.28,74.72L521.31,74.27L519.58,74.27L518.47,74.79L517.36,75.84L516.80,77.34L516.80,78.52L517.36,80.03L518.47,81.08L519.58,81.60L521.31,81.60L522.28,81.14L523.46,80.03L523.81,79.05M542.88,81.60L542.88,80.09M542.88,74.27L542.88,75.77M542.88,75.77L541.70,74.72L540.73,74.27L539.00,74.27L537.89,74.79L536.78,75.84L536.23,77.34L536.23,78.52L536.78,80.03L537.89,81.08L539.00,81.60L540.73,81.60L541.70,81.14L542.88,80.09M542.88,75.77L542.88,80.09M556.20,70.60L556.20,81.60M566.74,81.60L566.74,80.09M566.74,74.27L566.74,75.77M566.74,75.77L565.57,74.72L564.59,74.27L562.86,74.27L561.75,74.79L560.64,75.84L560.09,77.34L560.09,78.52L560.64,80.03L561.75,81.08L562.86,81.60L564.59,81.60L565.57,81.14L566.74,80.09M566.74,75.77L566.74,80.09M570.63,80.03L571.18,81.08L572.78,81.60L574.58,81.60L576.18,81.08L576.73,80.09L576.73,79.50L576.18,78.46L575.14,77.93L572.29,77.41L571.18,76.89L570.63,75.84L571.11,74.92L571.32,74.72L572.78,74.27L574.58,74.27L576.04,74.72L576.25,74.92L576.73,75.84M594.00,70.80L593.45,70.60L592.20,70.60L590.61,71.12L589.50,72.70L588.94,75.18L588.94,77.02L589.50,79.50L590.61,81.08L592.20,81.60L593.45,81.60L595.11,81.01L596.15,79.50L596.71,77.02L596.71,75.18L596.15,72.70L595.05,71.12L594.00,70.80M605.10,70.80L604.55,70.60L603.30,70.60L601.70,71.12L600.59,72.70L600.04,75.18L600.04,77.02L600.59,79.50L601.70,81.08L603.30,81.60L604.55,81.60L606.21,81.01L607.25,79.50L607.81,77.02L607.81,75.18L607.25,72.70L606.14,71.12L605.10,70.80M616.20,70.80L615.65,70.60L614.40,70.60L612.80,71.12L611.69,72.70L611.14,75.18L611.14,77.02L611.69,79.50L612.80,81.08L614.40,81.60L615.65,81.60L617.31,81.01L618.35,79.50L618.91,77.02L618.91,75.18L618.35,72.70L617.24,71.12L616.20,70.80M627.30,70.80L626.74,70.60L625.50,70.60L623.90,71.12L622.79,72.70L622.24,75.18L622.24,77.02L622.79,79.50L623.90,81.08L625.50,81.60L626.74,81.60L628.41,81.01L629.45,79.50L630.00,77.02L630.00,75.18L629.45,72.70L628.34,71.12L627.30,70.80M633.89,70.60L633.89,78.52L634.44,80.03L635.55,81.08L637.15,81.60L638.40,81.60L639.85,81.14L641.17,79.90L641.66,78.52L641.66,70.60M644.43,70.60L648.32,70.60M652.20,70.60L648.32,70.60M648.32,81.60L648.32,70.60M662.74,78.98L662.26,79.96L661.01,81.14L660.04,81.60L657.75,81.60L656.64,81.08L655.46,79.96L654.97,79.05L654.42,77.47L654.42,74.72L654.91,73.35L655.53,72.17L656.64,71.12L657.75,70.60L660.04,70.60L661.01,71.06L662.19,72.17L662.74,73.22M673.84,83.70L664.96,83.70M676.62,73.22L676.62,72.70L677.17,71.65L677.73,71.12L678.84,70.60L681.12,70.60L682.10,71.06L682.72,71.65L683.27,72.70L683.27,73.81L682.79,74.72L681.68,76.30L676.13,81.53L676.20,81.60L683.83,81.60M692.22,70.80L691.67,70.60L690.42,70.60L688.82,71.12L687.71,72.70L687.16,75.18L687.16,77.02L687.71,79.50L688.82,81.08L690.42,81.60L691.67,81.60L693.33,81.01L694.37,79.50L694.93,77.02L694.93,75.18L694.37,72.70L693.26,71.12L692.22,70.80M704.36,77.93L698.81,77.93M706.03,81.60L701.59,70.67M701.59,70.67L697.15,81.60M716.57,73.22L716.01,72.17L714.83,71.06L713.86,70.60L711.57,70.60L710.47,71.12L709.36,72.17L708.73,73.35L708.25,74.72L708.25,77.47L708.80,79.05L709.29,79.96L710.47,81.08L711.57,81.60L713.86,81.60L714.83,81.14L716.08,79.96L716.57,79.05L716.57,77.47L716.50,77.41L713.79,77.41M720.45,73.28L721.01,72.17L722.12,71.12L723.23,70.60L725.52,70.60L726.49,71.06L727.67,72.17L728.29,73.35L728.78,74.72L728.78,77.47L728.22,79.05L727.74,79.96L726.49,81.14L725.52,81.60L723.23,81.60L722.12,81.08L720.94,79.96L720.45,79.05L719.90,77.47L719.90,74.72L720.45,73.28M732.66,73.22L732.66,72.70L733.22,71.65L733.77,71.12L734.88,70.60L737.17,70.60L738.14,71.06L738.77,71.65L739.32,72.70L739.32,73.81L738.83,74.72L737.72,76.30L732.18,81.53L732.25,81.60L739.88,81.60M748.27,70.80L747.71,70.60L746.46,70.60L744.87,71.12L743.76,72.70L743.20,75.18L743.20,77.02L743.76,79.50L744.87,81.08L746.46,81.60L747.71,81.60L749.38,81.01L750.42,79.50L750.97,77.02L750.97,75.18L750.42,72.70L749.31,71.12L748.27,70.80M754.86,73.22L754.86,72.70L755.41,71.65L755.97,71.12L757.08,70.60L759.37,70.60L760.34,71.06L760.96,71.65L761.52,72.70L761.52,73.81L761.03,74.72L759.92,76.30L754.37,81.53L754.44,81.60L762.07,81.60M765.40,79.50L765.89,80.49L766.51,81.08L768.11,81.60L769.91,81.60L771.37,81.14L772.61,80.03L773.17,78.52L773.17,77.34L772.61,75.84L771.50,74.79L769.91,74.27L768.11,74.27L766.65,74.72L766.02,75.25L765.96,75.18L766.44,70.93L766.58,70.60L772.06,70.60M791.48,74.27L788.15,81.53M788.15,81.53L787.11,83.63L785.86,84.81L784.89,85.27L784.27,85.27M788.15,81.53L784.82,74.27M805.91,81.53L802.58,74.27M805.91,81.53L809.24,74.27M818.67,81.60L818.67,80.09M818.67,74.27L818.67,75.77M818.67,75.77L817.49,74.72L816.52,74.27L814.79,74.27L813.68,74.79L812.57,75.84L812.01,77.34L812.01,78.52L812.57,80.03L813.68,81.08L814.79,81.60L816.52,81.60L817.49,81.14L818.67,80.09M818.67,75.77L818.67,80.09M823.11,70.60L823.11,81.60M827.55,74.27L827.55,81.60M827.34,70.93L826.99,70.60L827.55,70.08L828.10,70.60L827.55,71.12L827.34,70.93M838.09,75.77L836.91,74.72L835.94,74.27L834.21,74.27L833.10,74.79L831.99,75.84L831.43,77.34L831.43,78.52L831.99,80.03L833.10,81.08L834.21,81.60L835.94,81.60L836.91,81.14L838.09,80.09M838.09,75.77L838.09,70.60M838.09,75.77L838.09,80.09M838.09,80.09L838.09,81.60M848.98,79.05L849.19,78.52L849.19,77.34L848.64,75.84L847.46,74.72L846.49,74.27L844.75,74.27L843.64,74.79L842.53,75.84L841.98,77.34L841.98,78.52L842.53,80.03L843.64,81.08L844.75,81.60L846.49,81.60L847.46,81.14L848.64,80.03L848.98,79.05M861.95,70.60L861.95,76.30M868.06,81.60L868.06,76.30L867.43,74.72L866.46,74.27L864.73,74.27L863.62,74.79L861.95,76.30M861.95,76.30L861.95,81.60M878.60,81.60L878.60,80.09M878.60,74.27L878.60,75.77M878.60,75.77L877.42,74.72L876.45,74.27L874.72,74.27L873.61,74.79L872.50,75.84L871.94,77.34L871.94,78.52L872.50,80.03L873.61,81.08L874.72,81.60L876.45,81.60L877.42,81.14L878.60,80.09M878.60,75.77L878.60,80.09M882.49,80.03L883.04,81.08L884.64,81.60L886.44,81.60L888.03,81.08L888.59,80.09L888.59,79.50L888.03,78.46L886.99,77.93L884.15,77.41L883.04,76.89L882.49,75.84L882.97,74.92L883.18,74.72L884.64,74.27L886.44,74.27L887.90,74.72L888.10,74.92L888.59,75.84M893.03,74.27L891.36,74.27M893.03,74.27L893.03,70.60M893.03,74.27L893.03,79.57L893.51,80.95L893.72,81.14L894.69,81.60L895.80,81.60M893.03,74.27L895.25,74.27M905.24,81.60L905.24,80.09M905.24,74.27L905.24,75.77M905.24,75.77L904.06,74.72L903.09,74.27L901.35,74.27L900.24,74.79L899.13,75.84L898.58,77.34L898.58,78.52L899.13,80.03L900.24,81.08L901.35,81.60L903.09,81.60L904.06,81.14L905.24,80.09M905.24,75.77L905.24,80.09M918.55,70.60L918.55,81.60M929.10,81.60L929.10,80.09M929.10,74.27L929.10,75.77M929.10,75.77L927.92,74.72L926.95,74.27L925.21,74.27L924.10,74.79L922.99,75.84L922.44,77.34L922.44,78.52L922.99,80.03L924.10,81.08L925.21,81.60L926.95,81.60L927.92,81.14L929.10,80.09M929.10,75.77L929.10,80.09M932.98,80.03L933.54,81.08L935.13,81.60L936.94,81.60L938.53,81.08L939.09,80.09L939.09,79.50L938.53,78.46L937.49,77.93L934.65,77.41L933.54,76.89L932.98,75.84L933.47,74.92L933.68,74.72L935.13,74.27L936.94,74.27L938.39,74.72L938.60,74.92L939.09,75.84M965.24,70.80L964.68,70.60L963.43,70.60L961.84,71.12L960.73,72.70L960.17,75.18L960.17,77.02L960.73,79.50L961.84,81.08L963.43,81.60L964.68,81.60L966.35,81.01L967.39,79.50L967.94,77.02L967.94,75.18L967.39,72.70L966.28,71.12L965.24,70.80M976.33,70.80L975.78,70.60L974.53,70.60L972.93,71.12L971.82,72.70L971.27,75.18L971.27,77.02L971.82,79.50L972.93,81.08L974.53,81.60L975.78,81.60L977.44,81.01L978.48,79.50L979.04,77.02L979.04,75.18L978.48,72.70L977.37,71.12L976.33,70.80M987.43,70.80L986.88,70.60L985.63,70.60L984.03,71.12L982.92,72.70L982.37,75.18L982.37,77.02L982.92,79.50L984.03,81.08L985.63,81.60L986.88,81.60L988.54,81.01L989.58,79.50L990.14,77.02L990.14,75.18L989.58,72.70L988.47,71.12L987.43,70.80M998.53,70.80L997.97,70.60L996.73,70.60L995.13,71.12L994.02,72.70L993.47,75.18L993.47,77.02L994.02,79.50L995.13,81.08L996.73,81.60L997.97,81.60L999.64,81.01L1000.68,79.50L1001.23,77.02L1001.23,75.18L1000.68,72.70L999.57,71.12L998.53,70.80M1005.12,70.60L1005.12,78.52L1005.67,80.03L1006.78,81.08L1008.38,81.60L1009.63,81.60L1011.08,81.14L1012.40,79.90L1012.89,78.52L1012.89,70.60M1015.66,70.60L1019.55,70.60M1023.43,70.60L1019.55,70.60M1019.55,81.60L1019.55,70.60M1033.97,78.98L1033.49,79.96L1032.24,81.14L1031.27,81.60L1028.98,81.60L1027.87,81.08L1026.69,79.96L1026.21,79.05L1025.65,77.47L1025.65,74.72L1026.14,73.35L1026.76,72.17L1027.87,71.12L1028.98,70.60L1031.27,70.60L1032.24,71.06L1033.42,72.17L1033.97,73.22M1045.07,83.70L1036.19,83.70M1047.85,73.22L1047.85,72.70L1048.40,71.65L1048.96,71.12L1050.07,70.60L1052.36,70.60L1053.33,71.06L1053.95,71.65L1054.51,72.70L1054.51,73.81L1054.02,74.72L1052.91,76.30L1047.36,81.53L1047.43,81.60L1055.06,81.60M1059.50,70.60L1065.46,70.60L1065.53,70.67L1062.34,74.72L1062.41,74.79L1064.01,74.79L1064.98,75.25L1065.60,75.84L1066.16,77.34L1066.16,78.52L1065.60,80.03L1064.49,81.08L1062.90,81.60L1061.10,81.60L1059.64,81.14L1058.88,80.49L1058.39,79.50M1075.59,77.93L1070.04,77.93M1077.26,81.60L1072.82,70.67M1072.82,70.67L1068.38,81.60M1087.80,73.22L1087.24,72.17L1086.07,71.06L1085.09,70.60L1082.81,70.60L1081.70,71.12L1080.59,72.17L1079.96,73.35L1079.48,74.72L1079.48,77.47L1080.03,79.05L1080.52,79.96L1081.70,81.08L1082.81,81.60L1085.09,81.60L1086.07,81.14L1087.31,79.96L1087.80,79.05L1087.80,77.47L1087.73,77.41L1085.03,77.41M1091.68,73.28L1092.24,72.17L1093.35,71.12L1094.46,70.60L1096.75,70.60L1097.72,71.06L1098.90,72.17L1099.52,73.35L1100.01,74.72L1100.01,77.47L1099.45,79.05L1098.97,79.96L1097.72,81.14L1096.75,81.60L1094.46,81.60L1093.35,81.08L1092.17,79.96L1091.68,79.05L1091.13,77.47L1091.13,74.72L1091.68,73.28M1103.89,73.22L1103.89,72.70L1104.45,71.65L1105.00,71.12L1106.11,70.60L1108.40,70.60L1109.37,71.06L1110.00,71.65L1110.55,72.70L1110.55,73.81L1110.07,74.72L1108.96,76.30L1103.41,81.53L1103.48,81.60L1111.11,81.60M1119.50,70.80L1118.94,70.60L1117.70,70.60L1116.10,71.12L1114.99,72.70L1114.44,75.18L1114.44,77.02L1114.99,79.50L1116.10,81.08L1117.70,81.60L1118.94,81.60L1120.61,81.01L1121.65,79.50L1122.20,77.02L1122.20,75.18L1121.65,72.70L1120.54,71.12L1119.50,70.80M1126.09,73.22L1126.09,72.70L1126.64,71.65L1127.20,71.12L1128.31,70.60L1130.60,70.60L1131.57,71.06L1132.19,71.65L1132.75,72.70L1132.75,73.81L1132.26,74.72L1131.15,76.30L1125.60,81.53L1125.67,81.60L1133.30,81.60M1136.63,79.50L1137.12,80.49L1137.74,81.08L1139.34,81.60L1141.14,81.60L1142.60,81.14L1143.85,80.03L1144.40,78.52L1144.40,77.34L1143.85,75.84L1142.74,74.79L1141.14,74.27L1139.34,74.27L1137.88,74.72L1137.26,75.25L1137.19,75.18L1137.67,70.93L1137.81,70.60L1143.29,70.60M88.97,72.43 L90.64,69.81M314.26,72.43 L315.93,69.81M814.79,72.43 L816.45,69.81" fill="none" stroke="#1e9bff" stroke-width="1.40" stroke-linecap="round" stroke-linejoin="round"/></svg></body></html>
